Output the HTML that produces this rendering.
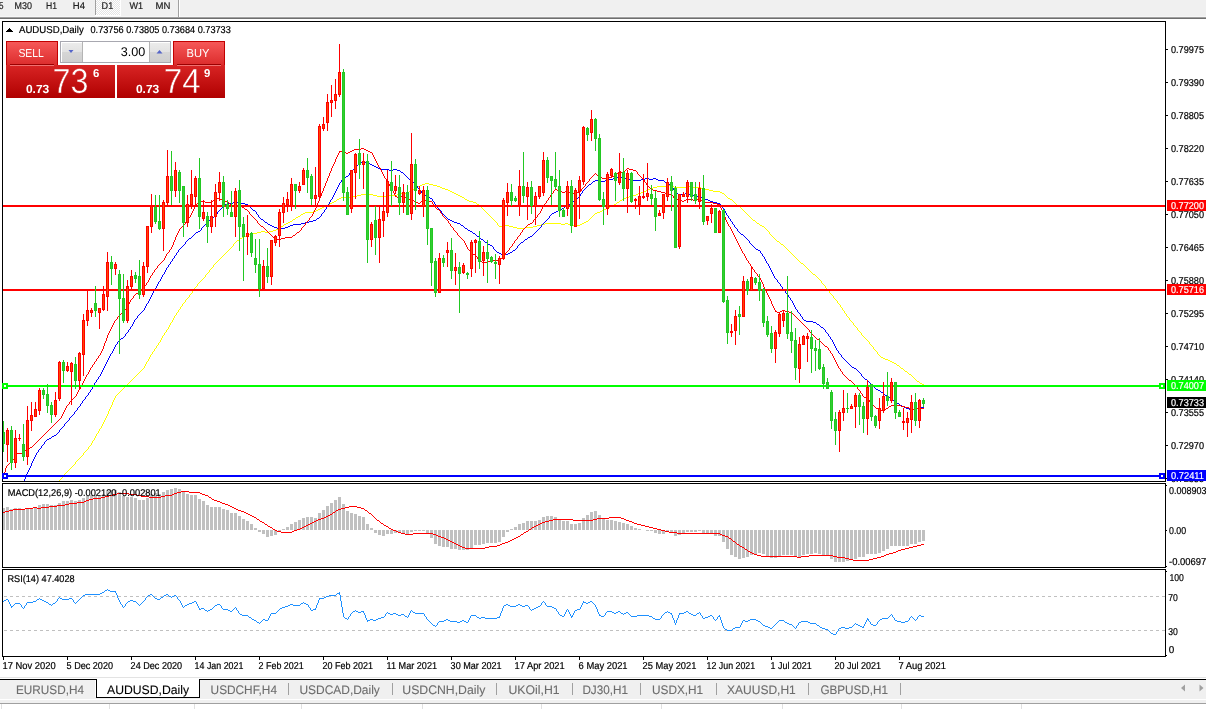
<!DOCTYPE html>
<html><head><meta charset="utf-8"><title>AUDUSD,Daily</title>
<style>html,body{margin:0;padding:0;background:#fff;overflow:hidden}svg{display:block}</style></head>
<body><svg width="1206" height="709" viewBox="0 0 1206 709" shape-rendering="crispEdges" text-rendering="geometricPrecision">
<rect x="0" y="0" width="1206" height="709" fill="#fff"/>
<rect x="0" y="0" width="1206" height="17" fill="#f0f0f0"/><rect x="0" y="17" width="1206" height="1" fill="#a0a0a0"/><rect x="0" y="18" width="1206" height="1" fill="#6f6f6f"/><defs><pattern id="chk" x="0" y="0" width="2" height="2" patternUnits="userSpaceOnUse"><rect width="2" height="2" fill="#ffffff"/><rect x="1" y="0" width="1" height="1" fill="#e4e4e4"/><rect x="0" y="1" width="1" height="1" fill="#e4e4e4"/></pattern></defs><rect x="95" y="0" width="1" height="15" fill="#a0a0a0"/><rect x="96" y="0" width="24" height="15" fill="url(#chk)"/><rect x="120" y="0" width="1" height="16" fill="#ffffff"/><rect x="95" y="15" width="26" height="1" fill="#ffffff"/><rect x="0" y="16" width="1206" height="1" fill="#f6f6f6"/><rect x="178" y="0" width="1" height="17" fill="#a0a0a0"/><rect x="179" y="0" width="1" height="17" fill="#ffffff"/><text x="-1" y="9" font-size="9.8" fill="#222" font-family="'Liberation Sans', Arial, sans-serif" textLength="4.5" lengthAdjust="spacingAndGlyphs" stroke="#222" stroke-width="0.2">5</text><text x="14.6" y="9" font-size="9.8" fill="#222" font-family="'Liberation Sans', Arial, sans-serif" textLength="17.4" lengthAdjust="spacingAndGlyphs" stroke="#222" stroke-width="0.2">M30</text><text x="46" y="9" font-size="9.8" fill="#222" font-family="'Liberation Sans', Arial, sans-serif" textLength="11" lengthAdjust="spacingAndGlyphs" stroke="#222" stroke-width="0.2">H1</text><text x="72.8" y="9" font-size="9.8" fill="#222" font-family="'Liberation Sans', Arial, sans-serif" textLength="12.2" lengthAdjust="spacingAndGlyphs" stroke="#222" stroke-width="0.2">H4</text><text x="101.6" y="9" font-size="9.8" fill="#222" font-family="'Liberation Sans', Arial, sans-serif" textLength="11.6" lengthAdjust="spacingAndGlyphs" stroke="#222" stroke-width="0.2">D1</text><text x="129.4" y="9" font-size="9.8" fill="#222" font-family="'Liberation Sans', Arial, sans-serif" textLength="13.6" lengthAdjust="spacingAndGlyphs" stroke="#222" stroke-width="0.2">W1</text><text x="155.5" y="9" font-size="9.8" fill="#222" font-family="'Liberation Sans', Arial, sans-serif" textLength="14.9" lengthAdjust="spacingAndGlyphs" stroke="#222" stroke-width="0.2">MN</text><defs><clipPath id="cm"><rect x="3" y="22" width="1162" height="459"/></clipPath><clipPath id="cmacd"><rect x="3" y="484" width="1162" height="83"/></clipPath><clipPath id="crsi"><rect x="3" y="570" width="1162" height="86"/></clipPath></defs><rect x="2" y="21" width="1164" height="1" fill="#000"/><rect x="2" y="481" width="1164" height="1" fill="#000"/><rect x="2" y="21" width="1" height="461" fill="#000"/><rect x="1165" y="21" width="1" height="461" fill="#000"/><rect x="2" y="483" width="1164" height="1" fill="#000"/><rect x="2" y="567" width="1164" height="1" fill="#000"/><rect x="2" y="483" width="1" height="85" fill="#000"/><rect x="1165" y="483" width="1" height="85" fill="#000"/><rect x="2" y="569" width="1164" height="1" fill="#000"/><rect x="2" y="656" width="1164" height="1" fill="#000"/><rect x="2" y="569" width="1" height="88" fill="#000"/><rect x="1165" y="569" width="1" height="88" fill="#000"/><g clip-path="url(#cm)"><path d="M59 480h1v1h-1zM60 479h1v1h-1zM61 478h1v1h-1zM62 477h1v1h-1zM63 476h1v1h-1zM64 474h1v2h-1zM65 473h1v1h-1zM66 472h1v1h-1zM67 471h1v1h-1zM68 470h1v1h-1zM69 469h1v1h-1zM70 468h1v1h-1zM71 467h1v1h-1zM72 466h1v1h-1zM73 465h1v1h-1zM74 464h1v1h-1zM75 462h1v2h-1zM76 461h1v1h-1zM77 460h1v1h-1zM78 459h1v1h-1zM79 458h1v1h-1zM80 457h1v1h-1zM81 456h1v1h-1zM82 455h1v1h-1zM83 453h1v2h-1zM84 452h1v1h-1zM85 451h1v1h-1zM86 450h1v1h-1zM87 449h1v1h-1zM88 447h1v2h-1zM89 446h1v1h-1zM90 445h1v1h-1zM91 443h1v2h-1zM92 441h1v2h-1zM93 440h1v1h-1zM94 438h1v2h-1zM95 436h1v2h-1zM96 434h1v2h-1zM97 433h1v1h-1zM98 431h1v2h-1zM99 429h1v2h-1zM100 428h1v1h-1zM101 426h1v2h-1zM102 424h1v2h-1zM103 422h1v2h-1zM104 420h1v2h-1zM105 418h1v2h-1zM106 416h1v2h-1zM107 414h1v2h-1zM108 411h1v3h-1zM109 409h1v2h-1zM110 407h1v2h-1zM111 405h1v2h-1zM112 402h1v3h-1zM113 400h1v2h-1zM114 398h1v2h-1zM115 396h1v2h-1zM116 395h1v1h-1zM117 394h1v1h-1zM118 393h1v1h-1zM119 392h1v1h-1zM120 391h1v1h-1zM121 390h1v1h-1zM122 389h1v1h-1zM123 388h1v1h-1zM124 387h1v1h-1zM125 386h1v1h-1zM126 385h1v1h-1zM127 384h1v1h-1zM128 383h1v1h-1zM129 382h1v1h-1zM130 381h1v1h-1zM131 380h1v1h-1zM132 379h1v1h-1zM133 378h1v1h-1zM134 377h1v1h-1zM135 376h1v1h-1zM136 375h1v1h-1zM137 374h1v1h-1zM138 373h1v1h-1zM139 372h1v1h-1zM140 371h1v1h-1zM141 370h1v1h-1zM142 369h1v1h-1zM143 368h1v1h-1zM144 366h1v2h-1zM145 364h1v2h-1zM146 362h1v2h-1zM147 361h1v1h-1zM148 359h1v2h-1zM149 357h1v2h-1zM150 355h1v2h-1zM151 354h1v1h-1zM152 352h1v2h-1zM153 351h1v1h-1zM154 349h1v2h-1zM155 348h1v1h-1zM156 346h1v2h-1zM157 345h1v1h-1zM158 343h1v2h-1zM159 342h1v1h-1zM160 340h1v2h-1zM161 338h1v2h-1zM162 336h1v2h-1zM163 335h1v1h-1zM164 333h1v2h-1zM165 332h1v1h-1zM166 330h1v2h-1zM167 329h1v1h-1zM168 327h1v2h-1zM169 325h1v2h-1zM170 323h1v2h-1zM171 322h1v1h-1zM172 320h1v2h-1zM173 318h1v2h-1zM174 316h1v2h-1zM175 315h1v1h-1zM176 313h1v2h-1zM177 312h1v1h-1zM178 310h1v2h-1zM179 309h1v1h-1zM180 307h1v2h-1zM181 306h1v1h-1zM182 304h1v2h-1zM183 303h1v1h-1zM184 302h1v1h-1zM185 300h1v2h-1zM186 299h1v1h-1zM187 298h1v1h-1zM188 297h1v1h-1zM189 295h1v2h-1zM190 294h1v1h-1zM191 293h1v1h-1zM192 291h1v2h-1zM193 290h1v1h-1zM194 288h1v2h-1zM195 287h1v1h-1zM196 286h1v1h-1zM197 284h1v2h-1zM198 283h1v1h-1zM199 282h1v1h-1zM200 281h1v1h-1zM201 280h1v1h-1zM202 279h1v1h-1zM203 278h1v1h-1zM204 277h1v1h-1zM205 275h1v2h-1zM206 274h1v1h-1zM207 273h1v1h-1zM208 272h1v1h-1zM209 270h1v2h-1zM210 269h1v1h-1zM211 268h1v1h-1zM212 267h1v1h-1zM213 265h1v2h-1zM214 264h1v1h-1zM215 263h1v1h-1zM216 262h1v1h-1zM217 261h1v1h-1zM218 260h1v1h-1zM219 259h1v1h-1zM220 258h1v1h-1zM221 257h1v1h-1zM222 256h1v1h-1zM223 255h1v1h-1zM224 254h1v1h-1zM225 253h1v1h-1zM226 252h1v1h-1zM227 251h1v1h-1zM228 250h1v1h-1zM229 249h1v1h-1zM230 248h1v1h-1zM231 247h1v1h-1zM232 246h1v1h-1zM233 244h1v2h-1zM234 243h1v1h-1zM235 242h1v1h-1zM236 241h1v1h-1zM237 240h1v1h-1zM238 240h1v1h-1zM239 239h1v1h-1zM240 238h1v1h-1zM241 238h1v1h-1zM242 237h1v1h-1zM243 237h1v1h-1zM244 236h1v1h-1zM245 236h1v1h-1zM246 235h1v1h-1zM247 235h1v1h-1zM248 235h1v1h-1zM249 234h1v1h-1zM250 234h1v1h-1zM251 234h1v1h-1zM252 234h1v1h-1zM253 233h1v1h-1zM254 233h1v1h-1zM255 233h1v1h-1zM256 233h1v1h-1zM257 232h1v1h-1zM258 232h1v1h-1zM259 232h1v1h-1zM260 232h1v1h-1zM261 231h1v1h-1zM262 231h1v1h-1zM263 231h1v1h-1zM264 231h1v1h-1zM265 232h1v1h-1zM266 232h1v1h-1zM267 232h1v1h-1zM268 232h1v1h-1zM269 231h1v1h-1zM270 231h1v1h-1zM271 231h1v1h-1zM272 231h1v1h-1zM273 230h1v1h-1zM274 230h1v1h-1zM275 230h1v1h-1zM276 229h1v1h-1zM277 229h1v1h-1zM278 228h1v1h-1zM279 228h1v1h-1zM280 227h1v1h-1zM281 226h1v1h-1zM282 226h1v1h-1zM283 225h1v1h-1zM284 224h1v1h-1zM285 224h1v1h-1zM286 223h1v1h-1zM287 223h1v1h-1zM288 222h1v1h-1zM289 222h1v1h-1zM290 221h1v1h-1zM291 221h1v1h-1zM292 220h1v1h-1zM293 219h1v1h-1zM294 219h1v1h-1zM295 218h1v1h-1zM296 217h1v1h-1zM297 217h1v1h-1zM298 216h1v1h-1zM299 216h1v1h-1zM300 215h1v1h-1zM301 214h1v1h-1zM302 214h1v1h-1zM303 213h1v1h-1zM304 213h1v1h-1zM305 212h1v1h-1zM306 212h1v1h-1zM307 212h1v1h-1zM308 212h1v1h-1zM309 212h1v1h-1zM310 212h1v1h-1zM311 212h1v1h-1zM312 212h1v1h-1zM313 211h1v1h-1zM314 211h1v1h-1zM315 211h1v1h-1zM316 210h1v1h-1zM317 210h1v1h-1zM318 209h1v1h-1zM319 209h1v1h-1zM320 208h1v1h-1zM321 208h1v1h-1zM322 207h1v1h-1zM323 207h1v1h-1zM324 206h1v1h-1zM325 206h1v1h-1zM326 205h1v1h-1zM327 205h1v1h-1zM328 204h1v1h-1zM329 204h1v1h-1zM330 203h1v1h-1zM331 203h1v1h-1zM332 202h1v1h-1zM333 202h1v1h-1zM334 201h1v1h-1zM335 201h1v1h-1zM336 200h1v1h-1zM337 199h1v1h-1zM338 199h1v1h-1zM339 198h1v1h-1zM340 198h1v1h-1zM341 197h1v1h-1zM342 197h1v1h-1zM343 197h1v1h-1zM344 197h1v1h-1zM345 197h1v1h-1zM346 197h1v1h-1zM347 197h1v1h-1zM348 197h1v1h-1zM349 197h1v1h-1zM350 197h1v1h-1zM351 197h1v1h-1zM352 197h1v1h-1zM353 196h1v1h-1zM354 196h1v1h-1zM355 196h1v1h-1zM356 196h1v1h-1zM357 195h1v1h-1zM358 195h1v1h-1zM359 195h1v1h-1zM360 195h1v1h-1zM361 194h1v1h-1zM362 194h1v1h-1zM363 194h1v1h-1zM364 194h1v1h-1zM365 194h1v1h-1zM366 194h1v1h-1zM367 194h1v1h-1zM368 194h1v1h-1zM369 194h1v1h-1zM370 194h1v1h-1zM371 194h1v1h-1zM372 194h1v1h-1zM373 195h1v1h-1zM374 195h1v1h-1zM375 195h1v1h-1zM376 195h1v1h-1zM377 196h1v1h-1zM378 196h1v1h-1zM379 196h1v1h-1zM380 196h1v1h-1zM381 196h1v1h-1zM382 196h1v1h-1zM383 196h1v1h-1zM384 196h1v1h-1zM385 196h1v1h-1zM386 196h1v1h-1zM387 196h1v1h-1zM388 196h1v1h-1zM389 195h1v1h-1zM390 195h1v1h-1zM391 195h1v1h-1zM392 195h1v1h-1zM393 195h1v1h-1zM394 195h1v1h-1zM395 195h1v1h-1zM396 195h1v1h-1zM397 194h1v1h-1zM398 194h1v1h-1zM399 194h1v1h-1zM400 194h1v1h-1zM401 193h1v1h-1zM402 193h1v1h-1zM403 193h1v1h-1zM404 193h1v1h-1zM405 193h1v1h-1zM406 193h1v1h-1zM407 193h1v1h-1zM408 192h1v1h-1zM409 191h1v1h-1zM410 191h1v1h-1zM411 190h1v1h-1zM412 189h1v1h-1zM413 189h1v1h-1zM414 188h1v1h-1zM415 188h1v1h-1zM416 187h1v1h-1zM417 187h1v1h-1zM418 186h1v1h-1zM419 186h1v1h-1zM420 185h1v1h-1zM421 185h1v1h-1zM422 184h1v1h-1zM423 184h1v1h-1zM424 184h1v1h-1zM425 183h1v1h-1zM426 183h1v1h-1zM427 183h1v1h-1zM428 183h1v1h-1zM429 184h1v1h-1zM430 184h1v1h-1zM431 184h1v1h-1zM432 184h1v1h-1zM433 185h1v1h-1zM434 185h1v1h-1zM435 185h1v1h-1zM436 185h1v1h-1zM437 186h1v1h-1zM438 186h1v1h-1zM439 186h1v1h-1zM440 187h1v1h-1zM441 187h1v1h-1zM442 188h1v1h-1zM443 188h1v1h-1zM444 188h1v1h-1zM445 189h1v1h-1zM446 189h1v1h-1zM447 189h1v1h-1zM448 190h1v1h-1zM449 190h1v1h-1zM450 191h1v1h-1zM451 191h1v1h-1zM452 192h1v1h-1zM453 192h1v1h-1zM454 193h1v1h-1zM455 193h1v1h-1zM456 194h1v1h-1zM457 194h1v1h-1zM458 195h1v1h-1zM459 195h1v1h-1zM460 196h1v1h-1zM461 196h1v1h-1zM462 197h1v1h-1zM463 197h1v1h-1zM464 198h1v1h-1zM465 199h1v1h-1zM466 199h1v1h-1zM467 200h1v1h-1zM468 200h1v1h-1zM469 201h1v1h-1zM470 201h1v1h-1zM471 201h1v1h-1zM472 201h1v1h-1zM473 202h1v1h-1zM474 202h1v1h-1zM475 202h1v1h-1zM476 203h1v1h-1zM477 204h1v1h-1zM478 204h1v1h-1zM479 205h1v1h-1zM480 206h1v1h-1zM481 207h1v1h-1zM482 208h1v1h-1zM483 209h1v1h-1zM484 210h1v1h-1zM485 211h1v1h-1zM486 212h1v1h-1zM487 213h1v1h-1zM488 214h1v1h-1zM489 215h1v1h-1zM490 216h1v1h-1zM491 217h1v1h-1zM492 218h1v1h-1zM493 219h1v1h-1zM494 220h1v1h-1zM495 221h1v1h-1zM496 222h1v1h-1zM497 223h1v2h-1zM498 225h1v1h-1zM499 226h1v1h-1zM500 226h1v1h-1zM501 226h1v1h-1zM502 226h1v1h-1zM503 226h1v1h-1zM504 226h1v1h-1zM505 225h1v1h-1zM506 225h1v1h-1zM507 225h1v1h-1zM508 225h1v1h-1zM509 226h1v1h-1zM510 226h1v1h-1zM511 226h1v1h-1zM512 226h1v1h-1zM513 227h1v1h-1zM514 227h1v1h-1zM515 227h1v1h-1zM516 227h1v1h-1zM517 228h1v1h-1zM518 228h1v1h-1zM519 228h1v1h-1zM520 228h1v1h-1zM521 228h1v1h-1zM522 228h1v1h-1zM523 228h1v1h-1zM524 228h1v1h-1zM525 227h1v1h-1zM526 227h1v1h-1zM527 227h1v1h-1zM528 227h1v1h-1zM529 227h1v1h-1zM530 227h1v1h-1zM531 227h1v1h-1zM532 227h1v1h-1zM533 226h1v1h-1zM534 226h1v1h-1zM535 226h1v1h-1zM536 226h1v1h-1zM537 225h1v1h-1zM538 225h1v1h-1zM539 225h1v1h-1zM540 225h1v1h-1zM541 224h1v1h-1zM542 224h1v1h-1zM543 224h1v1h-1zM544 224h1v1h-1zM545 223h1v1h-1zM546 223h1v1h-1zM547 223h1v1h-1zM548 223h1v1h-1zM549 223h1v1h-1zM550 223h1v1h-1zM551 223h1v1h-1zM552 223h1v1h-1zM553 223h1v1h-1zM554 223h1v1h-1zM555 223h1v1h-1zM556 223h1v1h-1zM557 223h1v1h-1zM558 223h1v1h-1zM559 223h1v1h-1zM560 223h1v1h-1zM561 224h1v1h-1zM562 224h1v1h-1zM563 224h1v1h-1zM564 224h1v1h-1zM565 223h1v1h-1zM566 223h1v1h-1zM567 223h1v1h-1zM568 224h1v1h-1zM569 224h1v1h-1zM570 225h1v1h-1zM571 225h1v1h-1zM572 225h1v1h-1zM573 225h1v1h-1zM574 225h1v1h-1zM575 225h1v1h-1zM576 225h1v1h-1zM577 225h1v1h-1zM578 225h1v1h-1zM579 225h1v1h-1zM580 224h1v1h-1zM581 224h1v1h-1zM582 223h1v1h-1zM583 223h1v1h-1zM584 222h1v1h-1zM585 222h1v1h-1zM586 221h1v1h-1zM587 221h1v1h-1zM588 220h1v1h-1zM589 219h1v1h-1zM590 218h1v1h-1zM591 217h1v1h-1zM592 216h1v1h-1zM593 215h1v1h-1zM594 214h1v1h-1zM595 213h1v1h-1zM596 213h1v1h-1zM597 212h1v1h-1zM598 212h1v1h-1zM599 212h1v1h-1zM600 211h1v1h-1zM601 211h1v1h-1zM602 210h1v1h-1zM603 210h1v1h-1zM604 209h1v1h-1zM605 209h1v1h-1zM606 208h1v1h-1zM607 208h1v1h-1zM608 207h1v1h-1zM609 207h1v1h-1zM610 206h1v1h-1zM611 206h1v1h-1zM612 205h1v1h-1zM613 205h1v1h-1zM614 204h1v1h-1zM615 204h1v1h-1zM616 203h1v1h-1zM617 202h1v1h-1zM618 202h1v1h-1zM619 201h1v1h-1zM620 200h1v1h-1zM621 200h1v1h-1zM622 199h1v1h-1zM623 199h1v1h-1zM624 198h1v1h-1zM625 198h1v1h-1zM626 197h1v1h-1zM627 197h1v1h-1zM628 197h1v1h-1zM629 196h1v1h-1zM630 196h1v1h-1zM631 196h1v1h-1zM632 196h1v1h-1zM633 195h1v1h-1zM634 195h1v1h-1zM635 195h1v1h-1zM636 194h1v1h-1zM637 194h1v1h-1zM638 193h1v1h-1zM639 193h1v1h-1zM640 193h1v1h-1zM641 192h1v1h-1zM642 192h1v1h-1zM643 192h1v1h-1zM644 191h1v1h-1zM645 191h1v1h-1zM646 190h1v1h-1zM647 190h1v1h-1zM648 189h1v1h-1zM649 189h1v1h-1zM650 188h1v1h-1zM651 188h1v1h-1zM652 188h1v1h-1zM653 187h1v1h-1zM654 187h1v1h-1zM655 187h1v1h-1zM656 187h1v1h-1zM657 186h1v1h-1zM658 186h1v1h-1zM659 186h1v1h-1zM660 186h1v1h-1zM661 186h1v1h-1zM662 186h1v1h-1zM663 186h1v1h-1zM664 186h1v1h-1zM665 186h1v1h-1zM666 186h1v1h-1zM667 186h1v1h-1zM668 186h1v1h-1zM669 185h1v1h-1zM670 185h1v1h-1zM671 185h1v1h-1zM672 186h1v1h-1zM673 186h1v1h-1zM674 187h1v1h-1zM675 187h1v1h-1zM676 187h1v1h-1zM677 187h1v1h-1zM678 187h1v1h-1zM679 187h1v1h-1zM680 187h1v1h-1zM681 187h1v1h-1zM682 187h1v1h-1zM683 187h1v1h-1zM684 187h1v1h-1zM685 187h1v1h-1zM686 187h1v1h-1zM687 187h1v1h-1zM688 187h1v1h-1zM689 186h1v1h-1zM690 186h1v1h-1zM691 186h1v1h-1zM692 186h1v1h-1zM693 187h1v1h-1zM694 187h1v1h-1zM695 187h1v1h-1zM696 187h1v1h-1zM697 187h1v1h-1zM698 187h1v1h-1zM699 187h1v1h-1zM700 187h1v1h-1zM701 188h1v1h-1zM702 188h1v1h-1zM703 188h1v1h-1zM704 188h1v1h-1zM705 189h1v1h-1zM706 189h1v1h-1zM707 189h1v1h-1zM708 189h1v1h-1zM709 190h1v1h-1zM710 190h1v1h-1zM711 190h1v1h-1zM712 190h1v1h-1zM713 191h1v1h-1zM714 191h1v1h-1zM715 191h1v1h-1zM716 191h1v1h-1zM717 191h1v1h-1zM718 191h1v1h-1zM719 191h1v1h-1zM720 192h1v1h-1zM721 192h1v1h-1zM722 193h1v1h-1zM723 193h1v1h-1zM724 194h1v1h-1zM725 195h1v1h-1zM726 196h1v1h-1zM727 197h1v1h-1zM728 198h1v1h-1zM729 198h1v1h-1zM730 199h1v1h-1zM731 199h1v1h-1zM732 200h1v1h-1zM733 201h1v1h-1zM734 202h1v1h-1zM735 203h1v1h-1zM736 204h1v1h-1zM737 205h1v1h-1zM738 205h1v1h-1zM739 206h1v1h-1zM740 207h1v1h-1zM741 208h1v1h-1zM742 209h1v1h-1zM743 210h1v1h-1zM744 211h1v1h-1zM745 212h1v1h-1zM746 213h1v1h-1zM747 214h1v1h-1zM748 215h1v1h-1zM749 216h1v1h-1zM750 217h1v1h-1zM751 218h1v1h-1zM752 219h1v1h-1zM753 220h1v1h-1zM754 220h1v1h-1zM755 221h1v1h-1zM756 222h1v1h-1zM757 223h1v1h-1zM758 223h1v1h-1zM759 224h1v1h-1zM760 225h1v1h-1zM761 225h1v1h-1zM762 226h1v1h-1zM763 226h1v1h-1zM764 227h1v1h-1zM765 228h1v1h-1zM766 229h1v1h-1zM767 230h1v1h-1zM768 231h1v1h-1zM769 232h1v2h-1zM770 234h1v1h-1zM771 235h1v1h-1zM772 236h1v1h-1zM773 237h1v1h-1zM774 238h1v1h-1zM775 239h1v1h-1zM776 240h1v1h-1zM777 241h1v1h-1zM778 241h1v1h-1zM779 242h1v1h-1zM780 243h1v1h-1zM781 244h1v1h-1zM782 244h1v1h-1zM783 245h1v1h-1zM784 246h1v1h-1zM785 247h1v1h-1zM786 248h1v1h-1zM787 249h1v1h-1zM788 250h1v1h-1zM789 251h1v1h-1zM790 252h1v1h-1zM791 253h1v1h-1zM792 254h1v1h-1zM793 255h1v1h-1zM794 256h1v1h-1zM795 257h1v1h-1zM796 258h1v1h-1zM797 259h1v1h-1zM798 260h1v1h-1zM799 261h1v1h-1zM800 262h1v1h-1zM801 263h1v1h-1zM802 263h1v1h-1zM803 264h1v1h-1zM804 265h1v1h-1zM805 266h1v1h-1zM806 267h1v1h-1zM807 268h1v1h-1zM808 269h1v1h-1zM809 270h1v1h-1zM810 271h1v1h-1zM811 272h1v1h-1zM812 273h1v1h-1zM813 274h1v1h-1zM814 274h1v1h-1zM815 275h1v1h-1zM816 276h1v1h-1zM817 277h1v1h-1zM818 278h1v1h-1zM819 279h1v1h-1zM820 280h1v1h-1zM821 281h1v2h-1zM822 283h1v1h-1zM823 284h1v1h-1zM824 285h1v1h-1zM825 286h1v2h-1zM826 288h1v1h-1zM827 289h1v1h-1zM828 290h1v1h-1zM829 291h1v2h-1zM830 293h1v1h-1zM831 294h1v1h-1zM832 295h1v1h-1zM833 296h1v2h-1zM834 298h1v1h-1zM835 299h1v1h-1zM836 300h1v1h-1zM837 301h1v2h-1zM838 303h1v1h-1zM839 304h1v1h-1zM840 305h1v2h-1zM841 307h1v1h-1zM842 308h1v2h-1zM843 310h1v1h-1zM844 311h1v2h-1zM845 313h1v1h-1zM846 314h1v2h-1zM847 316h1v1h-1zM848 317h1v1h-1zM849 318h1v2h-1zM850 320h1v1h-1zM851 321h1v1h-1zM852 322h1v1h-1zM853 323h1v2h-1zM854 325h1v1h-1zM855 326h1v1h-1zM856 327h1v1h-1zM857 328h1v2h-1zM858 330h1v1h-1zM859 331h1v1h-1zM860 332h1v1h-1zM861 333h1v2h-1zM862 335h1v1h-1zM863 336h1v1h-1zM864 337h1v1h-1zM865 338h1v1h-1zM866 339h1v1h-1zM867 340h1v1h-1zM868 341h1v1h-1zM869 342h1v2h-1zM870 344h1v1h-1zM871 345h1v1h-1zM872 346h1v1h-1zM873 347h1v2h-1zM874 349h1v1h-1zM875 350h1v1h-1zM876 351h1v1h-1zM877 352h1v2h-1zM878 354h1v1h-1zM879 355h1v1h-1zM880 356h1v1h-1zM881 357h1v1h-1zM882 357h1v1h-1zM883 358h1v1h-1zM884 358h1v1h-1zM885 359h1v1h-1zM886 359h1v1h-1zM887 359h1v1h-1zM888 360h1v1h-1zM889 360h1v1h-1zM890 361h1v1h-1zM891 361h1v1h-1zM892 362h1v1h-1zM893 362h1v1h-1zM894 363h1v1h-1zM895 363h1v1h-1zM896 364h1v1h-1zM897 365h1v1h-1zM898 365h1v1h-1zM899 366h1v1h-1zM900 367h1v1h-1zM901 368h1v1h-1zM902 368h1v1h-1zM903 369h1v1h-1zM904 370h1v1h-1zM905 371h1v1h-1zM906 371h1v1h-1zM907 372h1v1h-1zM908 373h1v1h-1zM909 374h1v1h-1zM910 374h1v1h-1zM911 375h1v1h-1zM912 376h1v1h-1zM913 377h1v1h-1zM914 378h1v1h-1zM915 379h1v1h-1zM916 380h1v1h-1zM917 381h1v1h-1zM918 381h1v1h-1zM919 382h1v1h-1zM920 383h1v1h-1zM921 383h1v1h-1zM922 384h1v1h-1zM923 384h1v1h-1z" fill="#ffff00"/><path d="M24 479h1v2h-1zM25 477h1v2h-1zM26 474h1v3h-1zM27 472h1v2h-1zM28 470h1v2h-1zM29 468h1v2h-1zM30 466h1v2h-1zM31 463h1v3h-1zM32 461h1v2h-1zM33 459h1v2h-1zM34 457h1v2h-1zM35 455h1v2h-1zM36 453h1v2h-1zM37 452h1v1h-1zM38 450h1v2h-1zM39 449h1v1h-1zM40 448h1v1h-1zM41 446h1v2h-1zM42 445h1v1h-1zM43 444h1v1h-1zM44 442h1v2h-1zM45 441h1v1h-1zM46 440h1v1h-1zM47 439h1v1h-1zM48 439h1v1h-1zM49 438h1v1h-1zM50 438h1v1h-1zM51 437h1v1h-1zM52 436h1v1h-1zM53 436h1v1h-1zM54 435h1v1h-1zM55 435h1v1h-1zM56 434h1v1h-1zM57 433h1v1h-1zM58 432h1v1h-1zM59 430h1v2h-1zM60 429h1v1h-1zM61 428h1v1h-1zM62 427h1v1h-1zM63 426h1v1h-1zM64 424h1v2h-1zM65 423h1v1h-1zM66 422h1v1h-1zM67 421h1v1h-1zM68 420h1v1h-1zM69 418h1v2h-1zM70 417h1v1h-1zM71 416h1v1h-1zM72 415h1v1h-1zM73 414h1v1h-1zM74 412h1v2h-1zM75 411h1v1h-1zM76 410h1v1h-1zM77 408h1v2h-1zM78 407h1v1h-1zM79 406h1v1h-1zM80 404h1v2h-1zM81 403h1v1h-1zM82 401h1v2h-1zM83 400h1v1h-1zM84 399h1v1h-1zM85 397h1v2h-1zM86 396h1v1h-1zM87 395h1v1h-1zM88 393h1v2h-1zM89 392h1v1h-1zM90 390h1v2h-1zM91 389h1v1h-1zM92 387h1v2h-1zM93 385h1v2h-1zM94 383h1v2h-1zM95 382h1v1h-1zM96 380h1v2h-1zM97 379h1v1h-1zM98 377h1v2h-1zM99 376h1v1h-1zM100 374h1v2h-1zM101 372h1v2h-1zM102 370h1v2h-1zM103 368h1v2h-1zM104 366h1v2h-1zM105 364h1v2h-1zM106 362h1v2h-1zM107 360h1v2h-1zM108 358h1v2h-1zM109 356h1v2h-1zM110 354h1v2h-1zM111 353h1v1h-1zM112 351h1v2h-1zM113 349h1v2h-1zM114 347h1v2h-1zM115 345h1v2h-1zM116 344h1v1h-1zM117 342h1v2h-1zM118 341h1v1h-1zM119 340h1v1h-1zM120 339h1v1h-1zM121 338h1v1h-1zM122 338h1v1h-1zM123 337h1v1h-1zM124 336h1v1h-1zM125 334h1v2h-1zM126 333h1v1h-1zM127 332h1v1h-1zM128 330h1v2h-1zM129 329h1v1h-1zM130 327h1v2h-1zM131 326h1v1h-1zM132 324h1v2h-1zM133 322h1v2h-1zM134 320h1v2h-1zM135 319h1v1h-1zM136 318h1v1h-1zM137 316h1v2h-1zM138 315h1v1h-1zM139 314h1v1h-1zM140 313h1v1h-1zM141 312h1v1h-1zM142 311h1v1h-1zM143 310h1v1h-1zM144 308h1v2h-1zM145 306h1v2h-1zM146 304h1v2h-1zM147 303h1v1h-1zM148 301h1v2h-1zM149 299h1v2h-1zM150 297h1v2h-1zM151 295h1v2h-1zM152 293h1v2h-1zM153 291h1v2h-1zM154 289h1v2h-1zM155 288h1v1h-1zM156 286h1v2h-1zM157 284h1v2h-1zM158 282h1v2h-1zM159 281h1v1h-1zM160 279h1v2h-1zM161 277h1v2h-1zM162 275h1v2h-1zM163 274h1v1h-1zM164 272h1v2h-1zM165 270h1v2h-1zM166 268h1v2h-1zM167 267h1v1h-1zM168 265h1v2h-1zM169 264h1v1h-1zM170 262h1v2h-1zM171 261h1v1h-1zM172 259h1v2h-1zM173 258h1v1h-1zM174 256h1v2h-1zM175 255h1v1h-1zM176 253h1v2h-1zM177 252h1v1h-1zM178 250h1v2h-1zM179 249h1v1h-1zM180 248h1v1h-1zM181 247h1v1h-1zM182 246h1v1h-1zM183 245h1v1h-1zM184 244h1v1h-1zM185 242h1v2h-1zM186 241h1v1h-1zM187 240h1v1h-1zM188 239h1v1h-1zM189 238h1v1h-1zM190 238h1v1h-1zM191 237h1v1h-1zM192 236h1v1h-1zM193 235h1v1h-1zM194 234h1v1h-1zM195 233h1v1h-1zM196 232h1v1h-1zM197 232h1v1h-1zM198 231h1v1h-1zM199 231h1v1h-1zM200 230h1v1h-1zM201 228h1v2h-1zM202 227h1v1h-1zM203 226h1v1h-1zM204 225h1v1h-1zM205 224h1v1h-1zM206 223h1v1h-1zM207 222h1v1h-1zM208 221h1v1h-1zM209 220h1v1h-1zM210 220h1v1h-1zM211 219h1v1h-1zM212 218h1v1h-1zM213 217h1v1h-1zM214 216h1v1h-1zM215 215h1v1h-1zM216 214h1v1h-1zM217 212h1v2h-1zM218 211h1v1h-1zM219 210h1v1h-1zM220 209h1v1h-1zM221 208h1v1h-1zM222 207h1v1h-1zM223 206h1v1h-1zM224 205h1v1h-1zM225 204h1v1h-1zM226 204h1v1h-1zM227 203h1v1h-1zM228 203h1v1h-1zM229 203h1v1h-1zM230 203h1v1h-1zM231 203h1v1h-1zM232 203h1v1h-1zM233 202h1v1h-1zM234 202h1v1h-1zM235 202h1v1h-1zM236 202h1v1h-1zM237 202h1v1h-1zM238 202h1v1h-1zM239 202h1v1h-1zM240 202h1v1h-1zM241 203h1v1h-1zM242 203h1v1h-1zM243 203h1v1h-1zM244 203h1v1h-1zM245 204h1v1h-1zM246 204h1v1h-1zM247 204h1v1h-1zM248 205h1v1h-1zM249 206h1v1h-1zM250 207h1v1h-1zM251 208h1v1h-1zM252 209h1v1h-1zM253 210h1v1h-1zM254 210h1v1h-1zM255 211h1v1h-1zM256 212h1v2h-1zM257 214h1v1h-1zM258 215h1v2h-1zM259 217h1v1h-1zM260 218h1v1h-1zM261 219h1v1h-1zM262 219h1v1h-1zM263 220h1v1h-1zM264 221h1v1h-1zM265 222h1v1h-1zM266 222h1v1h-1zM267 223h1v1h-1zM268 224h1v1h-1zM269 224h1v1h-1zM270 225h1v1h-1zM271 225h1v1h-1zM272 226h1v1h-1zM273 226h1v1h-1zM274 227h1v1h-1zM275 227h1v1h-1zM276 227h1v1h-1zM277 228h1v1h-1zM278 228h1v1h-1zM279 228h1v1h-1zM280 228h1v1h-1zM281 228h1v1h-1zM282 228h1v1h-1zM283 228h1v1h-1zM284 228h1v1h-1zM285 227h1v1h-1zM286 227h1v1h-1zM287 227h1v1h-1zM288 226h1v1h-1zM289 226h1v1h-1zM290 225h1v1h-1zM291 225h1v1h-1zM292 225h1v1h-1zM293 224h1v1h-1zM294 224h1v1h-1zM295 224h1v1h-1zM296 224h1v1h-1zM297 224h1v1h-1zM298 224h1v1h-1zM299 224h1v1h-1zM300 224h1v1h-1zM301 223h1v1h-1zM302 223h1v1h-1zM303 223h1v1h-1zM304 223h1v1h-1zM305 222h1v1h-1zM306 222h1v1h-1zM307 222h1v1h-1zM308 222h1v1h-1zM309 221h1v1h-1zM310 221h1v1h-1zM311 221h1v1h-1zM312 221h1v1h-1zM313 220h1v1h-1zM314 220h1v1h-1zM315 220h1v1h-1zM316 219h1v1h-1zM317 218h1v1h-1zM318 218h1v1h-1zM319 217h1v1h-1zM320 216h1v1h-1zM321 214h1v2h-1zM322 213h1v1h-1zM323 212h1v1h-1zM324 210h1v2h-1zM325 209h1v1h-1zM326 207h1v2h-1zM327 206h1v1h-1zM328 204h1v2h-1zM329 202h1v2h-1zM330 200h1v2h-1zM331 199h1v1h-1zM332 197h1v2h-1zM333 195h1v2h-1zM334 193h1v2h-1zM335 191h1v2h-1zM336 189h1v2h-1zM337 187h1v2h-1zM338 185h1v2h-1zM339 183h1v2h-1zM340 182h1v1h-1zM341 180h1v2h-1zM342 179h1v1h-1zM343 178h1v1h-1zM344 177h1v1h-1zM345 177h1v1h-1zM346 176h1v1h-1zM347 176h1v1h-1zM348 175h1v1h-1zM349 173h1v2h-1zM350 172h1v1h-1zM351 171h1v1h-1zM352 170h1v1h-1zM353 169h1v1h-1zM354 168h1v1h-1zM355 167h1v1h-1zM356 166h1v1h-1zM357 165h1v1h-1zM358 164h1v1h-1zM359 163h1v1h-1zM360 162h1v1h-1zM361 162h1v1h-1zM362 161h1v1h-1zM363 161h1v1h-1zM364 161h1v1h-1zM365 162h1v1h-1zM366 162h1v1h-1zM367 162h1v1h-1zM368 163h1v1h-1zM369 163h1v1h-1zM370 164h1v1h-1zM371 164h1v1h-1zM372 165h1v1h-1zM373 165h1v1h-1zM374 166h1v1h-1zM375 166h1v1h-1zM376 167h1v1h-1zM377 167h1v1h-1zM378 168h1v1h-1zM379 168h1v1h-1zM380 168h1v1h-1zM381 169h1v1h-1zM382 169h1v1h-1zM383 169h1v1h-1zM384 169h1v1h-1zM385 169h1v1h-1zM386 169h1v1h-1zM387 169h1v1h-1zM388 169h1v1h-1zM389 170h1v1h-1zM390 170h1v1h-1zM391 170h1v1h-1zM392 170h1v1h-1zM393 169h1v1h-1zM394 169h1v1h-1zM395 169h1v1h-1zM396 169h1v1h-1zM397 170h1v1h-1zM398 170h1v1h-1zM399 170h1v1h-1zM400 171h1v1h-1zM401 172h1v1h-1zM402 172h1v1h-1zM403 173h1v1h-1zM404 174h1v1h-1zM405 175h1v1h-1zM406 176h1v1h-1zM407 177h1v1h-1zM408 178h1v1h-1zM409 179h1v1h-1zM410 179h1v1h-1zM411 180h1v1h-1zM412 181h1v1h-1zM413 182h1v1h-1zM414 183h1v1h-1zM415 184h1v1h-1zM416 185h1v1h-1zM417 186h1v2h-1zM418 188h1v1h-1zM419 189h1v1h-1zM420 190h1v1h-1zM421 191h1v2h-1zM422 193h1v1h-1zM423 194h1v1h-1zM424 195h1v1h-1zM425 195h1v1h-1zM426 196h1v1h-1zM427 196h1v1h-1zM428 197h1v1h-1zM429 197h1v1h-1zM430 198h1v1h-1zM431 198h1v1h-1zM432 199h1v2h-1zM433 201h1v1h-1zM434 202h1v2h-1zM435 204h1v1h-1zM436 205h1v1h-1zM437 206h1v2h-1zM438 208h1v1h-1zM439 209h1v1h-1zM440 210h1v1h-1zM441 211h1v2h-1zM442 213h1v1h-1zM443 214h1v1h-1zM444 215h1v1h-1zM445 216h1v1h-1zM446 217h1v1h-1zM447 218h1v1h-1zM448 219h1v1h-1zM449 219h1v1h-1zM450 220h1v1h-1zM451 220h1v1h-1zM452 221h1v1h-1zM453 221h1v1h-1zM454 222h1v1h-1zM455 222h1v1h-1zM456 222h1v1h-1zM457 223h1v1h-1zM458 223h1v1h-1zM459 223h1v1h-1zM460 224h1v1h-1zM461 225h1v1h-1zM462 225h1v1h-1zM463 226h1v1h-1zM464 227h1v1h-1zM465 228h1v1h-1zM466 228h1v1h-1zM467 229h1v1h-1zM468 230h1v1h-1zM469 230h1v1h-1zM470 231h1v1h-1zM471 231h1v1h-1zM472 232h1v1h-1zM473 233h1v1h-1zM474 233h1v1h-1zM475 234h1v1h-1zM476 235h1v1h-1zM477 236h1v1h-1zM478 236h1v1h-1zM479 237h1v1h-1zM480 238h1v1h-1zM481 239h1v1h-1zM482 239h1v1h-1zM483 240h1v1h-1zM484 241h1v1h-1zM485 242h1v1h-1zM486 242h1v1h-1zM487 243h1v1h-1zM488 244h1v1h-1zM489 244h1v1h-1zM490 245h1v1h-1zM491 245h1v1h-1zM492 246h1v1h-1zM493 247h1v2h-1zM494 249h1v1h-1zM495 250h1v1h-1zM496 251h1v1h-1zM497 252h1v1h-1zM498 252h1v1h-1zM499 253h1v1h-1zM500 253h1v1h-1zM501 254h1v1h-1zM502 254h1v1h-1zM503 254h1v1h-1zM504 254h1v1h-1zM505 254h1v1h-1zM506 254h1v1h-1zM507 254h1v1h-1zM508 253h1v1h-1zM509 253h1v1h-1zM510 252h1v1h-1zM511 252h1v1h-1zM512 251h1v1h-1zM513 250h1v1h-1zM514 250h1v1h-1zM515 249h1v1h-1zM516 248h1v1h-1zM517 246h1v2h-1zM518 245h1v1h-1zM519 244h1v1h-1zM520 243h1v1h-1zM521 242h1v1h-1zM522 242h1v1h-1zM523 241h1v1h-1zM524 240h1v1h-1zM525 239h1v1h-1zM526 239h1v1h-1zM527 238h1v1h-1zM528 237h1v1h-1zM529 237h1v1h-1zM530 236h1v1h-1zM531 236h1v1h-1zM532 235h1v1h-1zM533 234h1v1h-1zM534 233h1v1h-1zM535 232h1v1h-1zM536 231h1v1h-1zM537 230h1v1h-1zM538 229h1v1h-1zM539 228h1v1h-1zM540 227h1v1h-1zM541 225h1v2h-1zM542 224h1v1h-1zM543 223h1v1h-1zM544 222h1v1h-1zM545 221h1v1h-1zM546 220h1v1h-1zM547 219h1v1h-1zM548 218h1v1h-1zM549 216h1v2h-1zM550 215h1v1h-1zM551 214h1v1h-1zM552 213h1v1h-1zM553 213h1v1h-1zM554 212h1v1h-1zM555 212h1v1h-1zM556 211h1v1h-1zM557 211h1v1h-1zM558 210h1v1h-1zM559 210h1v1h-1zM560 209h1v1h-1zM561 209h1v1h-1zM562 208h1v1h-1zM563 208h1v1h-1zM564 207h1v1h-1zM565 206h1v1h-1zM566 206h1v1h-1zM567 205h1v1h-1zM568 204h1v1h-1zM569 204h1v1h-1zM570 203h1v1h-1zM571 203h1v1h-1zM572 202h1v1h-1zM573 201h1v1h-1zM574 201h1v1h-1zM575 200h1v1h-1zM576 199h1v1h-1zM577 198h1v1h-1zM578 197h1v1h-1zM579 196h1v1h-1zM580 194h1v2h-1zM581 193h1v1h-1zM582 191h1v2h-1zM583 190h1v1h-1zM584 189h1v1h-1zM585 188h1v1h-1zM586 187h1v1h-1zM587 186h1v1h-1zM588 185h1v1h-1zM589 184h1v1h-1zM590 184h1v1h-1zM591 183h1v1h-1zM592 182h1v1h-1zM593 181h1v1h-1zM594 181h1v1h-1zM595 180h1v1h-1zM596 180h1v1h-1zM597 180h1v1h-1zM598 180h1v1h-1zM599 180h1v1h-1zM600 180h1v1h-1zM601 181h1v1h-1zM602 181h1v1h-1zM603 181h1v1h-1zM604 181h1v1h-1zM605 180h1v1h-1zM606 180h1v1h-1zM607 180h1v1h-1zM608 180h1v1h-1zM609 179h1v1h-1zM610 179h1v1h-1zM611 179h1v1h-1zM612 179h1v1h-1zM613 178h1v1h-1zM614 178h1v1h-1zM615 178h1v1h-1zM616 178h1v1h-1zM617 177h1v1h-1zM618 177h1v1h-1zM619 177h1v1h-1zM620 177h1v1h-1zM621 177h1v1h-1zM622 177h1v1h-1zM623 177h1v1h-1zM624 177h1v1h-1zM625 178h1v1h-1zM626 178h1v1h-1zM627 178h1v1h-1zM628 178h1v1h-1zM629 179h1v1h-1zM630 179h1v1h-1zM631 179h1v1h-1zM632 179h1v1h-1zM633 180h1v1h-1zM634 180h1v1h-1zM635 180h1v1h-1zM636 180h1v1h-1zM637 180h1v1h-1zM638 180h1v1h-1zM639 180h1v1h-1zM640 180h1v1h-1zM641 179h1v1h-1zM642 179h1v1h-1zM643 179h1v1h-1zM644 179h1v1h-1zM645 178h1v1h-1zM646 178h1v1h-1zM647 178h1v1h-1zM648 178h1v1h-1zM649 179h1v1h-1zM650 179h1v1h-1zM651 179h1v1h-1zM652 179h1v1h-1zM653 178h1v1h-1zM654 178h1v1h-1zM655 178h1v1h-1zM656 179h1v1h-1zM657 179h1v1h-1zM658 180h1v1h-1zM659 180h1v1h-1zM660 180h1v1h-1zM661 180h1v1h-1zM662 180h1v1h-1zM663 180h1v1h-1zM664 181h1v1h-1zM665 182h1v1h-1zM666 182h1v1h-1zM667 183h1v1h-1zM668 184h1v1h-1zM669 184h1v1h-1zM670 185h1v1h-1zM671 185h1v1h-1zM672 186h1v2h-1zM673 188h1v2h-1zM674 190h1v2h-1zM675 192h1v1h-1zM676 193h1v1h-1zM677 193h1v1h-1zM678 194h1v1h-1zM679 194h1v1h-1zM680 194h1v1h-1zM681 194h1v1h-1zM682 194h1v1h-1zM683 194h1v1h-1zM684 194h1v1h-1zM685 193h1v1h-1zM686 193h1v1h-1zM687 193h1v1h-1zM688 193h1v1h-1zM689 194h1v1h-1zM690 194h1v1h-1zM691 194h1v1h-1zM692 194h1v1h-1zM693 195h1v1h-1zM694 195h1v1h-1zM695 195h1v1h-1zM696 195h1v1h-1zM697 196h1v1h-1zM698 196h1v1h-1zM699 196h1v1h-1zM700 197h1v1h-1zM701 197h1v1h-1zM702 198h1v1h-1zM703 198h1v1h-1zM704 198h1v1h-1zM705 199h1v1h-1zM706 199h1v1h-1zM707 199h1v1h-1zM708 200h1v1h-1zM709 200h1v1h-1zM710 201h1v1h-1zM711 201h1v1h-1zM712 201h1v1h-1zM713 202h1v1h-1zM714 202h1v1h-1zM715 202h1v1h-1zM716 202h1v1h-1zM717 203h1v1h-1zM718 203h1v1h-1zM719 203h1v1h-1zM720 204h1v1h-1zM721 205h1v2h-1zM722 207h1v1h-1zM723 208h1v1h-1zM724 209h1v2h-1zM725 211h1v2h-1zM726 213h1v2h-1zM727 215h1v1h-1zM728 216h1v2h-1zM729 218h1v1h-1zM730 219h1v2h-1zM731 221h1v1h-1zM732 222h1v2h-1zM733 224h1v1h-1zM734 225h1v2h-1zM735 227h1v1h-1zM736 228h1v1h-1zM737 229h1v2h-1zM738 231h1v1h-1zM739 232h1v1h-1zM740 233h1v1h-1zM741 234h1v1h-1zM742 234h1v1h-1zM743 235h1v1h-1zM744 236h1v1h-1zM745 237h1v1h-1zM746 238h1v1h-1zM747 239h1v1h-1zM748 240h1v1h-1zM749 241h1v2h-1zM750 243h1v1h-1zM751 244h1v1h-1zM752 245h1v1h-1zM753 246h1v1h-1zM754 247h1v1h-1zM755 248h1v1h-1zM756 249h1v1h-1zM757 249h1v1h-1zM758 250h1v1h-1zM759 250h1v1h-1zM760 251h1v2h-1zM761 253h1v1h-1zM762 254h1v2h-1zM763 256h1v1h-1zM764 257h1v2h-1zM765 259h1v2h-1zM766 261h1v2h-1zM767 263h1v1h-1zM768 264h1v2h-1zM769 266h1v2h-1zM770 268h1v2h-1zM771 270h1v2h-1zM772 272h1v2h-1zM773 274h1v2h-1zM774 276h1v2h-1zM775 278h1v1h-1zM776 279h1v1h-1zM777 280h1v2h-1zM778 282h1v1h-1zM779 283h1v1h-1zM780 284h1v2h-1zM781 286h1v1h-1zM782 287h1v2h-1zM783 289h1v1h-1zM784 290h1v1h-1zM785 291h1v2h-1zM786 293h1v1h-1zM787 294h1v1h-1zM788 295h1v2h-1zM789 297h1v1h-1zM790 298h1v2h-1zM791 300h1v1h-1zM792 301h1v2h-1zM793 303h1v2h-1zM794 305h1v2h-1zM795 307h1v2h-1zM796 309h1v1h-1zM797 310h1v2h-1zM798 312h1v1h-1zM799 313h1v1h-1zM800 314h1v2h-1zM801 316h1v1h-1zM802 317h1v2h-1zM803 319h1v1h-1zM804 320h1v1h-1zM805 320h1v1h-1zM806 321h1v1h-1zM807 321h1v1h-1zM808 321h1v1h-1zM809 321h1v1h-1zM810 321h1v1h-1zM811 321h1v1h-1zM812 321h1v1h-1zM813 322h1v1h-1zM814 322h1v1h-1zM815 322h1v1h-1zM816 323h1v1h-1zM817 324h1v1h-1zM818 324h1v1h-1zM819 325h1v1h-1zM820 326h1v1h-1zM821 327h1v1h-1zM822 327h1v1h-1zM823 328h1v1h-1zM824 329h1v1h-1zM825 330h1v2h-1zM826 332h1v1h-1zM827 333h1v1h-1zM828 334h1v2h-1zM829 336h1v1h-1zM830 337h1v2h-1zM831 339h1v1h-1zM832 340h1v2h-1zM833 342h1v2h-1zM834 344h1v2h-1zM835 346h1v2h-1zM836 348h1v2h-1zM837 350h1v1h-1zM838 351h1v2h-1zM839 353h1v1h-1zM840 354h1v1h-1zM841 355h1v2h-1zM842 357h1v1h-1zM843 358h1v1h-1zM844 359h1v1h-1zM845 360h1v1h-1zM846 361h1v1h-1zM847 362h1v1h-1zM848 363h1v1h-1zM849 364h1v1h-1zM850 365h1v1h-1zM851 366h1v1h-1zM852 367h1v1h-1zM853 367h1v1h-1zM854 368h1v1h-1zM855 368h1v1h-1zM856 369h1v1h-1zM857 370h1v1h-1zM858 371h1v1h-1zM859 372h1v1h-1zM860 373h1v1h-1zM861 374h1v2h-1zM862 376h1v1h-1zM863 377h1v1h-1zM864 378h1v1h-1zM865 379h1v1h-1zM866 379h1v1h-1zM867 380h1v1h-1zM868 381h1v1h-1zM869 382h1v1h-1zM870 383h1v1h-1zM871 384h1v1h-1zM872 385h1v1h-1zM873 386h1v1h-1zM874 387h1v1h-1zM875 388h1v1h-1zM876 389h1v1h-1zM877 389h1v1h-1zM878 390h1v1h-1zM879 390h1v1h-1zM880 391h1v1h-1zM881 392h1v1h-1zM882 392h1v1h-1zM883 393h1v1h-1zM884 394h1v1h-1zM885 395h1v1h-1zM886 395h1v1h-1zM887 396h1v1h-1zM888 397h1v1h-1zM889 397h1v1h-1zM890 398h1v1h-1zM891 398h1v1h-1zM892 399h1v1h-1zM893 400h1v1h-1zM894 400h1v1h-1zM895 401h1v1h-1zM896 402h1v1h-1zM897 403h1v1h-1zM898 403h1v1h-1zM899 404h1v1h-1zM900 405h1v1h-1zM901 405h1v1h-1zM902 406h1v1h-1zM903 406h1v1h-1zM904 407h1v1h-1zM905 407h1v1h-1zM906 408h1v1h-1zM907 408h1v1h-1zM908 408h1v1h-1zM909 409h1v1h-1zM910 409h1v1h-1zM911 409h1v1h-1zM912 409h1v1h-1zM913 409h1v1h-1zM914 409h1v1h-1zM915 409h1v1h-1zM916 408h1v1h-1zM917 408h1v1h-1zM918 407h1v1h-1zM919 407h1v1h-1zM920 407h1v1h-1zM921 407h1v1h-1zM922 407h1v1h-1zM923 407h1v1h-1z" fill="#0000ff"/><path d="M4 472h1v2h-1zM5 468h1v4h-1zM6 466h1v2h-1zM7 465h1v1h-1zM8 464h1v1h-1zM9 463h1v1h-1zM10 462h1v1h-1zM11 461h1v1h-1zM12 460h1v1h-1zM13 459h1v1h-1zM14 458h1v1h-1zM15 456h1v2h-1zM16 454h1v2h-1zM17 453h1v1h-1zM18 453h1v1h-1zM19 453h1v1h-1zM20 453h1v1h-1zM21 453h1v1h-1zM22 452h1v1h-1zM23 451h1v1h-1zM24 451h1v1h-1zM25 450h1v1h-1zM26 450h1v1h-1zM27 449h1v1h-1zM28 449h1v1h-1zM29 448h1v1h-1zM30 447h1v1h-1zM31 447h1v1h-1zM32 446h1v1h-1zM33 445h1v1h-1zM34 444h1v1h-1zM35 443h1v1h-1zM36 442h1v1h-1zM37 441h1v1h-1zM38 440h1v1h-1zM39 439h1v1h-1zM40 438h1v1h-1zM41 437h1v1h-1zM42 436h1v1h-1zM43 435h1v1h-1zM44 434h1v1h-1zM45 433h1v1h-1zM46 432h1v1h-1zM47 431h1v1h-1zM48 430h1v1h-1zM49 429h1v1h-1zM50 428h1v1h-1zM51 427h1v1h-1zM52 426h1v1h-1zM53 425h1v1h-1zM54 424h1v1h-1zM55 423h1v1h-1zM56 422h1v1h-1zM57 421h1v1h-1zM58 420h1v1h-1zM59 419h1v1h-1zM60 418h1v1h-1zM61 416h1v2h-1zM62 414h1v2h-1zM63 412h1v2h-1zM64 410h1v2h-1zM65 408h1v2h-1zM66 406h1v2h-1zM67 405h1v1h-1zM68 404h1v1h-1zM69 402h1v2h-1zM70 401h1v1h-1zM71 400h1v1h-1zM72 399h1v1h-1zM73 398h1v1h-1zM74 397h1v1h-1zM75 396h1v1h-1zM76 394h1v2h-1zM77 392h1v2h-1zM78 390h1v2h-1zM79 389h1v1h-1zM80 387h1v2h-1zM81 385h1v2h-1zM82 383h1v2h-1zM83 381h1v2h-1zM84 379h1v2h-1zM85 377h1v2h-1zM86 375h1v2h-1zM87 374h1v1h-1zM88 372h1v2h-1zM89 370h1v2h-1zM90 368h1v2h-1zM91 367h1v1h-1zM92 365h1v2h-1zM93 364h1v1h-1zM94 362h1v2h-1zM95 361h1v1h-1zM96 359h1v2h-1zM97 358h1v1h-1zM98 356h1v2h-1zM99 355h1v1h-1zM100 353h1v2h-1zM101 351h1v2h-1zM102 349h1v2h-1zM103 346h1v3h-1zM104 343h1v3h-1zM105 341h1v2h-1zM106 338h1v3h-1zM107 335h1v3h-1zM108 333h1v2h-1zM109 331h1v2h-1zM110 329h1v2h-1zM111 327h1v2h-1zM112 325h1v2h-1zM113 323h1v2h-1zM114 321h1v2h-1zM115 320h1v1h-1zM116 319h1v1h-1zM117 317h1v2h-1zM118 316h1v1h-1zM119 315h1v1h-1zM120 314h1v1h-1zM121 313h1v1h-1zM122 313h1v1h-1zM123 312h1v1h-1zM124 310h1v2h-1zM125 309h1v1h-1zM126 307h1v2h-1zM127 306h1v1h-1zM128 304h1v2h-1zM129 302h1v2h-1zM130 300h1v2h-1zM131 299h1v1h-1zM132 298h1v1h-1zM133 296h1v2h-1zM134 295h1v1h-1zM135 294h1v1h-1zM136 293h1v1h-1zM137 293h1v1h-1zM138 292h1v1h-1zM139 292h1v1h-1zM140 291h1v1h-1zM141 290h1v1h-1zM142 289h1v1h-1zM143 288h1v1h-1zM144 286h1v2h-1zM145 285h1v1h-1zM146 283h1v2h-1zM147 282h1v1h-1zM148 280h1v2h-1zM149 278h1v2h-1zM150 276h1v2h-1zM151 275h1v1h-1zM152 273h1v2h-1zM153 272h1v1h-1zM154 270h1v2h-1zM155 269h1v1h-1zM156 268h1v1h-1zM157 266h1v2h-1zM158 265h1v1h-1zM159 264h1v1h-1zM160 263h1v1h-1zM161 262h1v1h-1zM162 261h1v1h-1zM163 260h1v1h-1zM164 258h1v2h-1zM165 256h1v2h-1zM166 254h1v2h-1zM167 253h1v1h-1zM168 252h1v1h-1zM169 250h1v2h-1zM170 249h1v1h-1zM171 247h1v2h-1zM172 245h1v2h-1zM173 242h1v3h-1zM174 240h1v2h-1zM175 237h1v3h-1zM176 235h1v2h-1zM177 233h1v2h-1zM178 231h1v2h-1zM179 229h1v2h-1zM180 228h1v1h-1zM181 227h1v1h-1zM182 226h1v1h-1zM183 225h1v1h-1zM184 224h1v1h-1zM185 222h1v2h-1zM186 221h1v1h-1zM187 220h1v1h-1zM188 218h1v2h-1zM189 217h1v1h-1zM190 215h1v2h-1zM191 213h1v2h-1zM192 211h1v2h-1zM193 209h1v2h-1zM194 207h1v2h-1zM195 205h1v2h-1zM196 204h1v1h-1zM197 203h1v1h-1zM198 203h1v1h-1zM199 202h1v1h-1zM200 202h1v1h-1zM201 201h1v1h-1zM202 201h1v1h-1zM203 201h1v1h-1zM204 201h1v1h-1zM205 202h1v1h-1zM206 202h1v1h-1zM207 202h1v1h-1zM208 202h1v1h-1zM209 202h1v1h-1zM210 202h1v1h-1zM211 202h1v1h-1zM212 201h1v1h-1zM213 200h1v1h-1zM214 200h1v1h-1zM215 199h1v1h-1zM216 199h1v1h-1zM217 198h1v1h-1zM218 198h1v1h-1zM219 198h1v1h-1zM220 199h1v1h-1zM221 199h1v1h-1zM222 200h1v1h-1zM223 200h1v1h-1zM224 200h1v1h-1zM225 201h1v1h-1zM226 201h1v1h-1zM227 201h1v1h-1zM228 202h1v1h-1zM229 203h1v1h-1zM230 204h1v1h-1zM231 205h1v1h-1zM232 205h1v1h-1zM233 205h1v1h-1zM234 205h1v1h-1zM235 205h1v1h-1zM236 205h1v1h-1zM237 205h1v1h-1zM238 205h1v1h-1zM239 205h1v1h-1zM240 206h1v1h-1zM241 206h1v1h-1zM242 207h1v1h-1zM243 207h1v1h-1zM244 208h1v1h-1zM245 209h1v1h-1zM246 209h1v1h-1zM247 210h1v1h-1zM248 211h1v1h-1zM249 212h1v2h-1zM250 214h1v1h-1zM251 215h1v1h-1zM252 216h1v1h-1zM253 217h1v1h-1zM254 218h1v1h-1zM255 219h1v1h-1zM256 220h1v1h-1zM257 221h1v2h-1zM258 223h1v1h-1zM259 224h1v1h-1zM260 225h1v1h-1zM261 226h1v1h-1zM262 226h1v1h-1zM263 227h1v1h-1zM264 228h1v1h-1zM265 229h1v1h-1zM266 230h1v1h-1zM267 231h1v1h-1zM268 232h1v1h-1zM269 233h1v1h-1zM270 234h1v1h-1zM271 235h1v1h-1zM272 236h1v1h-1zM273 237h1v1h-1zM274 237h1v1h-1zM275 238h1v1h-1zM276 238h1v1h-1zM277 239h1v1h-1zM278 239h1v1h-1zM279 239h1v1h-1zM280 239h1v1h-1zM281 238h1v1h-1zM282 238h1v1h-1zM283 238h1v1h-1zM284 238h1v1h-1zM285 237h1v1h-1zM286 237h1v1h-1zM287 237h1v1h-1zM288 237h1v1h-1zM289 237h1v1h-1zM290 237h1v1h-1zM291 237h1v1h-1zM292 236h1v1h-1zM293 235h1v1h-1zM294 235h1v1h-1zM295 234h1v1h-1zM296 233h1v1h-1zM297 232h1v1h-1zM298 232h1v1h-1zM299 231h1v1h-1zM300 230h1v1h-1zM301 228h1v2h-1zM302 227h1v1h-1zM303 226h1v1h-1zM304 225h1v1h-1zM305 223h1v2h-1zM306 222h1v1h-1zM307 221h1v1h-1zM308 220h1v1h-1zM309 218h1v2h-1zM310 217h1v1h-1zM311 216h1v1h-1zM312 214h1v2h-1zM313 212h1v2h-1zM314 210h1v2h-1zM315 208h1v2h-1zM316 206h1v2h-1zM317 203h1v3h-1zM318 201h1v2h-1zM319 198h1v3h-1zM320 196h1v2h-1zM321 193h1v3h-1zM322 191h1v2h-1zM323 188h1v3h-1zM324 186h1v2h-1zM325 183h1v3h-1zM326 181h1v2h-1zM327 178h1v3h-1zM328 176h1v2h-1zM329 173h1v3h-1zM330 171h1v2h-1zM331 168h1v3h-1zM332 166h1v2h-1zM333 164h1v2h-1zM334 162h1v2h-1zM335 159h1v3h-1zM336 157h1v2h-1zM337 155h1v2h-1zM338 153h1v2h-1zM339 151h1v2h-1zM340 151h1v1h-1zM341 151h1v1h-1zM342 151h1v1h-1zM343 151h1v1h-1zM344 152h1v1h-1zM345 152h1v1h-1zM346 153h1v1h-1zM347 153h1v1h-1zM348 152h1v1h-1zM349 152h1v1h-1zM350 151h1v1h-1zM351 151h1v1h-1zM352 150h1v1h-1zM353 150h1v1h-1zM354 149h1v1h-1zM355 149h1v1h-1zM356 149h1v1h-1zM357 149h1v1h-1zM358 149h1v1h-1zM359 149h1v1h-1zM360 149h1v1h-1zM361 148h1v1h-1zM362 148h1v1h-1zM363 148h1v1h-1zM364 149h1v1h-1zM365 149h1v1h-1zM366 150h1v1h-1zM367 150h1v1h-1zM368 151h1v1h-1zM369 151h1v1h-1zM370 152h1v1h-1zM371 152h1v1h-1zM372 153h1v2h-1zM373 155h1v2h-1zM374 157h1v2h-1zM375 159h1v2h-1zM376 161h1v2h-1zM377 163h1v2h-1zM378 165h1v2h-1zM379 167h1v1h-1zM380 168h1v2h-1zM381 170h1v2h-1zM382 172h1v2h-1zM383 174h1v2h-1zM384 176h1v2h-1zM385 178h1v1h-1zM386 179h1v2h-1zM387 181h1v1h-1zM388 182h1v2h-1zM389 184h1v2h-1zM390 186h1v2h-1zM391 188h1v1h-1zM392 189h1v2h-1zM393 191h1v2h-1zM394 193h1v2h-1zM395 195h1v2h-1zM396 196h1v1h-1zM397 197h1v1h-1zM398 197h1v1h-1zM399 197h1v1h-1zM400 196h1v1h-1zM401 196h1v1h-1zM402 195h1v1h-1zM403 195h1v1h-1zM404 196h1v1h-1zM405 197h1v1h-1zM406 197h1v1h-1zM407 198h1v1h-1zM408 198h1v1h-1zM409 199h1v1h-1zM410 199h1v1h-1zM411 199h1v1h-1zM412 200h1v1h-1zM413 200h1v1h-1zM414 201h1v1h-1zM415 201h1v1h-1zM416 202h1v1h-1zM417 202h1v1h-1zM418 203h1v1h-1zM419 203h1v1h-1zM420 202h1v1h-1zM421 201h1v1h-1zM422 200h1v1h-1zM423 199h1v1h-1zM424 199h1v1h-1zM425 200h1v1h-1zM426 200h1v1h-1zM427 200h1v1h-1zM428 200h1v1h-1zM429 201h1v1h-1zM430 201h1v1h-1zM431 201h1v1h-1zM432 202h1v2h-1zM433 204h1v1h-1zM434 205h1v2h-1zM435 207h1v1h-1zM436 208h1v1h-1zM437 209h1v1h-1zM438 209h1v1h-1zM439 210h1v1h-1zM440 211h1v2h-1zM441 213h1v1h-1zM442 214h1v2h-1zM443 216h1v1h-1zM444 217h1v1h-1zM445 218h1v1h-1zM446 219h1v1h-1zM447 220h1v1h-1zM448 221h1v2h-1zM449 223h1v1h-1zM450 224h1v2h-1zM451 226h1v1h-1zM452 227h1v1h-1zM453 228h1v2h-1zM454 230h1v1h-1zM455 231h1v1h-1zM456 232h1v1h-1zM457 233h1v2h-1zM458 235h1v1h-1zM459 236h1v1h-1zM460 237h1v1h-1zM461 238h1v1h-1zM462 239h1v1h-1zM463 240h1v1h-1zM464 241h1v2h-1zM465 243h1v2h-1zM466 245h1v2h-1zM467 247h1v2h-1zM468 249h1v1h-1zM469 250h1v1h-1zM470 251h1v1h-1zM471 252h1v1h-1zM472 253h1v1h-1zM473 254h1v1h-1zM474 254h1v1h-1zM475 255h1v1h-1zM476 256h1v1h-1zM477 257h1v2h-1zM478 259h1v1h-1zM479 260h1v1h-1zM480 261h1v1h-1zM481 261h1v1h-1zM482 262h1v1h-1zM483 262h1v1h-1zM484 262h1v1h-1zM485 262h1v1h-1zM486 262h1v1h-1zM487 262h1v1h-1zM488 261h1v1h-1zM489 261h1v1h-1zM490 260h1v1h-1zM491 260h1v1h-1zM492 260h1v1h-1zM493 260h1v1h-1zM494 260h1v1h-1zM495 260h1v1h-1zM496 260h1v1h-1zM497 260h1v1h-1zM498 260h1v1h-1zM499 260h1v1h-1zM500 259h1v1h-1zM501 258h1v1h-1zM502 257h1v1h-1zM503 256h1v1h-1zM504 255h1v1h-1zM505 253h1v2h-1zM506 252h1v1h-1zM507 251h1v1h-1zM508 250h1v1h-1zM509 248h1v2h-1zM510 247h1v1h-1zM511 246h1v1h-1zM512 244h1v2h-1zM513 243h1v1h-1zM514 241h1v2h-1zM515 240h1v1h-1zM516 239h1v1h-1zM517 237h1v2h-1zM518 236h1v1h-1zM519 235h1v1h-1zM520 233h1v2h-1zM521 232h1v1h-1zM522 230h1v2h-1zM523 229h1v1h-1zM524 228h1v1h-1zM525 227h1v1h-1zM526 226h1v1h-1zM527 225h1v1h-1zM528 224h1v1h-1zM529 224h1v1h-1zM530 223h1v1h-1zM531 223h1v1h-1zM532 222h1v1h-1zM533 220h1v2h-1zM534 219h1v1h-1zM535 218h1v1h-1zM536 217h1v1h-1zM537 215h1v2h-1zM538 214h1v1h-1zM539 213h1v1h-1zM540 211h1v2h-1zM541 209h1v2h-1zM542 207h1v2h-1zM543 206h1v1h-1zM544 204h1v2h-1zM545 203h1v1h-1zM546 201h1v2h-1zM547 200h1v1h-1zM548 198h1v2h-1zM549 197h1v1h-1zM550 195h1v2h-1zM551 194h1v1h-1zM552 193h1v1h-1zM553 191h1v2h-1zM554 190h1v1h-1zM555 189h1v1h-1zM556 189h1v1h-1zM557 190h1v1h-1zM558 190h1v1h-1zM559 190h1v1h-1zM560 191h1v1h-1zM561 191h1v1h-1zM562 192h1v1h-1zM563 192h1v1h-1zM564 192h1v1h-1zM565 191h1v1h-1zM566 191h1v1h-1zM567 191h1v1h-1zM568 191h1v1h-1zM569 192h1v1h-1zM570 192h1v1h-1zM571 192h1v1h-1zM572 192h1v1h-1zM573 193h1v1h-1zM574 193h1v1h-1zM575 193h1v1h-1zM576 193h1v1h-1zM577 192h1v1h-1zM578 192h1v1h-1zM579 192h1v1h-1zM580 191h1v1h-1zM581 189h1v2h-1zM582 188h1v1h-1zM583 187h1v1h-1zM584 186h1v1h-1zM585 184h1v2h-1zM586 183h1v1h-1zM587 182h1v1h-1zM588 181h1v1h-1zM589 179h1v2h-1zM590 178h1v1h-1zM591 177h1v1h-1zM592 176h1v1h-1zM593 175h1v1h-1zM594 174h1v1h-1zM595 173h1v1h-1zM596 174h1v1h-1zM597 175h1v1h-1zM598 175h1v1h-1zM599 176h1v1h-1zM600 177h1v1h-1zM601 177h1v1h-1zM602 178h1v1h-1zM603 178h1v1h-1zM604 178h1v1h-1zM605 178h1v1h-1zM606 178h1v1h-1zM607 178h1v1h-1zM608 178h1v1h-1zM609 177h1v1h-1zM610 177h1v1h-1zM611 177h1v1h-1zM612 176h1v1h-1zM613 176h1v1h-1zM614 175h1v1h-1zM615 175h1v1h-1zM616 174h1v1h-1zM617 173h1v1h-1zM618 172h1v1h-1zM619 171h1v1h-1zM620 171h1v1h-1zM621 172h1v1h-1zM622 172h1v1h-1zM623 172h1v1h-1zM624 171h1v1h-1zM625 170h1v1h-1zM626 169h1v1h-1zM627 168h1v1h-1zM628 168h1v1h-1zM629 169h1v1h-1zM630 169h1v1h-1zM631 169h1v1h-1zM632 169h1v1h-1zM633 170h1v1h-1zM634 170h1v1h-1zM635 170h1v1h-1zM636 171h1v1h-1zM637 172h1v2h-1zM638 174h1v1h-1zM639 175h1v1h-1zM640 176h1v1h-1zM641 177h1v1h-1zM642 178h1v1h-1zM643 179h1v1h-1zM644 180h1v2h-1zM645 182h1v1h-1zM646 183h1v2h-1zM647 185h1v1h-1zM648 186h1v1h-1zM649 187h1v1h-1zM650 188h1v1h-1zM651 189h1v1h-1zM652 189h1v1h-1zM653 190h1v1h-1zM654 190h1v1h-1zM655 190h1v1h-1zM656 190h1v1h-1zM657 191h1v1h-1zM658 191h1v1h-1zM659 191h1v1h-1zM660 191h1v1h-1zM661 192h1v1h-1zM662 192h1v1h-1zM663 192h1v1h-1zM664 192h1v1h-1zM665 193h1v1h-1zM666 193h1v1h-1zM667 193h1v1h-1zM668 193h1v1h-1zM669 194h1v1h-1zM670 194h1v1h-1zM671 194h1v1h-1zM672 195h1v1h-1zM673 196h1v2h-1zM674 198h1v1h-1zM675 199h1v1h-1zM676 199h1v1h-1zM677 199h1v1h-1zM678 199h1v1h-1zM679 199h1v1h-1zM680 200h1v1h-1zM681 200h1v1h-1zM682 201h1v1h-1zM683 201h1v1h-1zM684 200h1v1h-1zM685 200h1v1h-1zM686 199h1v1h-1zM687 199h1v1h-1zM688 199h1v1h-1zM689 199h1v1h-1zM690 199h1v1h-1zM691 199h1v1h-1zM692 199h1v1h-1zM693 200h1v1h-1zM694 200h1v1h-1zM695 200h1v1h-1zM696 200h1v1h-1zM697 199h1v1h-1zM698 199h1v1h-1zM699 199h1v1h-1zM700 200h1v1h-1zM701 200h1v1h-1zM702 201h1v1h-1zM703 201h1v1h-1zM704 201h1v1h-1zM705 202h1v1h-1zM706 202h1v1h-1zM707 202h1v1h-1zM708 202h1v1h-1zM709 202h1v1h-1zM710 202h1v1h-1zM711 202h1v1h-1zM712 202h1v1h-1zM713 203h1v1h-1zM714 203h1v1h-1zM715 203h1v1h-1zM716 203h1v1h-1zM717 204h1v1h-1zM718 204h1v1h-1zM719 204h1v2h-1zM720 206h1v2h-1zM721 208h1v2h-1zM722 210h1v2h-1zM723 212h1v3h-1zM724 215h1v2h-1zM725 217h1v3h-1zM726 220h1v2h-1zM727 222h1v2h-1zM728 224h1v2h-1zM729 226h1v1h-1zM730 227h1v2h-1zM731 229h1v2h-1zM732 231h1v2h-1zM733 233h1v2h-1zM734 235h1v2h-1zM735 237h1v2h-1zM736 239h1v2h-1zM737 241h1v2h-1zM738 243h1v2h-1zM739 245h1v2h-1zM740 247h1v2h-1zM741 249h1v2h-1zM742 251h1v2h-1zM743 253h1v1h-1zM744 254h1v2h-1zM745 256h1v2h-1zM746 258h1v2h-1zM747 260h1v1h-1zM748 261h1v2h-1zM749 263h1v1h-1zM750 264h1v2h-1zM751 266h1v1h-1zM752 267h1v2h-1zM753 269h1v1h-1zM754 270h1v2h-1zM755 272h1v1h-1zM756 273h1v1h-1zM757 274h1v2h-1zM758 276h1v1h-1zM759 277h1v1h-1zM760 278h1v2h-1zM761 280h1v2h-1zM762 282h1v2h-1zM763 284h1v3h-1zM764 287h1v2h-1zM765 289h1v2h-1zM766 291h1v2h-1zM767 293h1v2h-1zM768 295h1v2h-1zM769 297h1v2h-1zM770 299h1v2h-1zM771 301h1v3h-1zM772 304h1v2h-1zM773 306h1v2h-1zM774 308h1v2h-1zM775 310h1v2h-1zM776 311h1v1h-1zM777 312h1v1h-1zM778 312h1v1h-1zM779 312h1v1h-1zM780 311h1v1h-1zM781 311h1v1h-1zM782 310h1v1h-1zM783 310h1v1h-1zM784 310h1v1h-1zM785 311h1v1h-1zM786 311h1v1h-1zM787 311h1v1h-1zM788 311h1v1h-1zM789 312h1v1h-1zM790 312h1v1h-1zM791 312h1v1h-1zM792 313h1v1h-1zM793 314h1v1h-1zM794 315h1v1h-1zM795 316h1v1h-1zM796 317h1v1h-1zM797 318h1v1h-1zM798 319h1v1h-1zM799 320h1v1h-1zM800 321h1v1h-1zM801 322h1v1h-1zM802 323h1v1h-1zM803 324h1v1h-1zM804 325h1v1h-1zM805 326h1v1h-1zM806 327h1v1h-1zM807 328h1v1h-1zM808 329h1v1h-1zM809 330h1v2h-1zM810 332h1v1h-1zM811 333h1v1h-1zM812 334h1v1h-1zM813 335h1v1h-1zM814 336h1v1h-1zM815 337h1v1h-1zM816 338h1v1h-1zM817 339h1v1h-1zM818 339h1v1h-1zM819 340h1v1h-1zM820 341h1v1h-1zM821 342h1v1h-1zM822 343h1v1h-1zM823 344h1v1h-1zM824 345h1v1h-1zM825 346h1v1h-1zM826 346h1v1h-1zM827 347h1v1h-1zM828 348h1v2h-1zM829 350h1v1h-1zM830 351h1v2h-1zM831 353h1v1h-1zM832 354h1v2h-1zM833 356h1v2h-1zM834 358h1v2h-1zM835 360h1v2h-1zM836 362h1v2h-1zM837 364h1v2h-1zM838 366h1v2h-1zM839 368h1v1h-1zM840 369h1v2h-1zM841 371h1v1h-1zM842 372h1v2h-1zM843 374h1v1h-1zM844 375h1v1h-1zM845 376h1v1h-1zM846 377h1v1h-1zM847 378h1v1h-1zM848 379h1v1h-1zM849 380h1v1h-1zM850 380h1v1h-1zM851 381h1v1h-1zM852 382h1v1h-1zM853 383h1v1h-1zM854 384h1v1h-1zM855 385h1v1h-1zM856 386h1v1h-1zM857 387h1v2h-1zM858 389h1v1h-1zM859 390h1v1h-1zM860 391h1v2h-1zM861 393h1v1h-1zM862 394h1v2h-1zM863 396h1v1h-1zM864 397h1v1h-1zM865 397h1v1h-1zM866 398h1v1h-1zM867 398h1v1h-1zM868 399h1v1h-1zM869 400h1v2h-1zM870 402h1v1h-1zM871 403h1v1h-1zM872 404h1v1h-1zM873 405h1v1h-1zM874 406h1v1h-1zM875 407h1v1h-1zM876 408h1v1h-1zM877 408h1v1h-1zM878 409h1v1h-1zM879 409h1v1h-1zM880 409h1v1h-1zM881 410h1v1h-1zM882 410h1v1h-1zM883 410h1v1h-1zM884 409h1v1h-1zM885 409h1v1h-1zM886 408h1v1h-1zM887 408h1v1h-1zM888 407h1v1h-1zM889 406h1v1h-1zM890 406h1v1h-1zM891 405h1v1h-1zM892 405h1v1h-1zM893 405h1v1h-1zM894 405h1v1h-1zM895 405h1v1h-1zM896 405h1v1h-1zM897 405h1v1h-1zM898 405h1v1h-1zM899 405h1v1h-1zM900 405h1v1h-1zM901 406h1v1h-1zM902 406h1v1h-1zM903 406h1v1h-1zM904 406h1v1h-1zM905 407h1v1h-1zM906 407h1v1h-1zM907 407h1v1h-1zM908 407h1v1h-1zM909 408h1v1h-1zM910 408h1v1h-1zM911 408h1v1h-1zM912 408h1v1h-1zM913 409h1v1h-1zM914 409h1v1h-1zM915 409h1v1h-1zM916 408h1v1h-1zM917 408h1v1h-1zM918 407h1v1h-1zM919 407h1v1h-1zM920 407h1v1h-1zM921 408h1v1h-1zM922 408h1v1h-1zM923 408h1v1h-1z" fill="#ff0000"/><rect x="3" y="205" width="1162" height="2" fill="#ff0000"/><rect x="3" y="289" width="1162" height="2" fill="#ff0000"/><rect x="3" y="385" width="1162" height="2" fill="#00ff00"/><rect x="2" y="383" width="6" height="6" fill="#00ff00"/><rect x="4" y="385" width="2" height="2" fill="#fff"/><rect x="1159" y="383" width="6" height="6" fill="#00ff00"/><rect x="1161" y="385" width="2" height="2" fill="#fff"/><rect x="3" y="475" width="1162" height="2" fill="#0000ff"/><rect x="2" y="473" width="6" height="6" fill="#0000ff"/><rect x="4" y="475" width="2" height="2" fill="#fff"/><rect x="1159" y="473" width="6" height="6" fill="#0000ff"/><rect x="1161" y="475" width="2" height="2" fill="#fff"/><rect x="3" y="421" width="1" height="31" fill="#22c822"/><rect x="2" y="432" width="3" height="12" fill="#22c822"/><rect x="3" y="433" width="1" height="10" fill="#32cd32"/><rect x="7" y="428" width="1" height="34" fill="#ff0000"/><rect x="6" y="430" width="3" height="15" fill="#ff0000"/><rect x="7" y="431" width="1" height="13" fill="#ff4500"/><rect x="11" y="426" width="1" height="44" fill="#22c822"/><rect x="10" y="430" width="3" height="33" fill="#22c822"/><rect x="11" y="431" width="1" height="31" fill="#32cd32"/><rect x="15" y="430" width="1" height="38" fill="#ff0000"/><rect x="14" y="438" width="3" height="25" fill="#ff0000"/><rect x="15" y="439" width="1" height="23" fill="#ff4500"/><rect x="19" y="434" width="1" height="7" fill="#ff0000"/><rect x="18" y="438" width="3" height="1" fill="#ff0000"/><rect x="23" y="424" width="1" height="37" fill="#22c822"/><rect x="22" y="444" width="3" height="13" fill="#22c822"/><rect x="23" y="445" width="1" height="11" fill="#32cd32"/><rect x="27" y="406" width="1" height="59" fill="#ff0000"/><rect x="26" y="420" width="3" height="37" fill="#ff0000"/><rect x="27" y="421" width="1" height="35" fill="#ff4500"/><rect x="31" y="402" width="1" height="29" fill="#ff0000"/><rect x="30" y="415" width="3" height="6" fill="#ff0000"/><rect x="31" y="416" width="1" height="4" fill="#ff4500"/><rect x="35" y="402" width="1" height="15" fill="#ff0000"/><rect x="34" y="409" width="3" height="8" fill="#ff0000"/><rect x="35" y="410" width="1" height="6" fill="#ff4500"/><rect x="39" y="388" width="1" height="27" fill="#ff0000"/><rect x="38" y="390" width="3" height="21" fill="#ff0000"/><rect x="39" y="391" width="1" height="19" fill="#ff4500"/><rect x="43" y="388" width="1" height="11" fill="#22c822"/><rect x="42" y="390" width="3" height="5" fill="#22c822"/><rect x="43" y="391" width="1" height="3" fill="#32cd32"/><rect x="47" y="384" width="1" height="29" fill="#22c822"/><rect x="46" y="394" width="3" height="12" fill="#22c822"/><rect x="47" y="395" width="1" height="10" fill="#32cd32"/><rect x="51" y="402" width="1" height="21" fill="#22c822"/><rect x="50" y="405" width="3" height="10" fill="#22c822"/><rect x="51" y="406" width="1" height="8" fill="#32cd32"/><rect x="55" y="392" width="1" height="25" fill="#ff0000"/><rect x="54" y="400" width="3" height="15" fill="#ff0000"/><rect x="55" y="401" width="1" height="13" fill="#ff4500"/><rect x="59" y="361" width="1" height="40" fill="#ff0000"/><rect x="58" y="362" width="3" height="37" fill="#ff0000"/><rect x="59" y="363" width="1" height="35" fill="#ff4500"/><rect x="63" y="360" width="1" height="23" fill="#22c822"/><rect x="62" y="362" width="3" height="9" fill="#22c822"/><rect x="63" y="363" width="1" height="7" fill="#32cd32"/><rect x="67" y="362" width="1" height="10" fill="#ff0000"/><rect x="66" y="366" width="3" height="5" fill="#ff0000"/><rect x="67" y="367" width="1" height="3" fill="#ff4500"/><rect x="71" y="362" width="1" height="43" fill="#ff0000"/><rect x="70" y="363" width="3" height="9" fill="#ff0000"/><rect x="71" y="364" width="1" height="7" fill="#ff4500"/><rect x="75" y="357" width="1" height="32" fill="#22c822"/><rect x="74" y="364" width="3" height="17" fill="#22c822"/><rect x="75" y="365" width="1" height="15" fill="#32cd32"/><rect x="79" y="352" width="1" height="37" fill="#ff0000"/><rect x="78" y="353" width="3" height="28" fill="#ff0000"/><rect x="79" y="354" width="1" height="26" fill="#ff4500"/><rect x="83" y="314" width="1" height="62" fill="#ff0000"/><rect x="82" y="320" width="3" height="35" fill="#ff0000"/><rect x="83" y="321" width="1" height="33" fill="#ff4500"/><rect x="87" y="290" width="1" height="36" fill="#ff0000"/><rect x="86" y="310" width="3" height="11" fill="#ff0000"/><rect x="87" y="311" width="1" height="9" fill="#ff4500"/><rect x="91" y="308" width="1" height="9" fill="#ff0000"/><rect x="90" y="310" width="3" height="3" fill="#ff0000"/><rect x="91" y="311" width="1" height="1" fill="#ff4500"/><rect x="95" y="286" width="1" height="31" fill="#22c822"/><rect x="94" y="303" width="3" height="8" fill="#22c822"/><rect x="95" y="304" width="1" height="6" fill="#32cd32"/><rect x="99" y="308" width="1" height="21" fill="#ff0000"/><rect x="98" y="308" width="3" height="5" fill="#ff0000"/><rect x="99" y="309" width="1" height="3" fill="#ff4500"/><rect x="103" y="286" width="1" height="25" fill="#ff0000"/><rect x="102" y="294" width="3" height="16" fill="#ff0000"/><rect x="103" y="295" width="1" height="14" fill="#ff4500"/><rect x="107" y="252" width="1" height="59" fill="#ff0000"/><rect x="106" y="262" width="3" height="35" fill="#ff0000"/><rect x="107" y="263" width="1" height="33" fill="#ff4500"/><rect x="111" y="256" width="1" height="29" fill="#22c822"/><rect x="110" y="262" width="3" height="7" fill="#22c822"/><rect x="111" y="263" width="1" height="5" fill="#32cd32"/><rect x="115" y="262" width="1" height="13" fill="#ff0000"/><rect x="114" y="264" width="3" height="5" fill="#ff0000"/><rect x="115" y="265" width="1" height="3" fill="#ff4500"/><rect x="119" y="270" width="1" height="84" fill="#22c822"/><rect x="118" y="274" width="3" height="25" fill="#22c822"/><rect x="119" y="275" width="1" height="23" fill="#32cd32"/><rect x="123" y="274" width="1" height="49" fill="#22c822"/><rect x="122" y="298" width="3" height="23" fill="#22c822"/><rect x="123" y="299" width="1" height="21" fill="#32cd32"/><rect x="127" y="280" width="1" height="43" fill="#ff0000"/><rect x="126" y="286" width="3" height="35" fill="#ff0000"/><rect x="127" y="287" width="1" height="33" fill="#ff4500"/><rect x="131" y="270" width="1" height="21" fill="#ff0000"/><rect x="130" y="276" width="3" height="11" fill="#ff0000"/><rect x="131" y="277" width="1" height="9" fill="#ff4500"/><rect x="135" y="272" width="1" height="11" fill="#22c822"/><rect x="134" y="275" width="3" height="4" fill="#22c822"/><rect x="135" y="276" width="1" height="2" fill="#32cd32"/><rect x="139" y="260" width="1" height="39" fill="#22c822"/><rect x="138" y="276" width="3" height="19" fill="#22c822"/><rect x="139" y="277" width="1" height="17" fill="#32cd32"/><rect x="143" y="262" width="1" height="35" fill="#ff0000"/><rect x="142" y="266" width="3" height="29" fill="#ff0000"/><rect x="143" y="267" width="1" height="27" fill="#ff4500"/><rect x="147" y="226" width="1" height="47" fill="#ff0000"/><rect x="146" y="226" width="3" height="41" fill="#ff0000"/><rect x="147" y="227" width="1" height="39" fill="#ff4500"/><rect x="151" y="194" width="1" height="39" fill="#ff0000"/><rect x="150" y="206" width="3" height="21" fill="#ff0000"/><rect x="151" y="207" width="1" height="19" fill="#ff4500"/><rect x="155" y="195" width="1" height="29" fill="#22c822"/><rect x="154" y="207" width="3" height="15" fill="#22c822"/><rect x="155" y="208" width="1" height="13" fill="#32cd32"/><rect x="159" y="195" width="1" height="35" fill="#22c822"/><rect x="158" y="221" width="3" height="8" fill="#22c822"/><rect x="159" y="222" width="1" height="6" fill="#32cd32"/><rect x="163" y="200" width="1" height="51" fill="#ff0000"/><rect x="162" y="202" width="3" height="27" fill="#ff0000"/><rect x="163" y="203" width="1" height="25" fill="#ff4500"/><rect x="167" y="150" width="1" height="55" fill="#ff0000"/><rect x="166" y="176" width="3" height="27" fill="#ff0000"/><rect x="167" y="177" width="1" height="25" fill="#ff4500"/><rect x="171" y="151" width="1" height="54" fill="#22c822"/><rect x="170" y="176" width="3" height="15" fill="#22c822"/><rect x="171" y="177" width="1" height="13" fill="#32cd32"/><rect x="175" y="162" width="1" height="35" fill="#ff0000"/><rect x="174" y="170" width="3" height="21" fill="#ff0000"/><rect x="175" y="171" width="1" height="19" fill="#ff4500"/><rect x="179" y="170" width="1" height="33" fill="#22c822"/><rect x="178" y="172" width="3" height="19" fill="#22c822"/><rect x="179" y="173" width="1" height="17" fill="#32cd32"/><rect x="183" y="186" width="1" height="51" fill="#22c822"/><rect x="182" y="186" width="3" height="37" fill="#22c822"/><rect x="183" y="187" width="1" height="35" fill="#32cd32"/><rect x="187" y="195" width="1" height="32" fill="#ff0000"/><rect x="186" y="204" width="3" height="19" fill="#ff0000"/><rect x="187" y="205" width="1" height="17" fill="#ff4500"/><rect x="191" y="170" width="1" height="39" fill="#ff0000"/><rect x="190" y="194" width="3" height="11" fill="#ff0000"/><rect x="191" y="195" width="1" height="9" fill="#ff4500"/><rect x="195" y="176" width="1" height="29" fill="#ff0000"/><rect x="194" y="178" width="3" height="19" fill="#ff0000"/><rect x="195" y="179" width="1" height="17" fill="#ff4500"/><rect x="199" y="158" width="1" height="71" fill="#22c822"/><rect x="198" y="178" width="3" height="39" fill="#22c822"/><rect x="199" y="179" width="1" height="37" fill="#32cd32"/><rect x="203" y="200" width="1" height="21" fill="#ff0000"/><rect x="202" y="212" width="3" height="7" fill="#ff0000"/><rect x="203" y="213" width="1" height="5" fill="#ff4500"/><rect x="207" y="212" width="1" height="31" fill="#22c822"/><rect x="206" y="216" width="3" height="11" fill="#22c822"/><rect x="207" y="217" width="1" height="9" fill="#32cd32"/><rect x="211" y="200" width="1" height="33" fill="#ff0000"/><rect x="210" y="216" width="3" height="11" fill="#ff0000"/><rect x="211" y="217" width="1" height="9" fill="#ff4500"/><rect x="215" y="184" width="1" height="43" fill="#ff0000"/><rect x="214" y="192" width="3" height="25" fill="#ff0000"/><rect x="215" y="193" width="1" height="23" fill="#ff4500"/><rect x="219" y="172" width="1" height="29" fill="#ff0000"/><rect x="218" y="182" width="3" height="11" fill="#ff0000"/><rect x="219" y="183" width="1" height="9" fill="#ff4500"/><rect x="223" y="176" width="1" height="41" fill="#22c822"/><rect x="222" y="182" width="3" height="25" fill="#22c822"/><rect x="223" y="183" width="1" height="23" fill="#32cd32"/><rect x="227" y="200" width="1" height="15" fill="#22c822"/><rect x="226" y="204" width="3" height="5" fill="#22c822"/><rect x="227" y="205" width="1" height="3" fill="#32cd32"/><rect x="231" y="191" width="1" height="26" fill="#22c822"/><rect x="230" y="212" width="3" height="5" fill="#22c822"/><rect x="231" y="213" width="1" height="3" fill="#32cd32"/><rect x="235" y="188" width="1" height="49" fill="#ff0000"/><rect x="234" y="191" width="3" height="26" fill="#ff0000"/><rect x="235" y="192" width="1" height="24" fill="#ff4500"/><rect x="239" y="180" width="1" height="71" fill="#22c822"/><rect x="238" y="190" width="3" height="37" fill="#22c822"/><rect x="239" y="191" width="1" height="35" fill="#32cd32"/><rect x="243" y="217" width="1" height="64" fill="#22c822"/><rect x="242" y="224" width="3" height="13" fill="#22c822"/><rect x="243" y="225" width="1" height="11" fill="#32cd32"/><rect x="247" y="215" width="1" height="40" fill="#ff0000"/><rect x="246" y="233" width="3" height="4" fill="#ff0000"/><rect x="247" y="234" width="1" height="2" fill="#ff4500"/><rect x="251" y="232" width="1" height="25" fill="#22c822"/><rect x="250" y="233" width="3" height="20" fill="#22c822"/><rect x="251" y="234" width="1" height="18" fill="#32cd32"/><rect x="255" y="239" width="1" height="34" fill="#22c822"/><rect x="254" y="258" width="3" height="7" fill="#22c822"/><rect x="255" y="259" width="1" height="5" fill="#32cd32"/><rect x="259" y="239" width="1" height="58" fill="#22c822"/><rect x="258" y="264" width="3" height="25" fill="#22c822"/><rect x="259" y="265" width="1" height="23" fill="#32cd32"/><rect x="263" y="260" width="1" height="29" fill="#ff0000"/><rect x="262" y="266" width="3" height="23" fill="#ff0000"/><rect x="263" y="267" width="1" height="21" fill="#ff4500"/><rect x="267" y="248" width="1" height="35" fill="#22c822"/><rect x="266" y="266" width="3" height="11" fill="#22c822"/><rect x="267" y="267" width="1" height="9" fill="#32cd32"/><rect x="271" y="240" width="1" height="45" fill="#ff0000"/><rect x="270" y="240" width="3" height="37" fill="#ff0000"/><rect x="271" y="241" width="1" height="35" fill="#ff4500"/><rect x="275" y="235" width="1" height="11" fill="#ff0000"/><rect x="274" y="236" width="3" height="7" fill="#ff0000"/><rect x="275" y="237" width="1" height="5" fill="#ff4500"/><rect x="279" y="209" width="1" height="38" fill="#ff0000"/><rect x="278" y="212" width="3" height="24" fill="#ff0000"/><rect x="279" y="213" width="1" height="22" fill="#ff4500"/><rect x="283" y="197" width="1" height="26" fill="#ff0000"/><rect x="282" y="203" width="3" height="10" fill="#ff0000"/><rect x="283" y="204" width="1" height="8" fill="#ff4500"/><rect x="287" y="192" width="1" height="20" fill="#ff0000"/><rect x="286" y="199" width="3" height="6" fill="#ff0000"/><rect x="287" y="200" width="1" height="4" fill="#ff4500"/><rect x="291" y="178" width="1" height="33" fill="#ff0000"/><rect x="290" y="184" width="3" height="22" fill="#ff0000"/><rect x="291" y="185" width="1" height="20" fill="#ff4500"/><rect x="295" y="184" width="1" height="25" fill="#22c822"/><rect x="294" y="184" width="3" height="7" fill="#22c822"/><rect x="295" y="185" width="1" height="5" fill="#32cd32"/><rect x="299" y="182" width="1" height="11" fill="#ff0000"/><rect x="298" y="186" width="3" height="5" fill="#ff0000"/><rect x="299" y="187" width="1" height="3" fill="#ff4500"/><rect x="303" y="168" width="1" height="17" fill="#ff0000"/><rect x="302" y="170" width="3" height="15" fill="#ff0000"/><rect x="303" y="171" width="1" height="13" fill="#ff4500"/><rect x="307" y="158" width="1" height="35" fill="#22c822"/><rect x="306" y="170" width="3" height="8" fill="#22c822"/><rect x="307" y="171" width="1" height="6" fill="#32cd32"/><rect x="311" y="174" width="1" height="31" fill="#22c822"/><rect x="310" y="176" width="3" height="23" fill="#22c822"/><rect x="311" y="177" width="1" height="21" fill="#32cd32"/><rect x="315" y="167" width="1" height="38" fill="#ff0000"/><rect x="314" y="195" width="3" height="4" fill="#ff0000"/><rect x="315" y="196" width="1" height="2" fill="#ff4500"/><rect x="319" y="124" width="1" height="75" fill="#ff0000"/><rect x="318" y="126" width="3" height="71" fill="#ff0000"/><rect x="319" y="127" width="1" height="69" fill="#ff4500"/><rect x="323" y="117" width="1" height="14" fill="#ff0000"/><rect x="322" y="124" width="3" height="5" fill="#ff0000"/><rect x="323" y="125" width="1" height="3" fill="#ff4500"/><rect x="327" y="94" width="1" height="37" fill="#ff0000"/><rect x="326" y="102" width="3" height="21" fill="#ff0000"/><rect x="327" y="103" width="1" height="19" fill="#ff4500"/><rect x="331" y="85" width="1" height="32" fill="#ff0000"/><rect x="330" y="100" width="3" height="3" fill="#ff0000"/><rect x="331" y="101" width="1" height="1" fill="#ff4500"/><rect x="335" y="79" width="1" height="30" fill="#ff0000"/><rect x="334" y="94" width="3" height="7" fill="#ff0000"/><rect x="335" y="95" width="1" height="5" fill="#ff4500"/><rect x="339" y="44" width="1" height="53" fill="#ff0000"/><rect x="338" y="72" width="3" height="23" fill="#ff0000"/><rect x="339" y="73" width="1" height="21" fill="#ff4500"/><rect x="343" y="69" width="1" height="132" fill="#22c822"/><rect x="342" y="72" width="3" height="121" fill="#22c822"/><rect x="343" y="73" width="1" height="119" fill="#32cd32"/><rect x="347" y="187" width="1" height="28" fill="#22c822"/><rect x="346" y="192" width="3" height="23" fill="#22c822"/><rect x="347" y="193" width="1" height="21" fill="#32cd32"/><rect x="351" y="170" width="1" height="43" fill="#ff0000"/><rect x="350" y="170" width="3" height="39" fill="#ff0000"/><rect x="351" y="171" width="1" height="37" fill="#ff4500"/><rect x="355" y="153" width="1" height="46" fill="#ff0000"/><rect x="354" y="154" width="3" height="19" fill="#ff0000"/><rect x="355" y="155" width="1" height="17" fill="#ff4500"/><rect x="359" y="139" width="1" height="40" fill="#22c822"/><rect x="358" y="153" width="3" height="12" fill="#22c822"/><rect x="359" y="154" width="1" height="10" fill="#32cd32"/><rect x="363" y="153" width="1" height="36" fill="#ff0000"/><rect x="362" y="161" width="3" height="4" fill="#ff0000"/><rect x="363" y="162" width="1" height="2" fill="#ff4500"/><rect x="367" y="154" width="1" height="109" fill="#22c822"/><rect x="366" y="161" width="3" height="79" fill="#22c822"/><rect x="367" y="162" width="1" height="77" fill="#32cd32"/><rect x="371" y="222" width="1" height="25" fill="#ff0000"/><rect x="370" y="224" width="3" height="16" fill="#ff0000"/><rect x="371" y="225" width="1" height="14" fill="#ff4500"/><rect x="375" y="206" width="1" height="49" fill="#22c822"/><rect x="374" y="220" width="3" height="18" fill="#22c822"/><rect x="375" y="221" width="1" height="16" fill="#32cd32"/><rect x="379" y="207" width="1" height="56" fill="#ff0000"/><rect x="378" y="219" width="3" height="19" fill="#ff0000"/><rect x="379" y="220" width="1" height="17" fill="#ff4500"/><rect x="383" y="192" width="1" height="45" fill="#ff0000"/><rect x="382" y="211" width="3" height="10" fill="#ff0000"/><rect x="383" y="212" width="1" height="8" fill="#ff4500"/><rect x="387" y="170" width="1" height="47" fill="#ff0000"/><rect x="386" y="181" width="3" height="32" fill="#ff0000"/><rect x="387" y="182" width="1" height="30" fill="#ff4500"/><rect x="391" y="161" width="1" height="45" fill="#22c822"/><rect x="390" y="182" width="3" height="9" fill="#22c822"/><rect x="391" y="183" width="1" height="7" fill="#32cd32"/><rect x="395" y="175" width="1" height="19" fill="#ff0000"/><rect x="394" y="186" width="3" height="5" fill="#ff0000"/><rect x="395" y="187" width="1" height="3" fill="#ff4500"/><rect x="399" y="175" width="1" height="40" fill="#22c822"/><rect x="398" y="187" width="3" height="16" fill="#22c822"/><rect x="399" y="188" width="1" height="14" fill="#32cd32"/><rect x="403" y="184" width="1" height="29" fill="#ff0000"/><rect x="402" y="192" width="3" height="11" fill="#ff0000"/><rect x="403" y="193" width="1" height="9" fill="#ff4500"/><rect x="407" y="185" width="1" height="30" fill="#22c822"/><rect x="406" y="192" width="3" height="23" fill="#22c822"/><rect x="407" y="193" width="1" height="21" fill="#32cd32"/><rect x="411" y="133" width="1" height="87" fill="#ff0000"/><rect x="410" y="164" width="3" height="50" fill="#ff0000"/><rect x="411" y="165" width="1" height="48" fill="#ff4500"/><rect x="415" y="159" width="1" height="51" fill="#22c822"/><rect x="414" y="164" width="3" height="27" fill="#22c822"/><rect x="415" y="165" width="1" height="25" fill="#32cd32"/><rect x="419" y="186" width="1" height="9" fill="#ff0000"/><rect x="418" y="190" width="3" height="4" fill="#ff0000"/><rect x="419" y="191" width="1" height="2" fill="#ff4500"/><rect x="423" y="186" width="1" height="31" fill="#ff0000"/><rect x="422" y="190" width="3" height="17" fill="#ff0000"/><rect x="423" y="191" width="1" height="15" fill="#ff4500"/><rect x="427" y="186" width="1" height="59" fill="#22c822"/><rect x="426" y="190" width="3" height="39" fill="#22c822"/><rect x="427" y="191" width="1" height="37" fill="#32cd32"/><rect x="431" y="228" width="1" height="58" fill="#22c822"/><rect x="430" y="228" width="3" height="35" fill="#22c822"/><rect x="431" y="229" width="1" height="33" fill="#32cd32"/><rect x="435" y="258" width="1" height="39" fill="#22c822"/><rect x="434" y="261" width="3" height="32" fill="#22c822"/><rect x="435" y="262" width="1" height="30" fill="#32cd32"/><rect x="439" y="253" width="1" height="40" fill="#ff0000"/><rect x="438" y="258" width="3" height="35" fill="#ff0000"/><rect x="439" y="259" width="1" height="33" fill="#ff4500"/><rect x="443" y="255" width="1" height="12" fill="#22c822"/><rect x="442" y="258" width="3" height="5" fill="#22c822"/><rect x="443" y="259" width="1" height="3" fill="#32cd32"/><rect x="447" y="242" width="1" height="25" fill="#ff0000"/><rect x="446" y="250" width="3" height="3" fill="#ff0000"/><rect x="447" y="251" width="1" height="1" fill="#ff4500"/><rect x="451" y="238" width="1" height="41" fill="#22c822"/><rect x="450" y="250" width="3" height="21" fill="#22c822"/><rect x="451" y="251" width="1" height="19" fill="#32cd32"/><rect x="455" y="253" width="1" height="32" fill="#ff0000"/><rect x="454" y="267" width="3" height="4" fill="#ff0000"/><rect x="455" y="268" width="1" height="2" fill="#ff4500"/><rect x="459" y="262" width="1" height="51" fill="#22c822"/><rect x="458" y="267" width="3" height="7" fill="#22c822"/><rect x="459" y="268" width="1" height="5" fill="#32cd32"/><rect x="463" y="263" width="1" height="11" fill="#ff0000"/><rect x="462" y="265" width="3" height="8" fill="#ff0000"/><rect x="463" y="266" width="1" height="6" fill="#ff4500"/><rect x="467" y="272" width="1" height="7" fill="#22c822"/><rect x="466" y="273" width="3" height="2" fill="#22c822"/><rect x="471" y="240" width="1" height="37" fill="#ff0000"/><rect x="470" y="242" width="3" height="27" fill="#ff0000"/><rect x="471" y="243" width="1" height="25" fill="#ff4500"/><rect x="475" y="239" width="1" height="34" fill="#ff0000"/><rect x="474" y="240" width="3" height="3" fill="#ff0000"/><rect x="475" y="241" width="1" height="1" fill="#ff4500"/><rect x="479" y="231" width="1" height="38" fill="#22c822"/><rect x="478" y="241" width="3" height="21" fill="#22c822"/><rect x="479" y="242" width="1" height="19" fill="#32cd32"/><rect x="483" y="246" width="1" height="30" fill="#ff0000"/><rect x="482" y="252" width="3" height="9" fill="#ff0000"/><rect x="483" y="253" width="1" height="7" fill="#ff4500"/><rect x="487" y="240" width="1" height="43" fill="#22c822"/><rect x="486" y="252" width="3" height="7" fill="#22c822"/><rect x="487" y="253" width="1" height="5" fill="#32cd32"/><rect x="491" y="256" width="1" height="7" fill="#22c822"/><rect x="490" y="257" width="3" height="5" fill="#22c822"/><rect x="491" y="258" width="1" height="3" fill="#32cd32"/><rect x="495" y="254" width="1" height="25" fill="#22c822"/><rect x="494" y="262" width="3" height="2" fill="#22c822"/><rect x="499" y="256" width="1" height="28" fill="#ff0000"/><rect x="498" y="258" width="3" height="7" fill="#ff0000"/><rect x="499" y="259" width="1" height="5" fill="#ff4500"/><rect x="503" y="198" width="1" height="62" fill="#ff0000"/><rect x="502" y="200" width="3" height="59" fill="#ff0000"/><rect x="503" y="201" width="1" height="57" fill="#ff4500"/><rect x="507" y="183" width="1" height="33" fill="#ff0000"/><rect x="506" y="192" width="3" height="11" fill="#ff0000"/><rect x="507" y="193" width="1" height="9" fill="#ff4500"/><rect x="511" y="184" width="1" height="22" fill="#22c822"/><rect x="510" y="192" width="3" height="9" fill="#22c822"/><rect x="511" y="193" width="1" height="7" fill="#32cd32"/><rect x="515" y="196" width="1" height="6" fill="#22c822"/><rect x="514" y="198" width="3" height="3" fill="#22c822"/><rect x="515" y="199" width="1" height="1" fill="#32cd32"/><rect x="519" y="170" width="1" height="46" fill="#ff0000"/><rect x="518" y="186" width="3" height="20" fill="#ff0000"/><rect x="519" y="187" width="1" height="18" fill="#ff4500"/><rect x="523" y="152" width="1" height="51" fill="#22c822"/><rect x="522" y="186" width="3" height="10" fill="#22c822"/><rect x="523" y="187" width="1" height="8" fill="#32cd32"/><rect x="527" y="182" width="1" height="38" fill="#ff0000"/><rect x="526" y="187" width="3" height="10" fill="#ff0000"/><rect x="527" y="188" width="1" height="8" fill="#ff4500"/><rect x="531" y="181" width="1" height="33" fill="#22c822"/><rect x="530" y="187" width="3" height="19" fill="#22c822"/><rect x="531" y="188" width="1" height="17" fill="#32cd32"/><rect x="535" y="192" width="1" height="33" fill="#ff0000"/><rect x="534" y="196" width="3" height="11" fill="#ff0000"/><rect x="535" y="197" width="1" height="9" fill="#ff4500"/><rect x="539" y="186" width="1" height="13" fill="#ff0000"/><rect x="538" y="186" width="3" height="11" fill="#ff0000"/><rect x="539" y="187" width="1" height="9" fill="#ff4500"/><rect x="543" y="152" width="1" height="44" fill="#ff0000"/><rect x="542" y="160" width="3" height="33" fill="#ff0000"/><rect x="543" y="161" width="1" height="31" fill="#ff4500"/><rect x="547" y="157" width="1" height="26" fill="#22c822"/><rect x="546" y="160" width="3" height="18" fill="#22c822"/><rect x="547" y="161" width="1" height="16" fill="#32cd32"/><rect x="551" y="176" width="1" height="29" fill="#22c822"/><rect x="550" y="176" width="3" height="5" fill="#22c822"/><rect x="551" y="177" width="1" height="3" fill="#32cd32"/><rect x="555" y="152" width="1" height="37" fill="#22c822"/><rect x="554" y="179" width="3" height="8" fill="#22c822"/><rect x="555" y="180" width="1" height="6" fill="#32cd32"/><rect x="559" y="170" width="1" height="47" fill="#22c822"/><rect x="558" y="186" width="3" height="25" fill="#22c822"/><rect x="559" y="187" width="1" height="23" fill="#32cd32"/><rect x="563" y="208" width="1" height="9" fill="#22c822"/><rect x="562" y="210" width="3" height="7" fill="#22c822"/><rect x="563" y="211" width="1" height="5" fill="#32cd32"/><rect x="567" y="181" width="1" height="35" fill="#ff0000"/><rect x="566" y="186" width="3" height="23" fill="#ff0000"/><rect x="567" y="187" width="1" height="21" fill="#ff4500"/><rect x="571" y="180" width="1" height="53" fill="#22c822"/><rect x="570" y="186" width="3" height="40" fill="#22c822"/><rect x="571" y="187" width="1" height="38" fill="#32cd32"/><rect x="575" y="188" width="1" height="39" fill="#ff0000"/><rect x="574" y="190" width="3" height="37" fill="#ff0000"/><rect x="575" y="191" width="1" height="35" fill="#ff4500"/><rect x="579" y="176" width="1" height="43" fill="#ff0000"/><rect x="578" y="180" width="3" height="12" fill="#ff0000"/><rect x="579" y="181" width="1" height="10" fill="#ff4500"/><rect x="583" y="126" width="1" height="59" fill="#ff0000"/><rect x="582" y="127" width="3" height="55" fill="#ff0000"/><rect x="583" y="128" width="1" height="53" fill="#ff4500"/><rect x="587" y="127" width="1" height="14" fill="#22c822"/><rect x="586" y="128" width="3" height="7" fill="#22c822"/><rect x="587" y="129" width="1" height="5" fill="#32cd32"/><rect x="591" y="110" width="1" height="31" fill="#ff0000"/><rect x="590" y="119" width="3" height="14" fill="#ff0000"/><rect x="591" y="120" width="1" height="12" fill="#ff4500"/><rect x="595" y="118" width="1" height="33" fill="#22c822"/><rect x="594" y="119" width="3" height="20" fill="#22c822"/><rect x="595" y="120" width="1" height="18" fill="#32cd32"/><rect x="599" y="134" width="1" height="67" fill="#22c822"/><rect x="598" y="138" width="3" height="62" fill="#22c822"/><rect x="599" y="139" width="1" height="60" fill="#32cd32"/><rect x="603" y="192" width="1" height="33" fill="#22c822"/><rect x="602" y="199" width="3" height="8" fill="#22c822"/><rect x="603" y="200" width="1" height="6" fill="#32cd32"/><rect x="607" y="172" width="1" height="43" fill="#ff0000"/><rect x="606" y="174" width="3" height="35" fill="#ff0000"/><rect x="607" y="175" width="1" height="33" fill="#ff4500"/><rect x="611" y="168" width="1" height="9" fill="#ff0000"/><rect x="610" y="169" width="3" height="7" fill="#ff0000"/><rect x="611" y="170" width="1" height="5" fill="#ff4500"/><rect x="615" y="172" width="1" height="29" fill="#22c822"/><rect x="614" y="173" width="3" height="8" fill="#22c822"/><rect x="615" y="174" width="1" height="6" fill="#32cd32"/><rect x="619" y="153" width="1" height="32" fill="#ff0000"/><rect x="618" y="172" width="3" height="11" fill="#ff0000"/><rect x="619" y="173" width="1" height="9" fill="#ff4500"/><rect x="623" y="158" width="1" height="43" fill="#22c822"/><rect x="622" y="172" width="3" height="17" fill="#22c822"/><rect x="623" y="173" width="1" height="15" fill="#32cd32"/><rect x="627" y="170" width="1" height="43" fill="#ff0000"/><rect x="626" y="173" width="3" height="16" fill="#ff0000"/><rect x="627" y="174" width="1" height="14" fill="#ff4500"/><rect x="631" y="172" width="1" height="31" fill="#22c822"/><rect x="630" y="173" width="3" height="29" fill="#22c822"/><rect x="631" y="174" width="1" height="27" fill="#32cd32"/><rect x="635" y="198" width="1" height="11" fill="#ff0000"/><rect x="634" y="199" width="3" height="2" fill="#ff0000"/><rect x="639" y="186" width="1" height="29" fill="#ff0000"/><rect x="638" y="196" width="3" height="9" fill="#ff0000"/><rect x="639" y="197" width="1" height="7" fill="#ff4500"/><rect x="643" y="174" width="1" height="25" fill="#ff0000"/><rect x="642" y="196" width="3" height="2" fill="#ff0000"/><rect x="647" y="163" width="1" height="38" fill="#ff0000"/><rect x="646" y="193" width="3" height="4" fill="#ff0000"/><rect x="647" y="194" width="1" height="2" fill="#ff4500"/><rect x="651" y="185" width="1" height="20" fill="#22c822"/><rect x="650" y="194" width="3" height="5" fill="#22c822"/><rect x="651" y="195" width="1" height="3" fill="#32cd32"/><rect x="655" y="191" width="1" height="40" fill="#22c822"/><rect x="654" y="198" width="3" height="19" fill="#22c822"/><rect x="655" y="199" width="1" height="17" fill="#32cd32"/><rect x="659" y="210" width="1" height="6" fill="#ff0000"/><rect x="658" y="213" width="3" height="3" fill="#ff0000"/><rect x="659" y="214" width="1" height="1" fill="#ff4500"/><rect x="663" y="194" width="1" height="25" fill="#ff0000"/><rect x="662" y="194" width="3" height="19" fill="#ff0000"/><rect x="663" y="195" width="1" height="17" fill="#ff4500"/><rect x="667" y="178" width="1" height="23" fill="#ff0000"/><rect x="666" y="182" width="3" height="15" fill="#ff0000"/><rect x="667" y="183" width="1" height="13" fill="#ff4500"/><rect x="671" y="176" width="1" height="35" fill="#22c822"/><rect x="670" y="182" width="3" height="9" fill="#22c822"/><rect x="671" y="183" width="1" height="7" fill="#32cd32"/><rect x="675" y="186" width="1" height="62" fill="#22c822"/><rect x="674" y="188" width="3" height="60" fill="#22c822"/><rect x="675" y="189" width="1" height="58" fill="#32cd32"/><rect x="679" y="194" width="1" height="55" fill="#ff0000"/><rect x="678" y="194" width="3" height="53" fill="#ff0000"/><rect x="679" y="195" width="1" height="51" fill="#ff4500"/><rect x="683" y="192" width="1" height="5" fill="#ff0000"/><rect x="682" y="194" width="3" height="3" fill="#ff0000"/><rect x="683" y="195" width="1" height="1" fill="#ff4500"/><rect x="687" y="180" width="1" height="23" fill="#ff0000"/><rect x="686" y="182" width="3" height="15" fill="#ff0000"/><rect x="687" y="183" width="1" height="13" fill="#ff4500"/><rect x="691" y="182" width="1" height="19" fill="#22c822"/><rect x="690" y="182" width="3" height="15" fill="#22c822"/><rect x="691" y="183" width="1" height="13" fill="#32cd32"/><rect x="695" y="182" width="1" height="22" fill="#22c822"/><rect x="694" y="194" width="3" height="7" fill="#22c822"/><rect x="695" y="195" width="1" height="5" fill="#32cd32"/><rect x="699" y="182" width="1" height="27" fill="#ff0000"/><rect x="698" y="188" width="3" height="14" fill="#ff0000"/><rect x="699" y="189" width="1" height="12" fill="#ff4500"/><rect x="703" y="175" width="1" height="50" fill="#22c822"/><rect x="702" y="188" width="3" height="34" fill="#22c822"/><rect x="703" y="189" width="1" height="32" fill="#32cd32"/><rect x="707" y="216" width="1" height="9" fill="#ff0000"/><rect x="706" y="216" width="3" height="5" fill="#ff0000"/><rect x="707" y="217" width="1" height="3" fill="#ff4500"/><rect x="711" y="204" width="1" height="19" fill="#ff0000"/><rect x="710" y="208" width="3" height="6" fill="#ff0000"/><rect x="711" y="209" width="1" height="4" fill="#ff4500"/><rect x="715" y="208" width="1" height="25" fill="#22c822"/><rect x="714" y="208" width="3" height="25" fill="#22c822"/><rect x="715" y="209" width="1" height="23" fill="#32cd32"/><rect x="719" y="210" width="1" height="23" fill="#ff0000"/><rect x="718" y="211" width="3" height="22" fill="#ff0000"/><rect x="719" y="212" width="1" height="20" fill="#ff4500"/><rect x="723" y="209" width="1" height="94" fill="#22c822"/><rect x="722" y="210" width="3" height="92" fill="#22c822"/><rect x="723" y="211" width="1" height="90" fill="#32cd32"/><rect x="727" y="296" width="1" height="48" fill="#22c822"/><rect x="726" y="300" width="3" height="33" fill="#22c822"/><rect x="727" y="301" width="1" height="31" fill="#32cd32"/><rect x="731" y="324" width="1" height="13" fill="#ff0000"/><rect x="730" y="331" width="3" height="2" fill="#ff0000"/><rect x="735" y="310" width="1" height="35" fill="#ff0000"/><rect x="734" y="316" width="3" height="15" fill="#ff0000"/><rect x="735" y="317" width="1" height="13" fill="#ff4500"/><rect x="739" y="306" width="1" height="29" fill="#22c822"/><rect x="738" y="314" width="3" height="3" fill="#22c822"/><rect x="739" y="315" width="1" height="1" fill="#32cd32"/><rect x="743" y="276" width="1" height="41" fill="#ff0000"/><rect x="742" y="281" width="3" height="36" fill="#ff0000"/><rect x="743" y="282" width="1" height="34" fill="#ff4500"/><rect x="747" y="279" width="1" height="16" fill="#22c822"/><rect x="746" y="281" width="3" height="10" fill="#22c822"/><rect x="747" y="282" width="1" height="8" fill="#32cd32"/><rect x="751" y="266" width="1" height="25" fill="#ff0000"/><rect x="750" y="277" width="3" height="14" fill="#ff0000"/><rect x="751" y="278" width="1" height="12" fill="#ff4500"/><rect x="755" y="277" width="1" height="8" fill="#22c822"/><rect x="754" y="278" width="3" height="5" fill="#22c822"/><rect x="755" y="279" width="1" height="3" fill="#32cd32"/><rect x="759" y="274" width="1" height="27" fill="#22c822"/><rect x="758" y="282" width="3" height="9" fill="#22c822"/><rect x="759" y="283" width="1" height="7" fill="#32cd32"/><rect x="763" y="288" width="1" height="39" fill="#22c822"/><rect x="762" y="289" width="3" height="34" fill="#22c822"/><rect x="763" y="290" width="1" height="32" fill="#32cd32"/><rect x="767" y="316" width="1" height="21" fill="#22c822"/><rect x="766" y="321" width="3" height="14" fill="#22c822"/><rect x="767" y="322" width="1" height="12" fill="#32cd32"/><rect x="771" y="326" width="1" height="27" fill="#22c822"/><rect x="770" y="333" width="3" height="16" fill="#22c822"/><rect x="771" y="334" width="1" height="14" fill="#32cd32"/><rect x="775" y="330" width="1" height="33" fill="#ff0000"/><rect x="774" y="332" width="3" height="17" fill="#ff0000"/><rect x="775" y="333" width="1" height="15" fill="#ff4500"/><rect x="779" y="312" width="1" height="25" fill="#ff0000"/><rect x="778" y="314" width="3" height="20" fill="#ff0000"/><rect x="779" y="315" width="1" height="18" fill="#ff4500"/><rect x="783" y="310" width="1" height="17" fill="#ff0000"/><rect x="782" y="313" width="3" height="8" fill="#ff0000"/><rect x="783" y="314" width="1" height="6" fill="#ff4500"/><rect x="787" y="276" width="1" height="63" fill="#22c822"/><rect x="786" y="313" width="3" height="21" fill="#22c822"/><rect x="787" y="314" width="1" height="19" fill="#32cd32"/><rect x="791" y="311" width="1" height="42" fill="#22c822"/><rect x="790" y="332" width="3" height="9" fill="#22c822"/><rect x="791" y="333" width="1" height="7" fill="#32cd32"/><rect x="795" y="328" width="1" height="52" fill="#22c822"/><rect x="794" y="340" width="3" height="28" fill="#22c822"/><rect x="795" y="341" width="1" height="26" fill="#32cd32"/><rect x="799" y="337" width="1" height="46" fill="#ff0000"/><rect x="798" y="344" width="3" height="25" fill="#ff0000"/><rect x="799" y="345" width="1" height="23" fill="#ff4500"/><rect x="803" y="335" width="1" height="10" fill="#ff0000"/><rect x="802" y="336" width="3" height="9" fill="#ff0000"/><rect x="803" y="337" width="1" height="7" fill="#ff4500"/><rect x="807" y="333" width="1" height="29" fill="#ff0000"/><rect x="806" y="336" width="3" height="3" fill="#ff0000"/><rect x="807" y="337" width="1" height="1" fill="#ff4500"/><rect x="811" y="330" width="1" height="43" fill="#22c822"/><rect x="810" y="337" width="3" height="12" fill="#22c822"/><rect x="811" y="338" width="1" height="10" fill="#32cd32"/><rect x="815" y="340" width="1" height="31" fill="#22c822"/><rect x="814" y="348" width="3" height="3" fill="#22c822"/><rect x="815" y="349" width="1" height="1" fill="#32cd32"/><rect x="819" y="338" width="1" height="32" fill="#22c822"/><rect x="818" y="349" width="3" height="20" fill="#22c822"/><rect x="819" y="350" width="1" height="18" fill="#32cd32"/><rect x="823" y="364" width="1" height="25" fill="#22c822"/><rect x="822" y="367" width="3" height="17" fill="#22c822"/><rect x="823" y="368" width="1" height="15" fill="#32cd32"/><rect x="827" y="378" width="1" height="11" fill="#22c822"/><rect x="826" y="382" width="3" height="7" fill="#22c822"/><rect x="827" y="383" width="1" height="5" fill="#32cd32"/><rect x="831" y="390" width="1" height="39" fill="#22c822"/><rect x="830" y="392" width="3" height="29" fill="#22c822"/><rect x="831" y="393" width="1" height="27" fill="#32cd32"/><rect x="835" y="412" width="1" height="33" fill="#22c822"/><rect x="834" y="419" width="3" height="12" fill="#22c822"/><rect x="835" y="420" width="1" height="10" fill="#32cd32"/><rect x="839" y="410" width="1" height="42" fill="#ff0000"/><rect x="838" y="412" width="3" height="19" fill="#ff0000"/><rect x="839" y="413" width="1" height="17" fill="#ff4500"/><rect x="843" y="390" width="1" height="31" fill="#ff0000"/><rect x="842" y="408" width="3" height="5" fill="#ff0000"/><rect x="843" y="409" width="1" height="3" fill="#ff4500"/><rect x="847" y="393" width="1" height="20" fill="#22c822"/><rect x="846" y="408" width="3" height="1" fill="#22c822"/><rect x="851" y="404" width="1" height="5" fill="#ff0000"/><rect x="850" y="406" width="3" height="3" fill="#ff0000"/><rect x="851" y="407" width="1" height="1" fill="#ff4500"/><rect x="855" y="393" width="1" height="35" fill="#ff0000"/><rect x="854" y="395" width="3" height="12" fill="#ff0000"/><rect x="855" y="396" width="1" height="10" fill="#ff4500"/><rect x="859" y="393" width="1" height="32" fill="#22c822"/><rect x="858" y="395" width="3" height="12" fill="#22c822"/><rect x="859" y="396" width="1" height="10" fill="#32cd32"/><rect x="863" y="402" width="1" height="31" fill="#22c822"/><rect x="862" y="406" width="3" height="13" fill="#22c822"/><rect x="863" y="407" width="1" height="11" fill="#32cd32"/><rect x="867" y="380" width="1" height="55" fill="#ff0000"/><rect x="866" y="387" width="3" height="32" fill="#ff0000"/><rect x="867" y="388" width="1" height="30" fill="#ff4500"/><rect x="871" y="384" width="1" height="37" fill="#22c822"/><rect x="870" y="384" width="3" height="33" fill="#22c822"/><rect x="871" y="385" width="1" height="31" fill="#32cd32"/><rect x="875" y="415" width="1" height="13" fill="#22c822"/><rect x="874" y="416" width="3" height="10" fill="#22c822"/><rect x="875" y="417" width="1" height="8" fill="#32cd32"/><rect x="879" y="398" width="1" height="31" fill="#ff0000"/><rect x="878" y="408" width="3" height="13" fill="#ff0000"/><rect x="879" y="409" width="1" height="11" fill="#ff4500"/><rect x="883" y="382" width="1" height="31" fill="#ff0000"/><rect x="882" y="396" width="3" height="15" fill="#ff0000"/><rect x="883" y="397" width="1" height="13" fill="#ff4500"/><rect x="887" y="372" width="1" height="34" fill="#22c822"/><rect x="886" y="396" width="3" height="5" fill="#22c822"/><rect x="887" y="397" width="1" height="3" fill="#32cd32"/><rect x="891" y="378" width="1" height="25" fill="#ff0000"/><rect x="890" y="382" width="3" height="19" fill="#ff0000"/><rect x="891" y="383" width="1" height="17" fill="#ff4500"/><rect x="895" y="382" width="1" height="37" fill="#22c822"/><rect x="894" y="382" width="3" height="31" fill="#22c822"/><rect x="895" y="383" width="1" height="29" fill="#32cd32"/><rect x="899" y="410" width="1" height="7" fill="#22c822"/><rect x="898" y="412" width="3" height="5" fill="#22c822"/><rect x="899" y="413" width="1" height="3" fill="#32cd32"/><rect x="903" y="408" width="1" height="22" fill="#ff0000"/><rect x="902" y="421" width="3" height="2" fill="#ff0000"/><rect x="907" y="412" width="1" height="25" fill="#ff0000"/><rect x="906" y="418" width="3" height="5" fill="#ff0000"/><rect x="907" y="419" width="1" height="3" fill="#ff4500"/><rect x="911" y="395" width="1" height="38" fill="#ff0000"/><rect x="910" y="402" width="3" height="18" fill="#ff0000"/><rect x="911" y="403" width="1" height="16" fill="#ff4500"/><rect x="915" y="393" width="1" height="33" fill="#22c822"/><rect x="914" y="402" width="3" height="19" fill="#22c822"/><rect x="915" y="403" width="1" height="17" fill="#32cd32"/><rect x="919" y="399" width="1" height="29" fill="#ff0000"/><rect x="918" y="400" width="3" height="21" fill="#ff0000"/><rect x="919" y="401" width="1" height="19" fill="#ff4500"/><rect x="923" y="398" width="1" height="9" fill="#22c822"/><rect x="922" y="400" width="3" height="4" fill="#22c822"/><rect x="923" y="401" width="1" height="2" fill="#32cd32"/></g><rect x="2" y="383" width="6" height="6" fill="#00ff00"/><rect x="4" y="385" width="2" height="2" fill="#fff"/><rect x="2" y="473" width="6" height="6" fill="#0000ff"/><rect x="4" y="475" width="2" height="2" fill="#fff"/><rect x="1166" y="49" width="2" height="1" fill="#000"/><text x="1171" y="53" font-size="10.0" fill="#000" font-family="'Liberation Sans', Arial, sans-serif" textLength="33" lengthAdjust="spacingAndGlyphs" stroke="#000" stroke-width="0.2">0.79975</text><rect x="1166" y="82" width="2" height="1" fill="#000"/><text x="1171" y="86" font-size="10.0" fill="#000" font-family="'Liberation Sans', Arial, sans-serif" textLength="33" lengthAdjust="spacingAndGlyphs" stroke="#000" stroke-width="0.2">0.79390</text><rect x="1166" y="115" width="2" height="1" fill="#000"/><text x="1171" y="119" font-size="10.0" fill="#000" font-family="'Liberation Sans', Arial, sans-serif" textLength="33" lengthAdjust="spacingAndGlyphs" stroke="#000" stroke-width="0.2">0.78805</text><rect x="1166" y="148" width="2" height="1" fill="#000"/><text x="1171" y="152" font-size="10.0" fill="#000" font-family="'Liberation Sans', Arial, sans-serif" textLength="33" lengthAdjust="spacingAndGlyphs" stroke="#000" stroke-width="0.2">0.78220</text><rect x="1166" y="181" width="2" height="1" fill="#000"/><text x="1171" y="185" font-size="10.0" fill="#000" font-family="'Liberation Sans', Arial, sans-serif" textLength="33" lengthAdjust="spacingAndGlyphs" stroke="#000" stroke-width="0.2">0.77635</text><rect x="1166" y="214" width="2" height="1" fill="#000"/><text x="1171" y="218" font-size="10.0" fill="#000" font-family="'Liberation Sans', Arial, sans-serif" textLength="33" lengthAdjust="spacingAndGlyphs" stroke="#000" stroke-width="0.2">0.77050</text><rect x="1166" y="247" width="2" height="1" fill="#000"/><text x="1171" y="251" font-size="10.0" fill="#000" font-family="'Liberation Sans', Arial, sans-serif" textLength="33" lengthAdjust="spacingAndGlyphs" stroke="#000" stroke-width="0.2">0.76465</text><rect x="1166" y="280" width="2" height="1" fill="#000"/><text x="1171" y="284" font-size="10.0" fill="#000" font-family="'Liberation Sans', Arial, sans-serif" textLength="33" lengthAdjust="spacingAndGlyphs" stroke="#000" stroke-width="0.2">0.75880</text><rect x="1166" y="313" width="2" height="1" fill="#000"/><text x="1171" y="317" font-size="10.0" fill="#000" font-family="'Liberation Sans', Arial, sans-serif" textLength="33" lengthAdjust="spacingAndGlyphs" stroke="#000" stroke-width="0.2">0.75295</text><rect x="1166" y="346" width="2" height="1" fill="#000"/><text x="1171" y="350" font-size="10.0" fill="#000" font-family="'Liberation Sans', Arial, sans-serif" textLength="33" lengthAdjust="spacingAndGlyphs" stroke="#000" stroke-width="0.2">0.74710</text><rect x="1166" y="379" width="2" height="1" fill="#000"/><text x="1171" y="383" font-size="10.0" fill="#000" font-family="'Liberation Sans', Arial, sans-serif" textLength="33" lengthAdjust="spacingAndGlyphs" stroke="#000" stroke-width="0.2">0.74140</text><rect x="1166" y="412" width="2" height="1" fill="#000"/><text x="1171" y="416" font-size="10.0" fill="#000" font-family="'Liberation Sans', Arial, sans-serif" textLength="33" lengthAdjust="spacingAndGlyphs" stroke="#000" stroke-width="0.2">0.73555</text><rect x="1166" y="445" width="2" height="1" fill="#000"/><text x="1171" y="449" font-size="10.0" fill="#000" font-family="'Liberation Sans', Arial, sans-serif" textLength="33" lengthAdjust="spacingAndGlyphs" stroke="#000" stroke-width="0.2">0.72970</text><rect x="1166" y="478" width="2" height="1" fill="#000"/><text x="1171" y="482" font-size="10.0" fill="#000" font-family="'Liberation Sans', Arial, sans-serif" textLength="33" lengthAdjust="spacingAndGlyphs" stroke="#000" stroke-width="0.2">0.72385</text><rect x="1167" y="200" width="39" height="11" fill="#ff0000"/><text x="1171" y="209" font-size="10.0" fill="#fff" font-family="'Liberation Sans', Arial, sans-serif" textLength="33" lengthAdjust="spacingAndGlyphs" stroke="#fff" stroke-width="0.2">0.77200</text><rect x="1167" y="284" width="39" height="11" fill="#ff0000"/><text x="1171" y="293" font-size="10.0" fill="#fff" font-family="'Liberation Sans', Arial, sans-serif" textLength="33" lengthAdjust="spacingAndGlyphs" stroke="#fff" stroke-width="0.2">0.75716</text><rect x="1167" y="380" width="39" height="11" fill="#00ff00"/><text x="1171" y="389" font-size="10.0" fill="#fff" font-family="'Liberation Sans', Arial, sans-serif" textLength="33" lengthAdjust="spacingAndGlyphs" stroke="#fff" stroke-width="0.2">0.74007</text><rect x="1167" y="470" width="39" height="11" fill="#0000ff"/><text x="1171" y="479" font-size="10.0" fill="#fff" font-family="'Liberation Sans', Arial, sans-serif" textLength="33" lengthAdjust="spacingAndGlyphs" stroke="#fff" stroke-width="0.2">0.72411</text><rect x="1167" y="397" width="39" height="11" fill="#000"/><text x="1171" y="406" font-size="10.0" fill="#fff" font-family="'Liberation Sans', Arial, sans-serif" textLength="33" lengthAdjust="spacingAndGlyphs" stroke="#fff" stroke-width="0.2">0.73733</text><polygon points="6,32 13,32 9.5,28" fill="#000"/><text x="19" y="33" font-size="10.0" fill="#000" font-family="'Liberation Sans', Arial, sans-serif" textLength="64.7" lengthAdjust="spacingAndGlyphs" stroke="#000" stroke-width="0.2">AUDUSD,Daily</text><text x="90.5" y="33" font-size="10.0" fill="#000" font-family="'Liberation Sans', Arial, sans-serif" textLength="140.3" lengthAdjust="spacingAndGlyphs" stroke="#000" stroke-width="0.2">0.73756 0.73805 0.73684 0.73733</text><rect x="3" y="657" width="1" height="3" fill="#000"/><text x="2.6" y="669" font-size="10.0" fill="#000" font-family="'Liberation Sans', Arial, sans-serif" textLength="53.1" lengthAdjust="spacingAndGlyphs" stroke="#000" stroke-width="0.2">17 Nov 2020</text><rect x="67" y="657" width="1" height="3" fill="#000"/><text x="66.6" y="669" font-size="10.0" fill="#000" font-family="'Liberation Sans', Arial, sans-serif" textLength="46.4" lengthAdjust="spacingAndGlyphs" stroke="#000" stroke-width="0.2">5 Dec 2020</text><rect x="131" y="657" width="1" height="3" fill="#000"/><text x="130.6" y="669" font-size="10.0" fill="#000" font-family="'Liberation Sans', Arial, sans-serif" textLength="51.5" lengthAdjust="spacingAndGlyphs" stroke="#000" stroke-width="0.2">24 Dec 2020</text><rect x="195" y="657" width="1" height="3" fill="#000"/><text x="194.6" y="669" font-size="10.0" fill="#000" font-family="'Liberation Sans', Arial, sans-serif" textLength="48.8" lengthAdjust="spacingAndGlyphs" stroke="#000" stroke-width="0.2">14 Jan 2021</text><rect x="259" y="657" width="1" height="3" fill="#000"/><text x="258.6" y="669" font-size="10.0" fill="#000" font-family="'Liberation Sans', Arial, sans-serif" textLength="45.1" lengthAdjust="spacingAndGlyphs" stroke="#000" stroke-width="0.2">2 Feb 2021</text><rect x="323" y="657" width="1" height="3" fill="#000"/><text x="322.6" y="669" font-size="10.0" fill="#000" font-family="'Liberation Sans', Arial, sans-serif" textLength="50.4" lengthAdjust="spacingAndGlyphs" stroke="#000" stroke-width="0.2">20 Feb 2021</text><rect x="387" y="657" width="1" height="3" fill="#000"/><text x="386.6" y="669" font-size="10.0" fill="#000" font-family="'Liberation Sans', Arial, sans-serif" textLength="50.4" lengthAdjust="spacingAndGlyphs" stroke="#000" stroke-width="0.2">11 Mar 2021</text><rect x="451" y="657" width="1" height="3" fill="#000"/><text x="450.6" y="669" font-size="10.0" fill="#000" font-family="'Liberation Sans', Arial, sans-serif" textLength="51" lengthAdjust="spacingAndGlyphs" stroke="#000" stroke-width="0.2">30 Mar 2021</text><rect x="515" y="657" width="1" height="3" fill="#000"/><text x="514.6" y="669" font-size="10.0" fill="#000" font-family="'Liberation Sans', Arial, sans-serif" textLength="50.1" lengthAdjust="spacingAndGlyphs" stroke="#000" stroke-width="0.2">17 Apr 2021</text><rect x="579" y="657" width="1" height="3" fill="#000"/><text x="578.6" y="669" font-size="10.0" fill="#000" font-family="'Liberation Sans', Arial, sans-serif" textLength="49" lengthAdjust="spacingAndGlyphs" stroke="#000" stroke-width="0.2">6 May 2021</text><rect x="643" y="657" width="1" height="3" fill="#000"/><text x="642.6" y="669" font-size="10.0" fill="#000" font-family="'Liberation Sans', Arial, sans-serif" textLength="53.8" lengthAdjust="spacingAndGlyphs" stroke="#000" stroke-width="0.2">25 May 2021</text><rect x="707" y="657" width="1" height="3" fill="#000"/><text x="706.6" y="669" font-size="10.0" fill="#000" font-family="'Liberation Sans', Arial, sans-serif" textLength="48.6" lengthAdjust="spacingAndGlyphs" stroke="#000" stroke-width="0.2">12 Jun 2021</text><rect x="771" y="657" width="1" height="3" fill="#000"/><text x="770.6" y="669" font-size="10.0" fill="#000" font-family="'Liberation Sans', Arial, sans-serif" textLength="41.1" lengthAdjust="spacingAndGlyphs" stroke="#000" stroke-width="0.2">1 Jul 2021</text><rect x="835" y="657" width="1" height="3" fill="#000"/><text x="834.6" y="669" font-size="10.0" fill="#000" font-family="'Liberation Sans', Arial, sans-serif" textLength="46.5" lengthAdjust="spacingAndGlyphs" stroke="#000" stroke-width="0.2">20 Jul 2021</text><rect x="899" y="657" width="1" height="3" fill="#000"/><text x="898.6" y="669" font-size="10.0" fill="#000" font-family="'Liberation Sans', Arial, sans-serif" textLength="47.3" lengthAdjust="spacingAndGlyphs" stroke="#000" stroke-width="0.2">7 Aug 2021</text>
<g clip-path="url(#cmacd)"><rect x="2" y="508" width="3" height="22" fill="#c0c0c0"/><rect x="6" y="507" width="3" height="23" fill="#c0c0c0"/><rect x="10" y="509" width="3" height="21" fill="#c0c0c0"/><rect x="14" y="508" width="3" height="22" fill="#c0c0c0"/><rect x="18" y="508" width="3" height="22" fill="#c0c0c0"/><rect x="22" y="510" width="3" height="20" fill="#c0c0c0"/><rect x="26" y="509" width="3" height="21" fill="#c0c0c0"/><rect x="30" y="508" width="3" height="22" fill="#c0c0c0"/><rect x="34" y="507" width="3" height="23" fill="#c0c0c0"/><rect x="38" y="505" width="3" height="25" fill="#c0c0c0"/><rect x="42" y="504" width="3" height="26" fill="#c0c0c0"/><rect x="46" y="504" width="3" height="26" fill="#c0c0c0"/><rect x="50" y="505" width="3" height="25" fill="#c0c0c0"/><rect x="54" y="505" width="3" height="25" fill="#c0c0c0"/><rect x="58" y="503" width="3" height="27" fill="#c0c0c0"/><rect x="62" y="501" width="3" height="29" fill="#c0c0c0"/><rect x="66" y="501" width="3" height="29" fill="#c0c0c0"/><rect x="70" y="500" width="3" height="30" fill="#c0c0c0"/><rect x="74" y="501" width="3" height="29" fill="#c0c0c0"/><rect x="78" y="500" width="3" height="30" fill="#c0c0c0"/><rect x="82" y="498" width="3" height="32" fill="#c0c0c0"/><rect x="86" y="496" width="3" height="34" fill="#c0c0c0"/><rect x="90" y="495" width="3" height="35" fill="#c0c0c0"/><rect x="94" y="495" width="3" height="35" fill="#c0c0c0"/><rect x="98" y="495" width="3" height="35" fill="#c0c0c0"/><rect x="102" y="494" width="3" height="36" fill="#c0c0c0"/><rect x="106" y="491" width="3" height="39" fill="#c0c0c0"/><rect x="110" y="490" width="3" height="40" fill="#c0c0c0"/><rect x="114" y="490" width="3" height="40" fill="#c0c0c0"/><rect x="118" y="492" width="3" height="38" fill="#c0c0c0"/><rect x="122" y="496" width="3" height="34" fill="#c0c0c0"/><rect x="126" y="497" width="3" height="33" fill="#c0c0c0"/><rect x="130" y="497" width="3" height="33" fill="#c0c0c0"/><rect x="134" y="498" width="3" height="32" fill="#c0c0c0"/><rect x="138" y="500" width="3" height="30" fill="#c0c0c0"/><rect x="142" y="500" width="3" height="30" fill="#c0c0c0"/><rect x="146" y="498" width="3" height="32" fill="#c0c0c0"/><rect x="150" y="494" width="3" height="36" fill="#c0c0c0"/><rect x="154" y="493" width="3" height="37" fill="#c0c0c0"/><rect x="158" y="494" width="3" height="36" fill="#c0c0c0"/><rect x="162" y="492" width="3" height="38" fill="#c0c0c0"/><rect x="166" y="490" width="3" height="40" fill="#c0c0c0"/><rect x="170" y="489" width="3" height="41" fill="#c0c0c0"/><rect x="174" y="488" width="3" height="42" fill="#c0c0c0"/><rect x="178" y="489" width="3" height="41" fill="#c0c0c0"/><rect x="182" y="492" width="3" height="38" fill="#c0c0c0"/><rect x="186" y="494" width="3" height="36" fill="#c0c0c0"/><rect x="190" y="495" width="3" height="35" fill="#c0c0c0"/><rect x="194" y="495" width="3" height="35" fill="#c0c0c0"/><rect x="198" y="499" width="3" height="31" fill="#c0c0c0"/><rect x="202" y="501" width="3" height="29" fill="#c0c0c0"/><rect x="206" y="505" width="3" height="25" fill="#c0c0c0"/><rect x="210" y="507" width="3" height="23" fill="#c0c0c0"/><rect x="214" y="507" width="3" height="23" fill="#c0c0c0"/><rect x="218" y="507" width="3" height="23" fill="#c0c0c0"/><rect x="222" y="509" width="3" height="21" fill="#c0c0c0"/><rect x="226" y="510" width="3" height="20" fill="#c0c0c0"/><rect x="230" y="513" width="3" height="17" fill="#c0c0c0"/><rect x="234" y="513" width="3" height="17" fill="#c0c0c0"/><rect x="238" y="516" width="3" height="14" fill="#c0c0c0"/><rect x="242" y="519" width="3" height="11" fill="#c0c0c0"/><rect x="246" y="521" width="3" height="9" fill="#c0c0c0"/><rect x="250" y="524" width="3" height="6" fill="#c0c0c0"/><rect x="254" y="528" width="3" height="2" fill="#c0c0c0"/><rect x="258" y="530" width="3" height="2" fill="#c0c0c0"/><rect x="262" y="530" width="3" height="4" fill="#c0c0c0"/><rect x="266" y="530" width="3" height="7" fill="#c0c0c0"/><rect x="270" y="530" width="3" height="6" fill="#c0c0c0"/><rect x="274" y="530" width="3" height="5" fill="#c0c0c0"/><rect x="278" y="530" width="3" height="2" fill="#c0c0c0"/><rect x="282" y="529" width="3" height="1" fill="#c0c0c0"/><rect x="286" y="527" width="3" height="3" fill="#c0c0c0"/><rect x="290" y="524" width="3" height="6" fill="#c0c0c0"/><rect x="294" y="522" width="3" height="8" fill="#c0c0c0"/><rect x="298" y="520" width="3" height="10" fill="#c0c0c0"/><rect x="302" y="518" width="3" height="12" fill="#c0c0c0"/><rect x="306" y="517" width="3" height="13" fill="#c0c0c0"/><rect x="310" y="517" width="3" height="13" fill="#c0c0c0"/><rect x="314" y="518" width="3" height="12" fill="#c0c0c0"/><rect x="318" y="513" width="3" height="17" fill="#c0c0c0"/><rect x="322" y="510" width="3" height="20" fill="#c0c0c0"/><rect x="326" y="506" width="3" height="24" fill="#c0c0c0"/><rect x="330" y="503" width="3" height="27" fill="#c0c0c0"/><rect x="334" y="500" width="3" height="30" fill="#c0c0c0"/><rect x="338" y="497" width="3" height="33" fill="#c0c0c0"/><rect x="342" y="504" width="3" height="26" fill="#c0c0c0"/><rect x="346" y="511" width="3" height="19" fill="#c0c0c0"/><rect x="350" y="513" width="3" height="17" fill="#c0c0c0"/><rect x="354" y="514" width="3" height="16" fill="#c0c0c0"/><rect x="358" y="516" width="3" height="14" fill="#c0c0c0"/><rect x="362" y="517" width="3" height="13" fill="#c0c0c0"/><rect x="366" y="524" width="3" height="6" fill="#c0c0c0"/><rect x="370" y="528" width="3" height="2" fill="#c0c0c0"/><rect x="374" y="530" width="3" height="3" fill="#c0c0c0"/><rect x="378" y="530" width="3" height="5" fill="#c0c0c0"/><rect x="382" y="530" width="3" height="6" fill="#c0c0c0"/><rect x="386" y="530" width="3" height="4" fill="#c0c0c0"/><rect x="390" y="530" width="3" height="4" fill="#c0c0c0"/><rect x="394" y="530" width="3" height="3" fill="#c0c0c0"/><rect x="398" y="530" width="3" height="3" fill="#c0c0c0"/><rect x="402" y="530" width="3" height="3" fill="#c0c0c0"/><rect x="406" y="530" width="3" height="4" fill="#c0c0c0"/><rect x="410" y="530" width="3" height="2" fill="#c0c0c0"/><rect x="414" y="530" width="3" height="1" fill="#c0c0c0"/><rect x="418" y="530" width="3" height="1" fill="#c0c0c0"/><rect x="422" y="530" width="3" height="1" fill="#c0c0c0"/><rect x="426" y="530" width="3" height="4" fill="#c0c0c0"/><rect x="430" y="530" width="3" height="8" fill="#c0c0c0"/><rect x="434" y="530" width="3" height="14" fill="#c0c0c0"/><rect x="438" y="530" width="3" height="16" fill="#c0c0c0"/><rect x="442" y="530" width="3" height="17" fill="#c0c0c0"/><rect x="446" y="530" width="3" height="17" fill="#c0c0c0"/><rect x="450" y="530" width="3" height="19" fill="#c0c0c0"/><rect x="454" y="530" width="3" height="19" fill="#c0c0c0"/><rect x="458" y="530" width="3" height="20" fill="#c0c0c0"/><rect x="462" y="530" width="3" height="20" fill="#c0c0c0"/><rect x="466" y="530" width="3" height="20" fill="#c0c0c0"/><rect x="470" y="530" width="3" height="18" fill="#c0c0c0"/><rect x="474" y="530" width="3" height="15" fill="#c0c0c0"/><rect x="478" y="530" width="3" height="15" fill="#c0c0c0"/><rect x="482" y="530" width="3" height="14" fill="#c0c0c0"/><rect x="486" y="530" width="3" height="13" fill="#c0c0c0"/><rect x="490" y="530" width="3" height="13" fill="#c0c0c0"/><rect x="494" y="530" width="3" height="13" fill="#c0c0c0"/><rect x="498" y="530" width="3" height="12" fill="#c0c0c0"/><rect x="502" y="530" width="3" height="7" fill="#c0c0c0"/><rect x="506" y="530" width="3" height="2" fill="#c0c0c0"/><rect x="510" y="529" width="3" height="1" fill="#c0c0c0"/><rect x="514" y="527" width="3" height="3" fill="#c0c0c0"/><rect x="518" y="524" width="3" height="6" fill="#c0c0c0"/><rect x="522" y="523" width="3" height="7" fill="#c0c0c0"/><rect x="526" y="521" width="3" height="9" fill="#c0c0c0"/><rect x="530" y="521" width="3" height="9" fill="#c0c0c0"/><rect x="534" y="521" width="3" height="9" fill="#c0c0c0"/><rect x="538" y="520" width="3" height="10" fill="#c0c0c0"/><rect x="542" y="517" width="3" height="13" fill="#c0c0c0"/><rect x="546" y="516" width="3" height="14" fill="#c0c0c0"/><rect x="550" y="516" width="3" height="14" fill="#c0c0c0"/><rect x="554" y="517" width="3" height="13" fill="#c0c0c0"/><rect x="558" y="519" width="3" height="11" fill="#c0c0c0"/><rect x="562" y="521" width="3" height="9" fill="#c0c0c0"/><rect x="566" y="521" width="3" height="9" fill="#c0c0c0"/><rect x="570" y="524" width="3" height="6" fill="#c0c0c0"/><rect x="574" y="524" width="3" height="6" fill="#c0c0c0"/><rect x="578" y="523" width="3" height="7" fill="#c0c0c0"/><rect x="582" y="518" width="3" height="12" fill="#c0c0c0"/><rect x="586" y="515" width="3" height="15" fill="#c0c0c0"/><rect x="590" y="512" width="3" height="18" fill="#c0c0c0"/><rect x="594" y="511" width="3" height="19" fill="#c0c0c0"/><rect x="598" y="515" width="3" height="15" fill="#c0c0c0"/><rect x="602" y="519" width="3" height="11" fill="#c0c0c0"/><rect x="606" y="520" width="3" height="10" fill="#c0c0c0"/><rect x="610" y="520" width="3" height="10" fill="#c0c0c0"/><rect x="614" y="521" width="3" height="9" fill="#c0c0c0"/><rect x="618" y="522" width="3" height="8" fill="#c0c0c0"/><rect x="622" y="523" width="3" height="7" fill="#c0c0c0"/><rect x="626" y="524" width="3" height="6" fill="#c0c0c0"/><rect x="630" y="526" width="3" height="4" fill="#c0c0c0"/><rect x="634" y="528" width="3" height="2" fill="#c0c0c0"/><rect x="638" y="529" width="3" height="1" fill="#c0c0c0"/><rect x="642" y="530" width="3" height="0" fill="#c0c0c0"/><rect x="646" y="530" width="3" height="1" fill="#c0c0c0"/><rect x="650" y="530" width="3" height="1" fill="#c0c0c0"/><rect x="654" y="530" width="3" height="3" fill="#c0c0c0"/><rect x="658" y="530" width="3" height="4" fill="#c0c0c0"/><rect x="662" y="530" width="3" height="4" fill="#c0c0c0"/><rect x="666" y="530" width="3" height="2" fill="#c0c0c0"/><rect x="670" y="530" width="3" height="2" fill="#c0c0c0"/><rect x="674" y="530" width="3" height="6" fill="#c0c0c0"/><rect x="678" y="530" width="3" height="5" fill="#c0c0c0"/><rect x="682" y="530" width="3" height="4" fill="#c0c0c0"/><rect x="686" y="530" width="3" height="2" fill="#c0c0c0"/><rect x="690" y="530" width="3" height="2" fill="#c0c0c0"/><rect x="694" y="530" width="3" height="2" fill="#c0c0c0"/><rect x="698" y="530" width="3" height="1" fill="#c0c0c0"/><rect x="702" y="530" width="3" height="3" fill="#c0c0c0"/><rect x="706" y="530" width="3" height="4" fill="#c0c0c0"/><rect x="710" y="530" width="3" height="4" fill="#c0c0c0"/><rect x="714" y="530" width="3" height="6" fill="#c0c0c0"/><rect x="718" y="530" width="3" height="6" fill="#c0c0c0"/><rect x="722" y="530" width="3" height="12" fill="#c0c0c0"/><rect x="726" y="530" width="3" height="19" fill="#c0c0c0"/><rect x="730" y="530" width="3" height="25" fill="#c0c0c0"/><rect x="734" y="530" width="3" height="27" fill="#c0c0c0"/><rect x="738" y="530" width="3" height="29" fill="#c0c0c0"/><rect x="742" y="530" width="3" height="28" fill="#c0c0c0"/><rect x="746" y="530" width="3" height="27" fill="#c0c0c0"/><rect x="750" y="530" width="3" height="25" fill="#c0c0c0"/><rect x="754" y="530" width="3" height="24" fill="#c0c0c0"/><rect x="758" y="530" width="3" height="23" fill="#c0c0c0"/><rect x="762" y="530" width="3" height="24" fill="#c0c0c0"/><rect x="766" y="530" width="3" height="26" fill="#c0c0c0"/><rect x="770" y="530" width="3" height="28" fill="#c0c0c0"/><rect x="774" y="530" width="3" height="28" fill="#c0c0c0"/><rect x="778" y="530" width="3" height="27" fill="#c0c0c0"/><rect x="782" y="530" width="3" height="25" fill="#c0c0c0"/><rect x="786" y="530" width="3" height="25" fill="#c0c0c0"/><rect x="790" y="530" width="3" height="25" fill="#c0c0c0"/><rect x="794" y="530" width="3" height="27" fill="#c0c0c0"/><rect x="798" y="530" width="3" height="27" fill="#c0c0c0"/><rect x="802" y="530" width="3" height="25" fill="#c0c0c0"/><rect x="806" y="530" width="3" height="24" fill="#c0c0c0"/><rect x="810" y="530" width="3" height="24" fill="#c0c0c0"/><rect x="814" y="530" width="3" height="23" fill="#c0c0c0"/><rect x="818" y="530" width="3" height="24" fill="#c0c0c0"/><rect x="822" y="530" width="3" height="25" fill="#c0c0c0"/><rect x="826" y="530" width="3" height="26" fill="#c0c0c0"/><rect x="830" y="530" width="3" height="29" fill="#c0c0c0"/><rect x="834" y="530" width="3" height="32" fill="#c0c0c0"/><rect x="838" y="530" width="3" height="32" fill="#c0c0c0"/><rect x="842" y="530" width="3" height="32" fill="#c0c0c0"/><rect x="846" y="530" width="3" height="31" fill="#c0c0c0"/><rect x="850" y="530" width="3" height="30" fill="#c0c0c0"/><rect x="854" y="530" width="3" height="29" fill="#c0c0c0"/><rect x="858" y="530" width="3" height="27" fill="#c0c0c0"/><rect x="862" y="530" width="3" height="27" fill="#c0c0c0"/><rect x="866" y="530" width="3" height="24" fill="#c0c0c0"/><rect x="870" y="530" width="3" height="24" fill="#c0c0c0"/><rect x="874" y="530" width="3" height="24" fill="#c0c0c0"/><rect x="878" y="530" width="3" height="23" fill="#c0c0c0"/><rect x="882" y="530" width="3" height="21" fill="#c0c0c0"/><rect x="886" y="530" width="3" height="19" fill="#c0c0c0"/><rect x="890" y="530" width="3" height="16" fill="#c0c0c0"/><rect x="894" y="530" width="3" height="16" fill="#c0c0c0"/><rect x="898" y="530" width="3" height="16" fill="#c0c0c0"/><rect x="902" y="530" width="3" height="16" fill="#c0c0c0"/><rect x="906" y="530" width="3" height="16" fill="#c0c0c0"/><rect x="910" y="530" width="3" height="14" fill="#c0c0c0"/><rect x="914" y="530" width="3" height="14" fill="#c0c0c0"/><rect x="918" y="530" width="3" height="12" fill="#c0c0c0"/><rect x="922" y="530" width="3" height="11" fill="#c0c0c0"/><path d="M3 512h1v1h-1zM4 512h1v1h-1zM5 511h1v1h-1zM6 511h1v1h-1zM7 511h1v1h-1zM8 511h1v1h-1zM9 510h1v1h-1zM10 510h1v1h-1zM11 510h1v1h-1zM12 510h1v1h-1zM13 509h1v1h-1zM14 509h1v1h-1zM15 509h1v1h-1zM16 509h1v1h-1zM17 509h1v1h-1zM18 509h1v1h-1zM19 509h1v1h-1zM20 509h1v1h-1zM21 509h1v1h-1zM22 509h1v1h-1zM23 509h1v1h-1zM24 509h1v1h-1zM25 508h1v1h-1zM26 508h1v1h-1zM27 508h1v1h-1zM28 508h1v1h-1zM29 508h1v1h-1zM30 508h1v1h-1zM31 508h1v1h-1zM32 508h1v1h-1zM33 507h1v1h-1zM34 507h1v1h-1zM35 507h1v1h-1zM36 507h1v1h-1zM37 508h1v1h-1zM38 508h1v1h-1zM39 508h1v1h-1zM40 508h1v1h-1zM41 507h1v1h-1zM42 507h1v1h-1zM43 507h1v1h-1zM44 507h1v1h-1zM45 507h1v1h-1zM46 507h1v1h-1zM47 507h1v1h-1zM48 507h1v1h-1zM49 506h1v1h-1zM50 506h1v1h-1zM51 506h1v1h-1zM52 506h1v1h-1zM53 506h1v1h-1zM54 506h1v1h-1zM55 506h1v1h-1zM56 506h1v1h-1zM57 505h1v1h-1zM58 505h1v1h-1zM59 505h1v1h-1zM60 505h1v1h-1zM61 505h1v1h-1zM62 505h1v1h-1zM63 505h1v1h-1zM64 505h1v1h-1zM65 504h1v1h-1zM66 504h1v1h-1zM67 504h1v1h-1zM68 504h1v1h-1zM69 503h1v1h-1zM70 503h1v1h-1zM71 503h1v1h-1zM72 503h1v1h-1zM73 503h1v1h-1zM74 503h1v1h-1zM75 503h1v1h-1zM76 503h1v1h-1zM77 502h1v1h-1zM78 502h1v1h-1zM79 502h1v1h-1zM80 502h1v1h-1zM81 502h1v1h-1zM82 502h1v1h-1zM83 502h1v1h-1zM84 501h1v1h-1zM85 501h1v1h-1zM86 500h1v1h-1zM87 500h1v1h-1zM88 500h1v1h-1zM89 499h1v1h-1zM90 499h1v1h-1zM91 499h1v1h-1zM92 499h1v1h-1zM93 498h1v1h-1zM94 498h1v1h-1zM95 498h1v1h-1zM96 498h1v1h-1zM97 498h1v1h-1zM98 498h1v1h-1zM99 498h1v1h-1zM100 498h1v1h-1zM101 497h1v1h-1zM102 497h1v1h-1zM103 497h1v1h-1zM104 497h1v1h-1zM105 496h1v1h-1zM106 496h1v1h-1zM107 496h1v1h-1zM108 496h1v1h-1zM109 495h1v1h-1zM110 495h1v1h-1zM111 495h1v1h-1zM112 495h1v1h-1zM113 494h1v1h-1zM114 494h1v1h-1zM115 494h1v1h-1zM116 494h1v1h-1zM117 493h1v1h-1zM118 493h1v1h-1zM119 493h1v1h-1zM120 493h1v1h-1zM121 493h1v1h-1zM122 493h1v1h-1zM123 493h1v1h-1zM124 493h1v1h-1zM125 493h1v1h-1zM126 493h1v1h-1zM127 493h1v1h-1zM128 493h1v1h-1zM129 494h1v1h-1zM130 494h1v1h-1zM131 494h1v1h-1zM132 494h1v1h-1zM133 494h1v1h-1zM134 494h1v1h-1zM135 494h1v1h-1zM136 494h1v1h-1zM137 495h1v1h-1zM138 495h1v1h-1zM139 495h1v1h-1zM140 495h1v1h-1zM141 496h1v1h-1zM142 496h1v1h-1zM143 496h1v1h-1zM144 496h1v1h-1zM145 496h1v1h-1zM146 496h1v1h-1zM147 496h1v1h-1zM148 496h1v1h-1zM149 497h1v1h-1zM150 497h1v1h-1zM151 497h1v1h-1zM152 497h1v1h-1zM153 497h1v1h-1zM154 497h1v1h-1zM155 497h1v1h-1zM156 497h1v1h-1zM157 497h1v1h-1zM158 497h1v1h-1zM159 497h1v1h-1zM160 497h1v1h-1zM161 496h1v1h-1zM162 496h1v1h-1zM163 496h1v1h-1zM164 496h1v1h-1zM165 495h1v1h-1zM166 495h1v1h-1zM167 495h1v1h-1zM168 495h1v1h-1zM169 495h1v1h-1zM170 495h1v1h-1zM171 495h1v1h-1zM172 494h1v1h-1zM173 494h1v1h-1zM174 493h1v1h-1zM175 493h1v1h-1zM176 493h1v1h-1zM177 492h1v1h-1zM178 492h1v1h-1zM179 492h1v1h-1zM180 492h1v1h-1zM181 491h1v1h-1zM182 491h1v1h-1zM183 491h1v1h-1zM184 491h1v1h-1zM185 491h1v1h-1zM186 491h1v1h-1zM187 491h1v1h-1zM188 491h1v1h-1zM189 492h1v1h-1zM190 492h1v1h-1zM191 492h1v1h-1zM192 492h1v1h-1zM193 492h1v1h-1zM194 492h1v1h-1zM195 492h1v1h-1zM196 492h1v1h-1zM197 492h1v1h-1zM198 492h1v1h-1zM199 492h1v1h-1zM200 493h1v1h-1zM201 493h1v1h-1zM202 494h1v1h-1zM203 494h1v1h-1zM204 494h1v1h-1zM205 495h1v1h-1zM206 495h1v1h-1zM207 495h1v1h-1zM208 496h1v1h-1zM209 497h1v1h-1zM210 497h1v1h-1zM211 498h1v1h-1zM212 499h1v1h-1zM213 499h1v1h-1zM214 500h1v1h-1zM215 500h1v1h-1zM216 500h1v1h-1zM217 501h1v1h-1zM218 501h1v1h-1zM219 501h1v1h-1zM220 502h1v1h-1zM221 502h1v1h-1zM222 503h1v1h-1zM223 503h1v1h-1zM224 503h1v1h-1zM225 504h1v1h-1zM226 504h1v1h-1zM227 504h1v1h-1zM228 505h1v1h-1zM229 505h1v1h-1zM230 506h1v1h-1zM231 506h1v1h-1zM232 507h1v1h-1zM233 507h1v1h-1zM234 508h1v1h-1zM235 508h1v1h-1zM236 509h1v1h-1zM237 509h1v1h-1zM238 510h1v1h-1zM239 510h1v1h-1zM240 510h1v1h-1zM241 511h1v1h-1zM242 511h1v1h-1zM243 511h1v1h-1zM244 512h1v1h-1zM245 512h1v1h-1zM246 513h1v1h-1zM247 513h1v1h-1zM248 514h1v1h-1zM249 514h1v1h-1zM250 515h1v1h-1zM251 515h1v1h-1zM252 516h1v1h-1zM253 516h1v1h-1zM254 517h1v1h-1zM255 517h1v1h-1zM256 518h1v1h-1zM257 519h1v1h-1zM258 519h1v1h-1zM259 520h1v1h-1zM260 521h1v1h-1zM261 521h1v1h-1zM262 522h1v1h-1zM263 522h1v1h-1zM264 523h1v1h-1zM265 524h1v1h-1zM266 524h1v1h-1zM267 525h1v1h-1zM268 526h1v1h-1zM269 526h1v1h-1zM270 527h1v1h-1zM271 527h1v1h-1zM272 528h1v1h-1zM273 529h1v1h-1zM274 529h1v1h-1zM275 530h1v1h-1zM276 530h1v1h-1zM277 531h1v1h-1zM278 531h1v1h-1zM279 531h1v1h-1zM280 531h1v1h-1zM281 532h1v1h-1zM282 532h1v1h-1zM283 532h1v1h-1zM284 532h1v1h-1zM285 532h1v1h-1zM286 532h1v1h-1zM287 532h1v1h-1zM288 532h1v1h-1zM289 532h1v1h-1zM290 532h1v1h-1zM291 532h1v1h-1zM292 531h1v1h-1zM293 531h1v1h-1zM294 530h1v1h-1zM295 530h1v1h-1zM296 530h1v1h-1zM297 529h1v1h-1zM298 529h1v1h-1zM299 529h1v1h-1zM300 528h1v1h-1zM301 528h1v1h-1zM302 527h1v1h-1zM303 527h1v1h-1zM304 526h1v1h-1zM305 526h1v1h-1zM306 525h1v1h-1zM307 525h1v1h-1zM308 524h1v1h-1zM309 524h1v1h-1zM310 523h1v1h-1zM311 523h1v1h-1zM312 522h1v1h-1zM313 522h1v1h-1zM314 521h1v1h-1zM315 521h1v1h-1zM316 520h1v1h-1zM317 520h1v1h-1zM318 519h1v1h-1zM319 519h1v1h-1zM320 519h1v1h-1zM321 518h1v1h-1zM322 518h1v1h-1zM323 518h1v1h-1zM324 517h1v1h-1zM325 517h1v1h-1zM326 516h1v1h-1zM327 516h1v1h-1zM328 515h1v1h-1zM329 515h1v1h-1zM330 514h1v1h-1zM331 514h1v1h-1zM332 513h1v1h-1zM333 512h1v1h-1zM334 512h1v1h-1zM335 511h1v1h-1zM336 510h1v1h-1zM337 510h1v1h-1zM338 509h1v1h-1zM339 509h1v1h-1zM340 509h1v1h-1zM341 508h1v1h-1zM342 508h1v1h-1zM343 508h1v1h-1zM344 508h1v1h-1zM345 507h1v1h-1zM346 507h1v1h-1zM347 507h1v1h-1zM348 507h1v1h-1zM349 506h1v1h-1zM350 506h1v1h-1zM351 506h1v1h-1zM352 506h1v1h-1zM353 506h1v1h-1zM354 506h1v1h-1zM355 506h1v1h-1zM356 506h1v1h-1zM357 507h1v1h-1zM358 507h1v1h-1zM359 507h1v1h-1zM360 507h1v1h-1zM361 508h1v1h-1zM362 508h1v1h-1zM363 508h1v1h-1zM364 509h1v1h-1zM365 510h1v1h-1zM366 510h1v1h-1zM367 511h1v1h-1zM368 512h1v1h-1zM369 513h1v1h-1zM370 513h1v1h-1zM371 514h1v1h-1zM372 515h1v1h-1zM373 516h1v1h-1zM374 517h1v1h-1zM375 518h1v1h-1zM376 519h1v1h-1zM377 520h1v1h-1zM378 520h1v1h-1zM379 521h1v1h-1zM380 522h1v1h-1zM381 523h1v1h-1zM382 523h1v1h-1zM383 524h1v1h-1zM384 525h1v1h-1zM385 525h1v1h-1zM386 526h1v1h-1zM387 526h1v1h-1zM388 527h1v1h-1zM389 528h1v1h-1zM390 528h1v1h-1zM391 529h1v1h-1zM392 529h1v1h-1zM393 530h1v1h-1zM394 530h1v1h-1zM395 530h1v1h-1zM396 531h1v1h-1zM397 531h1v1h-1zM398 532h1v1h-1zM399 532h1v1h-1zM400 532h1v1h-1zM401 533h1v1h-1zM402 533h1v1h-1zM403 533h1v1h-1zM404 533h1v1h-1zM405 534h1v1h-1zM406 534h1v1h-1zM407 534h1v1h-1zM408 534h1v1h-1zM409 534h1v1h-1zM410 534h1v1h-1zM411 534h1v1h-1zM412 534h1v1h-1zM413 533h1v1h-1zM414 533h1v1h-1zM415 533h1v1h-1zM416 533h1v1h-1zM417 533h1v1h-1zM418 533h1v1h-1zM419 533h1v1h-1zM420 533h1v1h-1zM421 533h1v1h-1zM422 533h1v1h-1zM423 533h1v1h-1zM424 533h1v1h-1zM425 533h1v1h-1zM426 533h1v1h-1zM427 533h1v1h-1zM428 533h1v1h-1zM429 533h1v1h-1zM430 533h1v1h-1zM431 533h1v1h-1zM432 533h1v1h-1zM433 534h1v1h-1zM434 534h1v1h-1zM435 534h1v1h-1zM436 535h1v1h-1zM437 535h1v1h-1zM438 536h1v1h-1zM439 536h1v1h-1zM440 536h1v1h-1zM441 537h1v1h-1zM442 537h1v1h-1zM443 537h1v1h-1zM444 538h1v1h-1zM445 538h1v1h-1zM446 539h1v1h-1zM447 539h1v1h-1zM448 540h1v1h-1zM449 540h1v1h-1zM450 541h1v1h-1zM451 541h1v1h-1zM452 542h1v1h-1zM453 542h1v1h-1zM454 543h1v1h-1zM455 543h1v1h-1zM456 544h1v1h-1zM457 544h1v1h-1zM458 545h1v1h-1zM459 545h1v1h-1zM460 546h1v1h-1zM461 546h1v1h-1zM462 547h1v1h-1zM463 547h1v1h-1zM464 547h1v1h-1zM465 548h1v1h-1zM466 548h1v1h-1zM467 548h1v1h-1zM468 548h1v1h-1zM469 548h1v1h-1zM470 548h1v1h-1zM471 548h1v1h-1zM472 548h1v1h-1zM473 548h1v1h-1zM474 548h1v1h-1zM475 548h1v1h-1zM476 548h1v1h-1zM477 548h1v1h-1zM478 548h1v1h-1zM479 548h1v1h-1zM480 548h1v1h-1zM481 548h1v1h-1zM482 548h1v1h-1zM483 548h1v1h-1zM484 548h1v1h-1zM485 547h1v1h-1zM486 547h1v1h-1zM487 547h1v1h-1zM488 547h1v1h-1zM489 546h1v1h-1zM490 546h1v1h-1zM491 546h1v1h-1zM492 546h1v1h-1zM493 546h1v1h-1zM494 546h1v1h-1zM495 546h1v1h-1zM496 546h1v1h-1zM497 545h1v1h-1zM498 545h1v1h-1zM499 545h1v1h-1zM500 544h1v1h-1zM501 544h1v1h-1zM502 543h1v1h-1zM503 543h1v1h-1zM504 543h1v1h-1zM505 542h1v1h-1zM506 542h1v1h-1zM507 542h1v1h-1zM508 541h1v1h-1zM509 541h1v1h-1zM510 540h1v1h-1zM511 540h1v1h-1zM512 539h1v1h-1zM513 539h1v1h-1zM514 538h1v1h-1zM515 538h1v1h-1zM516 537h1v1h-1zM517 537h1v1h-1zM518 536h1v1h-1zM519 536h1v1h-1zM520 535h1v1h-1zM521 534h1v1h-1zM522 534h1v1h-1zM523 533h1v1h-1zM524 532h1v1h-1zM525 532h1v1h-1zM526 531h1v1h-1zM527 531h1v1h-1zM528 530h1v1h-1zM529 529h1v1h-1zM530 529h1v1h-1zM531 528h1v1h-1zM532 527h1v1h-1zM533 527h1v1h-1zM534 526h1v1h-1zM535 526h1v1h-1zM536 525h1v1h-1zM537 525h1v1h-1zM538 524h1v1h-1zM539 524h1v1h-1zM540 523h1v1h-1zM541 523h1v1h-1zM542 522h1v1h-1zM543 522h1v1h-1zM544 522h1v1h-1zM545 521h1v1h-1zM546 521h1v1h-1zM547 521h1v1h-1zM548 521h1v1h-1zM549 520h1v1h-1zM550 520h1v1h-1zM551 520h1v1h-1zM552 520h1v1h-1zM553 519h1v1h-1zM554 519h1v1h-1zM555 519h1v1h-1zM556 519h1v1h-1zM557 519h1v1h-1zM558 519h1v1h-1zM559 519h1v1h-1zM560 519h1v1h-1zM561 519h1v1h-1zM562 519h1v1h-1zM563 519h1v1h-1zM564 519h1v1h-1zM565 519h1v1h-1zM566 519h1v1h-1zM567 519h1v1h-1zM568 519h1v1h-1zM569 519h1v1h-1zM570 519h1v1h-1zM571 519h1v1h-1zM572 519h1v1h-1zM573 520h1v1h-1zM574 520h1v1h-1zM575 520h1v1h-1zM576 520h1v1h-1zM577 520h1v1h-1zM578 520h1v1h-1zM579 520h1v1h-1zM580 520h1v1h-1zM581 520h1v1h-1zM582 520h1v1h-1zM583 520h1v1h-1zM584 520h1v1h-1zM585 520h1v1h-1zM586 520h1v1h-1zM587 520h1v1h-1zM588 520h1v1h-1zM589 520h1v1h-1zM590 520h1v1h-1zM591 520h1v1h-1zM592 520h1v1h-1zM593 519h1v1h-1zM594 519h1v1h-1zM595 519h1v1h-1zM596 519h1v1h-1zM597 518h1v1h-1zM598 518h1v1h-1zM599 518h1v1h-1zM600 518h1v1h-1zM601 518h1v1h-1zM602 518h1v1h-1zM603 518h1v1h-1zM604 518h1v1h-1zM605 518h1v1h-1zM606 518h1v1h-1zM607 518h1v1h-1zM608 518h1v1h-1zM609 517h1v1h-1zM610 517h1v1h-1zM611 517h1v1h-1zM612 517h1v1h-1zM613 517h1v1h-1zM614 517h1v1h-1zM615 517h1v1h-1zM616 517h1v1h-1zM617 517h1v1h-1zM618 517h1v1h-1zM619 517h1v1h-1zM620 517h1v1h-1zM621 518h1v1h-1zM622 518h1v1h-1zM623 518h1v1h-1zM624 519h1v1h-1zM625 519h1v1h-1zM626 520h1v1h-1zM627 520h1v1h-1zM628 520h1v1h-1zM629 521h1v1h-1zM630 521h1v1h-1zM631 521h1v1h-1zM632 522h1v1h-1zM633 522h1v1h-1zM634 523h1v1h-1zM635 523h1v1h-1zM636 523h1v1h-1zM637 524h1v1h-1zM638 524h1v1h-1zM639 524h1v1h-1zM640 524h1v1h-1zM641 525h1v1h-1zM642 525h1v1h-1zM643 525h1v1h-1zM644 525h1v1h-1zM645 526h1v1h-1zM646 526h1v1h-1zM647 526h1v1h-1zM648 526h1v1h-1zM649 527h1v1h-1zM650 527h1v1h-1zM651 527h1v1h-1zM652 527h1v1h-1zM653 528h1v1h-1zM654 528h1v1h-1zM655 528h1v1h-1zM656 528h1v1h-1zM657 529h1v1h-1zM658 529h1v1h-1zM659 529h1v1h-1zM660 529h1v1h-1zM661 530h1v1h-1zM662 530h1v1h-1zM663 530h1v1h-1zM664 530h1v1h-1zM665 531h1v1h-1zM666 531h1v1h-1zM667 531h1v1h-1zM668 531h1v1h-1zM669 532h1v1h-1zM670 532h1v1h-1zM671 532h1v1h-1zM672 532h1v1h-1zM673 532h1v1h-1zM674 532h1v1h-1zM675 532h1v1h-1zM676 532h1v1h-1zM677 533h1v1h-1zM678 533h1v1h-1zM679 533h1v1h-1zM680 533h1v1h-1zM681 533h1v1h-1zM682 533h1v1h-1zM683 533h1v1h-1zM684 533h1v1h-1zM685 533h1v1h-1zM686 533h1v1h-1zM687 533h1v1h-1zM688 533h1v1h-1zM689 533h1v1h-1zM690 533h1v1h-1zM691 533h1v1h-1zM692 533h1v1h-1zM693 533h1v1h-1zM694 533h1v1h-1zM695 533h1v1h-1zM696 533h1v1h-1zM697 533h1v1h-1zM698 533h1v1h-1zM699 533h1v1h-1zM700 533h1v1h-1zM701 533h1v1h-1zM702 533h1v1h-1zM703 533h1v1h-1zM704 533h1v1h-1zM705 533h1v1h-1zM706 533h1v1h-1zM707 533h1v1h-1zM708 533h1v1h-1zM709 533h1v1h-1zM710 533h1v1h-1zM711 533h1v1h-1zM712 533h1v1h-1zM713 533h1v1h-1zM714 533h1v1h-1zM715 533h1v1h-1zM716 533h1v1h-1zM717 533h1v1h-1zM718 533h1v1h-1zM719 533h1v1h-1zM720 534h1v1h-1zM721 534h1v1h-1zM722 535h1v1h-1zM723 535h1v1h-1zM724 535h1v1h-1zM725 536h1v1h-1zM726 536h1v1h-1zM727 536h1v1h-1zM728 537h1v1h-1zM729 538h1v1h-1zM730 538h1v1h-1zM731 539h1v1h-1zM732 540h1v1h-1zM733 541h1v1h-1zM734 541h1v1h-1zM735 542h1v1h-1zM736 543h1v1h-1zM737 544h1v1h-1zM738 544h1v1h-1zM739 545h1v1h-1zM740 546h1v1h-1zM741 546h1v1h-1zM742 547h1v1h-1zM743 547h1v1h-1zM744 548h1v1h-1zM745 549h1v1h-1zM746 549h1v1h-1zM747 550h1v1h-1zM748 551h1v1h-1zM749 551h1v1h-1zM750 552h1v1h-1zM751 552h1v1h-1zM752 553h1v1h-1zM753 553h1v1h-1zM754 554h1v1h-1zM755 554h1v1h-1zM756 554h1v1h-1zM757 555h1v1h-1zM758 555h1v1h-1zM759 555h1v1h-1zM760 555h1v1h-1zM761 556h1v1h-1zM762 556h1v1h-1zM763 556h1v1h-1zM764 556h1v1h-1zM765 556h1v1h-1zM766 556h1v1h-1zM767 556h1v1h-1zM768 556h1v1h-1zM769 556h1v1h-1zM770 556h1v1h-1zM771 556h1v1h-1zM772 556h1v1h-1zM773 556h1v1h-1zM774 556h1v1h-1zM775 556h1v1h-1zM776 556h1v1h-1zM777 556h1v1h-1zM778 556h1v1h-1zM779 556h1v1h-1zM780 556h1v1h-1zM781 556h1v1h-1zM782 556h1v1h-1zM783 556h1v1h-1zM784 556h1v1h-1zM785 556h1v1h-1zM786 556h1v1h-1zM787 556h1v1h-1zM788 556h1v1h-1zM789 556h1v1h-1zM790 556h1v1h-1zM791 556h1v1h-1zM792 556h1v1h-1zM793 556h1v1h-1zM794 556h1v1h-1zM795 556h1v1h-1zM796 556h1v1h-1zM797 557h1v1h-1zM798 557h1v1h-1zM799 557h1v1h-1zM800 557h1v1h-1zM801 556h1v1h-1zM802 556h1v1h-1zM803 556h1v1h-1zM804 556h1v1h-1zM805 556h1v1h-1zM806 556h1v1h-1zM807 556h1v1h-1zM808 556h1v1h-1zM809 555h1v1h-1zM810 555h1v1h-1zM811 555h1v1h-1zM812 555h1v1h-1zM813 555h1v1h-1zM814 555h1v1h-1zM815 555h1v1h-1zM816 555h1v1h-1zM817 555h1v1h-1zM818 555h1v1h-1zM819 555h1v1h-1zM820 555h1v1h-1zM821 555h1v1h-1zM822 555h1v1h-1zM823 555h1v1h-1zM824 555h1v1h-1zM825 555h1v1h-1zM826 555h1v1h-1zM827 555h1v1h-1zM828 555h1v1h-1zM829 555h1v1h-1zM830 555h1v1h-1zM831 555h1v1h-1zM832 555h1v1h-1zM833 556h1v1h-1zM834 556h1v1h-1zM835 556h1v1h-1zM836 556h1v1h-1zM837 557h1v1h-1zM838 557h1v1h-1zM839 557h1v1h-1zM840 557h1v1h-1zM841 557h1v1h-1zM842 557h1v1h-1zM843 557h1v1h-1zM844 557h1v1h-1zM845 558h1v1h-1zM846 558h1v1h-1zM847 558h1v1h-1zM848 558h1v1h-1zM849 559h1v1h-1zM850 559h1v1h-1zM851 559h1v1h-1zM852 559h1v1h-1zM853 560h1v1h-1zM854 560h1v1h-1zM855 560h1v1h-1zM856 560h1v1h-1zM857 560h1v1h-1zM858 560h1v1h-1zM859 560h1v1h-1zM860 560h1v1h-1zM861 560h1v1h-1zM862 560h1v1h-1zM863 560h1v1h-1zM864 560h1v1h-1zM865 560h1v1h-1zM866 560h1v1h-1zM867 560h1v1h-1zM868 560h1v1h-1zM869 559h1v1h-1zM870 559h1v1h-1zM871 559h1v1h-1zM872 559h1v1h-1zM873 558h1v1h-1zM874 558h1v1h-1zM875 558h1v1h-1zM876 558h1v1h-1zM877 557h1v1h-1zM878 557h1v1h-1zM879 557h1v1h-1zM880 557h1v1h-1zM881 556h1v1h-1zM882 556h1v1h-1zM883 556h1v1h-1zM884 555h1v1h-1zM885 555h1v1h-1zM886 554h1v1h-1zM887 554h1v1h-1zM888 554h1v1h-1zM889 553h1v1h-1zM890 553h1v1h-1zM891 553h1v1h-1zM892 553h1v1h-1zM893 552h1v1h-1zM894 552h1v1h-1zM895 552h1v1h-1zM896 551h1v1h-1zM897 551h1v1h-1zM898 550h1v1h-1zM899 550h1v1h-1zM900 550h1v1h-1zM901 549h1v1h-1zM902 549h1v1h-1zM903 549h1v1h-1zM904 549h1v1h-1zM905 548h1v1h-1zM906 548h1v1h-1zM907 548h1v1h-1zM908 548h1v1h-1zM909 547h1v1h-1zM910 547h1v1h-1zM911 547h1v1h-1zM912 547h1v1h-1zM913 546h1v1h-1zM914 546h1v1h-1zM915 546h1v1h-1zM916 546h1v1h-1zM917 545h1v1h-1zM918 545h1v1h-1zM919 545h1v1h-1zM920 545h1v1h-1zM921 544h1v1h-1zM922 544h1v1h-1zM923 544h1v1h-1z" fill="#ff0000"/></g><g clip-path="url(#crsi)"><line x1="4" y1="596.5" x2="1165" y2="596.5" stroke="#c0c0c0" stroke-width="1" stroke-dasharray="3,3"/><line x1="4" y1="630.5" x2="1165" y2="630.5" stroke="#c0c0c0" stroke-width="1" stroke-dasharray="3,3"/><path d="M3 601h1v1h-1zM4 600h1v1h-1zM5 600h1v1h-1zM6 599h1v1h-1zM7 599h1v1h-1zM8 600h1v2h-1zM9 602h1v2h-1zM10 604h1v2h-1zM11 606h1v2h-1zM12 606h1v1h-1zM13 605h1v1h-1zM14 604h1v1h-1zM15 603h1v1h-1zM16 603h1v1h-1zM17 603h1v1h-1zM18 603h1v1h-1zM19 603h1v1h-1zM20 604h1v1h-1zM21 605h1v2h-1zM22 607h1v1h-1zM23 608h1v1h-1zM24 606h1v2h-1zM25 605h1v1h-1zM26 603h1v2h-1zM27 602h1v1h-1zM28 602h1v1h-1zM29 602h1v1h-1zM30 602h1v1h-1zM31 602h1v1h-1zM32 602h1v1h-1zM33 601h1v1h-1zM34 601h1v1h-1zM35 601h1v1h-1zM36 600h1v1h-1zM37 599h1v1h-1zM38 599h1v1h-1zM39 598h1v1h-1zM40 599h1v1h-1zM41 599h1v1h-1zM42 600h1v1h-1zM43 600h1v1h-1zM44 601h1v1h-1zM45 601h1v1h-1zM46 602h1v1h-1zM47 602h1v1h-1zM48 603h1v1h-1zM49 604h1v1h-1zM50 604h1v1h-1zM51 605h1v1h-1zM52 604h1v1h-1zM53 603h1v1h-1zM54 603h1v1h-1zM55 602h1v1h-1zM56 601h1v1h-1zM57 599h1v2h-1zM58 598h1v1h-1zM59 597h1v1h-1zM60 598h1v1h-1zM61 598h1v1h-1zM62 599h1v1h-1zM63 599h1v1h-1zM64 599h1v1h-1zM65 599h1v1h-1zM66 599h1v1h-1zM67 599h1v1h-1zM68 599h1v1h-1zM69 598h1v1h-1zM70 598h1v1h-1zM71 598h1v1h-1zM72 599h1v1h-1zM73 600h1v2h-1zM74 602h1v1h-1zM75 603h1v1h-1zM76 602h1v1h-1zM77 601h1v1h-1zM78 600h1v1h-1zM79 599h1v1h-1zM80 598h1v1h-1zM81 597h1v1h-1zM82 596h1v1h-1zM83 595h1v1h-1zM84 595h1v1h-1zM85 594h1v1h-1zM86 594h1v1h-1zM87 594h1v1h-1zM88 594h1v1h-1zM89 594h1v1h-1zM90 594h1v1h-1zM91 594h1v1h-1zM92 594h1v1h-1zM93 594h1v1h-1zM94 594h1v1h-1zM95 594h1v1h-1zM96 594h1v1h-1zM97 594h1v1h-1zM98 594h1v1h-1zM99 594h1v1h-1zM100 593h1v1h-1zM101 593h1v1h-1zM102 592h1v1h-1zM103 592h1v1h-1zM104 591h1v1h-1zM105 590h1v1h-1zM106 590h1v1h-1zM107 589h1v1h-1zM108 590h1v1h-1zM109 590h1v1h-1zM110 591h1v1h-1zM111 591h1v1h-1zM112 591h1v1h-1zM113 591h1v1h-1zM114 591h1v1h-1zM115 591h1v2h-1zM116 593h1v2h-1zM117 595h1v3h-1zM118 598h1v2h-1zM119 600h1v2h-1zM120 602h1v2h-1zM121 604h1v1h-1zM122 605h1v2h-1zM123 607h1v1h-1zM124 606h1v1h-1zM125 604h1v2h-1zM126 603h1v1h-1zM127 602h1v1h-1zM128 601h1v1h-1zM129 601h1v1h-1zM130 600h1v1h-1zM131 600h1v1h-1zM132 600h1v1h-1zM133 601h1v1h-1zM134 601h1v1h-1zM135 601h1v1h-1zM136 602h1v1h-1zM137 603h1v1h-1zM138 604h1v1h-1zM139 605h1v1h-1zM140 604h1v1h-1zM141 603h1v1h-1zM142 602h1v1h-1zM143 601h1v1h-1zM144 600h1v1h-1zM145 598h1v2h-1zM146 597h1v1h-1zM147 596h1v1h-1zM148 595h1v1h-1zM149 595h1v1h-1zM150 594h1v1h-1zM151 594h1v1h-1zM152 595h1v1h-1zM153 596h1v1h-1zM154 597h1v1h-1zM155 598h1v1h-1zM156 598h1v1h-1zM157 599h1v1h-1zM158 599h1v1h-1zM159 599h1v1h-1zM160 598h1v1h-1zM161 597h1v1h-1zM162 597h1v1h-1zM163 596h1v1h-1zM164 595h1v1h-1zM165 595h1v1h-1zM166 594h1v1h-1zM167 594h1v1h-1zM168 595h1v1h-1zM169 596h1v1h-1zM170 596h1v1h-1zM171 597h1v1h-1zM172 596h1v1h-1zM173 596h1v1h-1zM174 595h1v1h-1zM175 595h1v1h-1zM176 596h1v1h-1zM177 597h1v2h-1zM178 599h1v1h-1zM179 600h1v1h-1zM180 601h1v2h-1zM181 603h1v2h-1zM182 605h1v2h-1zM183 607h1v1h-1zM184 606h1v1h-1zM185 605h1v1h-1zM186 605h1v1h-1zM187 604h1v1h-1zM188 604h1v1h-1zM189 603h1v1h-1zM190 603h1v1h-1zM191 603h1v1h-1zM192 602h1v1h-1zM193 602h1v1h-1zM194 601h1v1h-1zM195 601h1v1h-1zM196 602h1v2h-1zM197 604h1v2h-1zM198 606h1v2h-1zM199 608h1v2h-1zM200 609h1v1h-1zM201 608h1v1h-1zM202 608h1v1h-1zM203 608h1v1h-1zM204 609h1v1h-1zM205 610h1v1h-1zM206 610h1v1h-1zM207 611h1v1h-1zM208 610h1v1h-1zM209 610h1v1h-1zM210 609h1v1h-1zM211 609h1v1h-1zM212 608h1v1h-1zM213 607h1v1h-1zM214 606h1v1h-1zM215 605h1v1h-1zM216 605h1v1h-1zM217 604h1v1h-1zM218 604h1v1h-1zM219 604h1v1h-1zM220 605h1v1h-1zM221 606h1v2h-1zM222 608h1v1h-1zM223 609h1v1h-1zM224 609h1v1h-1zM225 609h1v1h-1zM226 609h1v1h-1zM227 609h1v1h-1zM228 610h1v1h-1zM229 610h1v1h-1zM230 611h1v1h-1zM231 611h1v1h-1zM232 610h1v1h-1zM233 609h1v1h-1zM234 608h1v1h-1zM235 607h1v1h-1zM236 608h1v2h-1zM237 610h1v1h-1zM238 611h1v2h-1zM239 613h1v1h-1zM240 614h1v1h-1zM241 614h1v1h-1zM242 615h1v1h-1zM243 615h1v1h-1zM244 615h1v1h-1zM245 615h1v1h-1zM246 615h1v1h-1zM247 615h1v1h-1zM248 616h1v1h-1zM249 617h1v1h-1zM250 617h1v1h-1zM251 618h1v1h-1zM252 619h1v1h-1zM253 619h1v1h-1zM254 620h1v1h-1zM255 620h1v1h-1zM256 621h1v1h-1zM257 622h1v1h-1zM258 622h1v1h-1zM259 623h1v1h-1zM260 622h1v1h-1zM261 621h1v1h-1zM262 620h1v1h-1zM263 619h1v1h-1zM264 619h1v1h-1zM265 620h1v1h-1zM266 620h1v1h-1zM267 620h1v1h-1zM268 618h1v2h-1zM269 616h1v2h-1zM270 614h1v2h-1zM271 613h1v1h-1zM272 613h1v1h-1zM273 613h1v1h-1zM274 613h1v1h-1zM275 613h1v1h-1zM276 612h1v1h-1zM277 611h1v1h-1zM278 610h1v1h-1zM279 609h1v1h-1zM280 608h1v1h-1zM281 608h1v1h-1zM282 607h1v1h-1zM283 607h1v1h-1zM284 607h1v1h-1zM285 606h1v1h-1zM286 606h1v1h-1zM287 606h1v1h-1zM288 605h1v1h-1zM289 605h1v1h-1zM290 604h1v1h-1zM291 604h1v1h-1zM292 604h1v1h-1zM293 605h1v1h-1zM294 605h1v1h-1zM295 605h1v1h-1zM296 605h1v1h-1zM297 605h1v1h-1zM298 605h1v1h-1zM299 605h1v1h-1zM300 604h1v1h-1zM301 603h1v1h-1zM302 603h1v1h-1zM303 602h1v1h-1zM304 603h1v1h-1zM305 603h1v1h-1zM306 604h1v1h-1zM307 604h1v1h-1zM308 605h1v2h-1zM309 607h1v1h-1zM310 608h1v2h-1zM311 610h1v1h-1zM312 610h1v1h-1zM313 609h1v1h-1zM314 609h1v1h-1zM315 608h1v2h-1zM316 605h1v3h-1zM317 603h1v2h-1zM318 600h1v3h-1zM319 598h1v2h-1zM320 598h1v1h-1zM321 598h1v1h-1zM322 598h1v1h-1zM323 598h1v1h-1zM324 597h1v1h-1zM325 597h1v1h-1zM326 596h1v1h-1zM327 596h1v1h-1zM328 596h1v1h-1zM329 595h1v1h-1zM330 595h1v1h-1zM331 595h1v1h-1zM332 595h1v1h-1zM333 595h1v1h-1zM334 595h1v1h-1zM335 595h1v1h-1zM336 594h1v1h-1zM337 593h1v1h-1zM338 593h1v1h-1zM339 592h1v3h-1zM340 595h1v6h-1zM341 601h1v6h-1zM342 607h1v6h-1zM343 613h1v4h-1zM344 617h1v1h-1zM345 618h1v1h-1zM346 618h1v1h-1zM347 619h1v1h-1zM348 617h1v2h-1zM349 616h1v1h-1zM350 614h1v2h-1zM351 613h1v1h-1zM352 612h1v1h-1zM353 611h1v1h-1zM354 611h1v1h-1zM355 610h1v1h-1zM356 611h1v1h-1zM357 611h1v1h-1zM358 612h1v1h-1zM359 612h1v1h-1zM360 612h1v1h-1zM361 611h1v1h-1zM362 611h1v1h-1zM363 611h1v2h-1zM364 613h1v2h-1zM365 615h1v3h-1zM366 618h1v2h-1zM367 620h1v2h-1zM368 620h1v1h-1zM369 620h1v1h-1zM370 619h1v1h-1zM371 619h1v1h-1zM372 619h1v1h-1zM373 620h1v1h-1zM374 620h1v1h-1zM375 620h1v1h-1zM376 619h1v1h-1zM377 619h1v1h-1zM378 618h1v1h-1zM379 618h1v1h-1zM380 618h1v1h-1zM381 617h1v1h-1zM382 617h1v1h-1zM383 617h1v1h-1zM384 616h1v1h-1zM385 614h1v2h-1zM386 613h1v1h-1zM387 612h1v1h-1zM388 613h1v1h-1zM389 613h1v1h-1zM390 614h1v1h-1zM391 614h1v1h-1zM392 614h1v1h-1zM393 613h1v1h-1zM394 613h1v1h-1zM395 613h1v1h-1zM396 614h1v1h-1zM397 614h1v1h-1zM398 615h1v1h-1zM399 615h1v1h-1zM400 615h1v1h-1zM401 614h1v1h-1zM402 614h1v1h-1zM403 614h1v1h-1zM404 615h1v1h-1zM405 616h1v1h-1zM406 616h1v1h-1zM407 617h1v1h-1zM408 615h1v2h-1zM409 613h1v2h-1zM410 611h1v2h-1zM411 610h1v1h-1zM412 611h1v1h-1zM413 612h1v1h-1zM414 612h1v1h-1zM415 613h1v1h-1zM416 613h1v1h-1zM417 613h1v1h-1zM418 613h1v1h-1zM419 613h1v1h-1zM420 613h1v1h-1zM421 613h1v1h-1zM422 613h1v1h-1zM423 613h1v1h-1zM424 614h1v2h-1zM425 616h1v1h-1zM426 617h1v2h-1zM427 619h1v1h-1zM428 620h1v1h-1zM429 621h1v1h-1zM430 622h1v1h-1zM431 623h1v1h-1zM432 624h1v1h-1zM433 625h1v1h-1zM434 625h1v1h-1zM435 626h1v1h-1zM436 625h1v1h-1zM437 623h1v2h-1zM438 622h1v1h-1zM439 621h1v1h-1zM440 621h1v1h-1zM441 621h1v1h-1zM442 621h1v1h-1zM443 621h1v1h-1zM444 620h1v1h-1zM445 620h1v1h-1zM446 619h1v1h-1zM447 619h1v1h-1zM448 620h1v1h-1zM449 620h1v1h-1zM450 621h1v1h-1zM451 621h1v1h-1zM452 621h1v1h-1zM453 621h1v1h-1zM454 621h1v1h-1zM455 621h1v1h-1zM456 621h1v1h-1zM457 622h1v1h-1zM458 622h1v1h-1zM459 622h1v1h-1zM460 621h1v1h-1zM461 621h1v1h-1zM462 620h1v1h-1zM463 620h1v1h-1zM464 621h1v1h-1zM465 621h1v1h-1zM466 622h1v1h-1zM467 622h1v1h-1zM468 620h1v2h-1zM469 618h1v2h-1zM470 616h1v2h-1zM471 615h1v1h-1zM472 615h1v1h-1zM473 615h1v1h-1zM474 615h1v1h-1zM475 615h1v1h-1zM476 616h1v1h-1zM477 617h1v1h-1zM478 617h1v1h-1zM479 618h1v1h-1zM480 618h1v1h-1zM481 617h1v1h-1zM482 617h1v1h-1zM483 617h1v1h-1zM484 617h1v1h-1zM485 618h1v1h-1zM486 618h1v1h-1zM487 618h1v1h-1zM488 618h1v1h-1zM489 618h1v1h-1zM490 618h1v1h-1zM491 618h1v1h-1zM492 618h1v1h-1zM493 618h1v1h-1zM494 618h1v1h-1zM495 618h1v1h-1zM496 618h1v1h-1zM497 617h1v1h-1zM498 617h1v1h-1zM499 616h1v2h-1zM500 613h1v3h-1zM501 611h1v2h-1zM502 608h1v3h-1zM503 606h1v2h-1zM504 605h1v1h-1zM505 605h1v1h-1zM506 604h1v1h-1zM507 604h1v1h-1zM508 605h1v1h-1zM509 605h1v1h-1zM510 606h1v1h-1zM511 606h1v1h-1zM512 606h1v1h-1zM513 606h1v1h-1zM514 606h1v1h-1zM515 606h1v1h-1zM516 605h1v1h-1zM517 605h1v1h-1zM518 604h1v1h-1zM519 604h1v1h-1zM520 605h1v1h-1zM521 605h1v1h-1zM522 606h1v1h-1zM523 606h1v1h-1zM524 606h1v1h-1zM525 605h1v1h-1zM526 605h1v1h-1zM527 605h1v1h-1zM528 606h1v1h-1zM529 607h1v2h-1zM530 609h1v1h-1zM531 610h1v1h-1zM532 609h1v1h-1zM533 609h1v1h-1zM534 608h1v1h-1zM535 608h1v1h-1zM536 607h1v1h-1zM537 607h1v1h-1zM538 606h1v1h-1zM539 606h1v1h-1zM540 605h1v1h-1zM541 603h1v2h-1zM542 602h1v1h-1zM543 601h1v1h-1zM544 602h1v1h-1zM545 603h1v2h-1zM546 605h1v1h-1zM547 606h1v1h-1zM548 606h1v1h-1zM549 606h1v1h-1zM550 606h1v1h-1zM551 606h1v1h-1zM552 607h1v1h-1zM553 607h1v1h-1zM554 608h1v1h-1zM555 608h1v1h-1zM556 609h1v2h-1zM557 611h1v1h-1zM558 612h1v2h-1zM559 614h1v1h-1zM560 615h1v1h-1zM561 615h1v1h-1zM562 616h1v1h-1zM563 616h1v1h-1zM564 614h1v2h-1zM565 612h1v2h-1zM566 610h1v2h-1zM567 609h1v1h-1zM568 610h1v2h-1zM569 612h1v2h-1zM570 614h1v2h-1zM571 616h1v2h-1zM572 615h1v2h-1zM573 613h1v2h-1zM574 611h1v2h-1zM575 610h1v1h-1zM576 610h1v1h-1zM577 609h1v1h-1zM578 609h1v1h-1zM579 609h1v1h-1zM580 607h1v2h-1zM581 605h1v2h-1zM582 603h1v2h-1zM583 601h1v2h-1zM584 602h1v1h-1zM585 602h1v1h-1zM586 603h1v1h-1zM587 603h1v1h-1zM588 602h1v1h-1zM589 602h1v1h-1zM590 601h1v1h-1zM591 601h1v1h-1zM592 602h1v1h-1zM593 603h1v1h-1zM594 604h1v1h-1zM595 605h1v2h-1zM596 607h1v2h-1zM597 609h1v3h-1zM598 612h1v2h-1zM599 614h1v2h-1zM600 615h1v1h-1zM601 616h1v1h-1zM602 616h1v1h-1zM603 616h1v1h-1zM604 615h1v1h-1zM605 613h1v2h-1zM606 612h1v1h-1zM607 611h1v1h-1zM608 611h1v1h-1zM609 611h1v1h-1zM610 611h1v1h-1zM611 611h1v1h-1zM612 612h1v1h-1zM613 612h1v1h-1zM614 613h1v1h-1zM615 613h1v1h-1zM616 612h1v1h-1zM617 612h1v1h-1zM618 611h1v1h-1zM619 611h1v1h-1zM620 612h1v1h-1zM621 613h1v1h-1zM622 613h1v1h-1zM623 614h1v1h-1zM624 613h1v1h-1zM625 613h1v1h-1zM626 612h1v1h-1zM627 612h1v1h-1zM628 613h1v1h-1zM629 614h1v1h-1zM630 615h1v1h-1zM631 616h1v1h-1zM632 616h1v1h-1zM633 616h1v1h-1zM634 616h1v1h-1zM635 616h1v1h-1zM636 616h1v1h-1zM637 615h1v1h-1zM638 615h1v1h-1zM639 615h1v1h-1zM640 615h1v1h-1zM641 615h1v1h-1zM642 615h1v1h-1zM643 615h1v1h-1zM644 615h1v1h-1zM645 615h1v1h-1zM646 615h1v1h-1zM647 615h1v1h-1zM648 615h1v1h-1zM649 616h1v1h-1zM650 616h1v1h-1zM651 616h1v1h-1zM652 617h1v1h-1zM653 618h1v1h-1zM654 618h1v1h-1zM655 619h1v1h-1zM656 619h1v1h-1zM657 619h1v1h-1zM658 619h1v1h-1zM659 619h1v1h-1zM660 618h1v1h-1zM661 616h1v2h-1zM662 615h1v1h-1zM663 614h1v1h-1zM664 613h1v1h-1zM665 612h1v1h-1zM666 612h1v1h-1zM667 611h1v1h-1zM668 612h1v1h-1zM669 612h1v1h-1zM670 613h1v1h-1zM671 613h1v2h-1zM672 615h1v3h-1zM673 618h1v2h-1zM674 620h1v3h-1zM675 623h1v2h-1zM676 620h1v3h-1zM677 618h1v2h-1zM678 615h1v3h-1zM679 613h1v2h-1zM680 613h1v1h-1zM681 613h1v1h-1zM682 613h1v1h-1zM683 613h1v1h-1zM684 612h1v1h-1zM685 612h1v1h-1zM686 611h1v1h-1zM687 611h1v1h-1zM688 612h1v1h-1zM689 613h1v1h-1zM690 613h1v1h-1zM691 614h1v1h-1zM692 614h1v1h-1zM693 615h1v1h-1zM694 615h1v1h-1zM695 615h1v1h-1zM696 614h1v1h-1zM697 613h1v1h-1zM698 613h1v1h-1zM699 612h1v1h-1zM700 613h1v2h-1zM701 615h1v1h-1zM702 616h1v2h-1zM703 618h1v1h-1zM704 618h1v1h-1zM705 617h1v1h-1zM706 617h1v1h-1zM707 617h1v1h-1zM708 616h1v1h-1zM709 616h1v1h-1zM710 615h1v1h-1zM711 615h1v1h-1zM712 616h1v1h-1zM713 617h1v2h-1zM714 619h1v1h-1zM715 620h1v1h-1zM716 619h1v1h-1zM717 617h1v2h-1zM718 616h1v1h-1zM719 615h1v2h-1zM720 617h1v3h-1zM721 620h1v3h-1zM722 623h1v3h-1zM723 626h1v2h-1zM724 628h1v1h-1zM725 629h1v1h-1zM726 629h1v1h-1zM727 630h1v1h-1zM728 630h1v1h-1zM729 630h1v1h-1zM730 630h1v1h-1zM731 630h1v1h-1zM732 629h1v1h-1zM733 628h1v1h-1zM734 628h1v1h-1zM735 627h1v1h-1zM736 627h1v1h-1zM737 627h1v1h-1zM738 627h1v1h-1zM739 627h1v1h-1zM740 625h1v2h-1zM741 623h1v2h-1zM742 621h1v2h-1zM743 620h1v1h-1zM744 620h1v1h-1zM745 621h1v1h-1zM746 621h1v1h-1zM747 621h1v1h-1zM748 620h1v1h-1zM749 620h1v1h-1zM750 619h1v1h-1zM751 619h1v1h-1zM752 619h1v1h-1zM753 619h1v1h-1zM754 619h1v1h-1zM755 619h1v1h-1zM756 620h1v1h-1zM757 620h1v1h-1zM758 621h1v1h-1zM759 621h1v1h-1zM760 622h1v1h-1zM761 623h1v1h-1zM762 624h1v1h-1zM763 625h1v1h-1zM764 625h1v1h-1zM765 626h1v1h-1zM766 626h1v1h-1zM767 626h1v1h-1zM768 627h1v1h-1zM769 627h1v1h-1zM770 628h1v1h-1zM771 628h1v1h-1zM772 627h1v1h-1zM773 626h1v1h-1zM774 625h1v1h-1zM775 624h1v1h-1zM776 623h1v1h-1zM777 622h1v1h-1zM778 621h1v1h-1zM779 620h1v1h-1zM780 620h1v1h-1zM781 620h1v1h-1zM782 620h1v1h-1zM783 620h1v1h-1zM784 621h1v1h-1zM785 622h1v1h-1zM786 622h1v1h-1zM787 623h1v1h-1zM788 623h1v1h-1zM789 624h1v1h-1zM790 624h1v1h-1zM791 624h1v1h-1zM792 625h1v1h-1zM793 626h1v1h-1zM794 627h1v1h-1zM795 628h1v1h-1zM796 626h1v2h-1zM797 625h1v1h-1zM798 623h1v2h-1zM799 622h1v1h-1zM800 622h1v1h-1zM801 621h1v1h-1zM802 621h1v1h-1zM803 621h1v1h-1zM804 621h1v1h-1zM805 621h1v1h-1zM806 621h1v1h-1zM807 621h1v1h-1zM808 622h1v1h-1zM809 622h1v1h-1zM810 623h1v1h-1zM811 623h1v1h-1zM812 623h1v1h-1zM813 623h1v1h-1zM814 623h1v1h-1zM815 623h1v1h-1zM816 624h1v1h-1zM817 625h1v1h-1zM818 625h1v1h-1zM819 626h1v1h-1zM820 627h1v1h-1zM821 627h1v1h-1zM822 628h1v1h-1zM823 628h1v1h-1zM824 628h1v1h-1zM825 629h1v1h-1zM826 629h1v1h-1zM827 629h1v1h-1zM828 630h1v1h-1zM829 631h1v1h-1zM830 632h1v1h-1zM831 633h1v1h-1zM832 633h1v1h-1zM833 634h1v1h-1zM834 634h1v1h-1zM835 634h1v1h-1zM836 632h1v2h-1zM837 631h1v1h-1zM838 629h1v2h-1zM839 628h1v1h-1zM840 628h1v1h-1zM841 627h1v1h-1zM842 627h1v1h-1zM843 627h1v1h-1zM844 627h1v1h-1zM845 628h1v1h-1zM846 628h1v1h-1zM847 628h1v1h-1zM848 628h1v1h-1zM849 627h1v1h-1zM850 627h1v1h-1zM851 627h1v1h-1zM852 626h1v1h-1zM853 625h1v1h-1zM854 624h1v1h-1zM855 623h1v1h-1zM856 624h1v1h-1zM857 624h1v1h-1zM858 625h1v1h-1zM859 625h1v1h-1zM860 626h1v1h-1zM861 626h1v1h-1zM862 627h1v1h-1zM863 626h1v2h-1zM864 624h1v2h-1zM865 622h1v2h-1zM866 620h1v2h-1zM867 618h1v2h-1zM868 619h1v2h-1zM869 621h1v1h-1zM870 622h1v2h-1zM871 624h1v1h-1zM872 624h1v1h-1zM873 625h1v1h-1zM874 625h1v1h-1zM875 625h1v1h-1zM876 624h1v1h-1zM877 622h1v2h-1zM878 621h1v1h-1zM879 620h1v1h-1zM880 619h1v1h-1zM881 619h1v1h-1zM882 618h1v1h-1zM883 618h1v1h-1zM884 618h1v1h-1zM885 618h1v1h-1zM886 618h1v1h-1zM887 618h1v1h-1zM888 617h1v1h-1zM889 616h1v1h-1zM890 615h1v1h-1zM891 614h1v1h-1zM892 615h1v2h-1zM893 617h1v1h-1zM894 618h1v2h-1zM895 620h1v1h-1zM896 620h1v1h-1zM897 621h1v1h-1zM898 621h1v1h-1zM899 621h1v1h-1zM900 621h1v1h-1zM901 622h1v1h-1zM902 622h1v1h-1zM903 622h1v1h-1zM904 622h1v1h-1zM905 621h1v1h-1zM906 621h1v1h-1zM907 621h1v1h-1zM908 620h1v1h-1zM909 618h1v2h-1zM910 617h1v1h-1zM911 616h1v1h-1zM912 617h1v1h-1zM913 618h1v1h-1zM914 619h1v1h-1zM915 620h1v1h-1zM916 619h1v1h-1zM917 617h1v2h-1zM918 616h1v1h-1zM919 615h1v1h-1zM920 615h1v1h-1zM921 616h1v1h-1zM922 616h1v1h-1zM923 616h1v1h-1z" fill="#1e90ff"/></g>
<text x="7.75" y="495.7" font-size="9.8" fill="#000" font-family="'Liberation Sans', Arial, sans-serif" textLength="153" lengthAdjust="spacingAndGlyphs" stroke="#000" stroke-width="0.2">MACD(12,26,9) -0.002120 -0.002801</text><text x="7.46" y="581.8" font-size="9.8" fill="#000" font-family="'Liberation Sans', Arial, sans-serif" textLength="67.2" lengthAdjust="spacingAndGlyphs" stroke="#000" stroke-width="0.2">RSI(14) 47.4028</text><rect x="1166" y="485" width="1" height="1" fill="#000"/><text x="1169" y="494" font-size="10.0" fill="#000" font-family="'Liberation Sans', Arial, sans-serif" textLength="37.5" lengthAdjust="spacingAndGlyphs" stroke="#000" stroke-width="0.2">0.008903</text><rect x="1166" y="530" width="1" height="1" fill="#000"/><text x="1169" y="534" font-size="10.0" fill="#000" font-family="'Liberation Sans', Arial, sans-serif" textLength="17.2" lengthAdjust="spacingAndGlyphs" stroke="#000" stroke-width="0.2">0.00</text><rect x="1166" y="566" width="1" height="1" fill="#000"/><text x="1169" y="565" font-size="10.0" fill="#000" font-family="'Liberation Sans', Arial, sans-serif" textLength="42.5" lengthAdjust="spacingAndGlyphs" stroke="#000" stroke-width="0.2">-0.006977</text><rect x="1166" y="571" width="1" height="1" fill="#000"/><rect x="1166" y="655" width="1" height="1" fill="#000"/><text x="1169.4" y="580.5" font-size="10.0" fill="#000" font-family="'Liberation Sans', Arial, sans-serif" textLength="14.4" lengthAdjust="spacingAndGlyphs" stroke="#000" stroke-width="0.2">100</text><text x="1168.2" y="600.5" font-size="10.0" fill="#000" font-family="'Liberation Sans', Arial, sans-serif" textLength="9.6" lengthAdjust="spacingAndGlyphs" stroke="#000" stroke-width="0.2">70</text><text x="1168.2" y="634.5" font-size="10.0" fill="#000" font-family="'Liberation Sans', Arial, sans-serif" textLength="9.6" lengthAdjust="spacingAndGlyphs" stroke="#000" stroke-width="0.2">30</text><text x="1168.7" y="653" font-size="10.0" fill="#000" font-family="'Liberation Sans', Arial, sans-serif" textLength="5.5" lengthAdjust="spacingAndGlyphs" stroke="#000" stroke-width="0.2">0</text><defs>
<linearGradient id="gTop" x1="0" y1="0" x2="0" y2="1"><stop offset="0" stop-color="#f65858"/><stop offset="1" stop-color="#dc2c2c"/></linearGradient>
<linearGradient id="gBot" gradientUnits="userSpaceOnUse" x1="0" y1="65" x2="0" y2="98"><stop offset="0" stop-color="#d82424"/><stop offset="1" stop-color="#b00000"/></linearGradient>
<linearGradient id="gBtn" x1="0" y1="0" x2="0" y2="1"><stop offset="0" stop-color="#ececec"/><stop offset="0.5" stop-color="#e2e2e2"/><stop offset="0.5" stop-color="#d6d6d6"/><stop offset="1" stop-color="#cfcfcf"/></linearGradient>
</defs><rect x="6" y="41" width="52" height="24" fill="#c20000"/><rect x="7" y="42" width="50" height="23" fill="url(#gTop)"/><rect x="6" y="65" width="109" height="33" fill="url(#gBot)"/><rect x="10" y="64" width="44" height="1" fill="#9a0000"/><rect x="10" y="65" width="44" height="1" fill="#f07070"/><rect x="173" y="41" width="52" height="24" fill="#c20000"/><rect x="174" y="42" width="50" height="23" fill="url(#gTop)"/><rect x="117" y="65" width="108" height="33" fill="url(#gBot)"/><rect x="177" y="64" width="44" height="1" fill="#9a0000"/><rect x="177" y="65" width="44" height="1" fill="#f07070"/><rect x="60.5" y="41.5" width="110" height="21" fill="#ffffff" stroke="#a8a8b0" stroke-width="1"/><rect x="61.5" y="42.5" width="20" height="19" fill="url(#gBtn)"/><rect x="82" y="42" width="1" height="20" fill="#b4b4b4"/><rect x="150" y="42.5" width="20" height="19" fill="url(#gBtn)"/><rect x="149" y="42" width="1" height="20" fill="#b4b4b4"/><polygon points="68.5,50 73.5,50 71,53" fill="#5565c8" shape-rendering="auto"/><polygon points="156.5,53.5 162.5,53.5 159.5,50" fill="#5565c8" shape-rendering="auto"/><text x="145.3" y="56" font-size="12.6" fill="#000" font-family="'Liberation Sans', Arial, sans-serif" text-anchor="end">3.00</text><text x="18.4" y="56.7" font-size="11.6" fill="#fff" font-family="'Liberation Sans', Arial, sans-serif" textLength="25.4" lengthAdjust="spacingAndGlyphs">SELL</text><text x="186.6" y="56.7" font-size="11.6" fill="#fff" font-family="'Liberation Sans', Arial, sans-serif" textLength="22.9" lengthAdjust="spacingAndGlyphs">BUY</text><text x="25.9" y="92.6" font-size="11.8" fill="#fff" font-family="'Liberation Sans', Arial, sans-serif" textLength="23.4" lengthAdjust="spacingAndGlyphs" font-weight="bold">0.73</text><text x="135.9" y="92.6" font-size="11.8" fill="#fff" font-family="'Liberation Sans', Arial, sans-serif" textLength="23.4" lengthAdjust="spacingAndGlyphs" font-weight="bold">0.73</text><text x="52.6" y="92.6" font-size="35" fill="#fff" font-family="'Liberation Sans', Arial, sans-serif" textLength="36" lengthAdjust="spacingAndGlyphs" stroke="url(#gBot)" stroke-width="0.5">73</text><text x="163.8" y="92.6" font-size="35" fill="#fff" font-family="'Liberation Sans', Arial, sans-serif" textLength="37" lengthAdjust="spacingAndGlyphs" stroke="url(#gBot)" stroke-width="0.5">74</text><text x="93" y="76.5" font-size="11.4" fill="#fff" font-family="'Liberation Sans', Arial, sans-serif" font-weight="bold">6</text><text x="204" y="76.5" font-size="11.4" fill="#fff" font-family="'Liberation Sans', Arial, sans-serif" font-weight="bold">9</text><rect x="0" y="677" width="1206" height="1" fill="#e3e3e3"/><rect x="0" y="679" width="1206" height="1" fill="#000"/><rect x="0" y="680" width="1206" height="19" fill="#f0f0f0"/><rect x="0" y="699" width="1206" height="1" fill="#ffffff"/><rect x="0" y="700" width="1206" height="3" fill="#f0f0f0"/><rect x="0" y="703" width="1206" height="1" fill="#a0a0a0"/><rect x="0" y="704" width="1206" height="5" fill="#ffffff"/><rect x="1" y="704" width="1" height="5" fill="#e0e0e0"/><rect x="109" y="704" width="1" height="5" fill="#e0e0e0"/><rect x="194" y="704" width="1" height="5" fill="#e0e0e0"/><rect x="301" y="704" width="1" height="5" fill="#e0e0e0"/><rect x="422" y="704" width="1" height="5" fill="#e0e0e0"/><rect x="541" y="704" width="1" height="5" fill="#e0e0e0"/><rect x="661" y="704" width="1" height="5" fill="#e0e0e0"/><rect x="782" y="704" width="1" height="5" fill="#e0e0e0"/><rect x="901" y="704" width="1" height="5" fill="#e0e0e0"/><rect x="1021" y="704" width="1" height="5" fill="#e0e0e0"/><rect x="96" y="679" width="104" height="19" fill="#ffffff"/><rect x="96" y="679" width="1" height="19" fill="#000"/><rect x="199" y="679" width="1" height="19" fill="#000"/><rect x="96" y="697" width="104" height="1" fill="#000"/><rect x="95" y="680" width="1" height="17" fill="#ffffff"/><text x="16" y="693.6" font-size="12.4" fill="#6d6d6d" font-family="'Liberation Sans', Arial, sans-serif" textLength="68" lengthAdjust="spacingAndGlyphs" stroke="#6d6d6d" stroke-width="0.1">EURUSD,H4</text><text x="107" y="693.6" font-size="12.4" fill="#000" font-family="'Liberation Sans', Arial, sans-serif" textLength="82" lengthAdjust="spacingAndGlyphs" stroke="#000" stroke-width="0.1">AUDUSD,Daily</text><text x="210.6" y="693.6" font-size="12.4" fill="#6d6d6d" font-family="'Liberation Sans', Arial, sans-serif" textLength="66.4" lengthAdjust="spacingAndGlyphs" stroke="#6d6d6d" stroke-width="0.1">USDCHF,H4</text><text x="299.5" y="693.6" font-size="12.4" fill="#6d6d6d" font-family="'Liberation Sans', Arial, sans-serif" textLength="80.3" lengthAdjust="spacingAndGlyphs" stroke="#6d6d6d" stroke-width="0.1">USDCAD,Daily</text><text x="402.3" y="693.6" font-size="12.4" fill="#6d6d6d" font-family="'Liberation Sans', Arial, sans-serif" textLength="83" lengthAdjust="spacingAndGlyphs" stroke="#6d6d6d" stroke-width="0.1">USDCNH,Daily</text><text x="508.5" y="693.6" font-size="12.4" fill="#6d6d6d" font-family="'Liberation Sans', Arial, sans-serif" textLength="51.1" lengthAdjust="spacingAndGlyphs" stroke="#6d6d6d" stroke-width="0.1">UKOil,H1</text><text x="582.4" y="693.6" font-size="12.4" fill="#6d6d6d" font-family="'Liberation Sans', Arial, sans-serif" textLength="45.6" lengthAdjust="spacingAndGlyphs" stroke="#6d6d6d" stroke-width="0.1">DJ30,H1</text><text x="652" y="693.6" font-size="12.4" fill="#6d6d6d" font-family="'Liberation Sans', Arial, sans-serif" textLength="51.2" lengthAdjust="spacingAndGlyphs" stroke="#6d6d6d" stroke-width="0.1">USDX,H1</text><text x="727" y="693.6" font-size="12.4" fill="#6d6d6d" font-family="'Liberation Sans', Arial, sans-serif" textLength="68.8" lengthAdjust="spacingAndGlyphs" stroke="#6d6d6d" stroke-width="0.1">XAUUSD,H1</text><text x="820.4" y="693.6" font-size="12.4" fill="#6d6d6d" font-family="'Liberation Sans', Arial, sans-serif" textLength="67.6" lengthAdjust="spacingAndGlyphs" stroke="#6d6d6d" stroke-width="0.1">GBPUSD,H1</text><rect x="288" y="683" width="1" height="12" fill="#a0a0a0"/><rect x="392" y="683" width="1" height="12" fill="#a0a0a0"/><rect x="496" y="683" width="1" height="12" fill="#a0a0a0"/><rect x="572" y="683" width="1" height="12" fill="#a0a0a0"/><rect x="640" y="683" width="1" height="12" fill="#a0a0a0"/><rect x="716" y="683" width="1" height="12" fill="#a0a0a0"/><rect x="808" y="683" width="1" height="12" fill="#a0a0a0"/><rect x="900" y="683" width="1" height="12" fill="#a0a0a0"/><polygon points="1185,684.5 1185,691.5 1181,688" fill="#a0a0a0" shape-rendering="auto"/><polygon points="1199.5,684.5 1199.5,691.5 1203.5,688" fill="#a0a0a0" shape-rendering="auto"/>
</svg></body></html>
